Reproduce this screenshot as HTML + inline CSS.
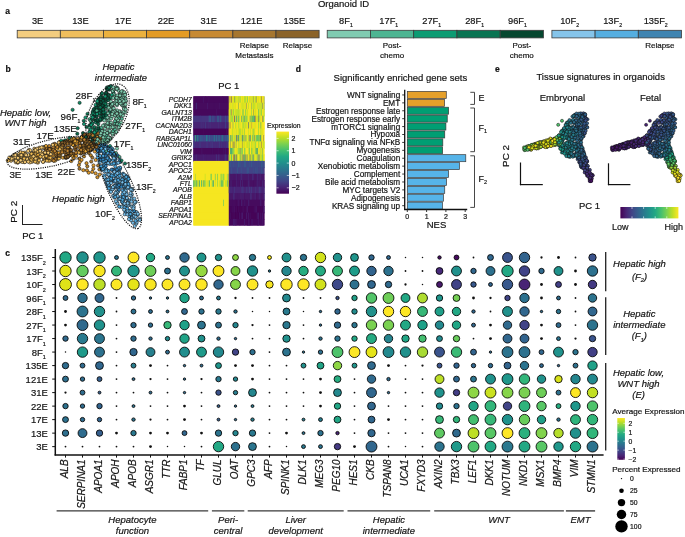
<!DOCTYPE html>
<html><head><meta charset="utf-8"><style>
html,body{margin:0;padding:0;background:#fff;}
svg{display:block;font-family:"Liberation Sans",sans-serif;will-change:transform;}
svg text{stroke:#151515;stroke-width:0.2px;}
</style></head><body>
<svg width="685" height="537" viewBox="0 0 685 537">
<rect width="685" height="537" fill="#fff"/>
<text x="5.2" y="14.0" font-size="8.50" text-anchor="start" fill="#111" style="font-weight:bold">a</text>
<text x="343.6" y="6.7" font-size="9.50" text-anchor="middle" fill="#151515">Organoid ID</text>
<rect x="17.20" y="30.3" width="43.13" height="7.6" fill="#f3cd7f" stroke="#3b3b3b" stroke-width="0.8"/>
<rect x="60.33" y="30.3" width="43.13" height="7.6" fill="#efbe5d" stroke="#3b3b3b" stroke-width="0.8"/>
<rect x="103.46" y="30.3" width="43.13" height="7.6" fill="#ebb13e" stroke="#3b3b3b" stroke-width="0.8"/>
<rect x="146.59" y="30.3" width="43.13" height="7.6" fill="#e39b25" stroke="#3b3b3b" stroke-width="0.8"/>
<rect x="189.72" y="30.3" width="43.13" height="7.6" fill="#c78a33" stroke="#3b3b3b" stroke-width="0.8"/>
<rect x="232.85" y="30.3" width="43.13" height="7.6" fill="#a6762f" stroke="#3b3b3b" stroke-width="0.8"/>
<rect x="275.98" y="30.3" width="43.13" height="7.6" fill="#8b6329" stroke="#3b3b3b" stroke-width="0.8"/>
<text x="37.6" y="24.2" font-size="9.30" text-anchor="middle" fill="#151515">3E</text>
<text x="80.4" y="24.2" font-size="9.30" text-anchor="middle" fill="#151515">13E</text>
<text x="123.2" y="24.2" font-size="9.30" text-anchor="middle" fill="#151515">17E</text>
<text x="166.0" y="24.2" font-size="9.30" text-anchor="middle" fill="#151515">22E</text>
<text x="208.8" y="24.2" font-size="9.30" text-anchor="middle" fill="#151515">31E</text>
<text x="251.6" y="24.2" font-size="9.30" text-anchor="middle" fill="#151515">121E</text>
<text x="294.4" y="24.2" font-size="9.30" text-anchor="middle" fill="#151515">135E</text>
<rect x="327.20" y="30.3" width="43.24" height="7.6" fill="#80cbb1" stroke="#3b3b3b" stroke-width="0.8"/>
<rect x="370.44" y="30.3" width="43.24" height="7.6" fill="#4db592" stroke="#3b3b3b" stroke-width="0.8"/>
<rect x="413.68" y="30.3" width="43.24" height="7.6" fill="#0c9c73" stroke="#3b3b3b" stroke-width="0.8"/>
<rect x="456.92" y="30.3" width="43.24" height="7.6" fill="#097452" stroke="#3b3b3b" stroke-width="0.8"/>
<rect x="500.16" y="30.3" width="43.24" height="7.6" fill="#06472f" stroke="#3b3b3b" stroke-width="0.8"/>
<text x="345.9" y="24.2" font-size="9.30" text-anchor="middle" fill="#151515">8F<tspan font-size="5.20" dy="3.1">1</tspan></text>
<text x="388.8" y="24.2" font-size="9.30" text-anchor="middle" fill="#151515">17F<tspan font-size="5.20" dy="3.1">1</tspan></text>
<text x="431.7" y="24.2" font-size="9.30" text-anchor="middle" fill="#151515">27F<tspan font-size="5.20" dy="3.1">1</tspan></text>
<text x="474.6" y="24.2" font-size="9.30" text-anchor="middle" fill="#151515">28F<tspan font-size="5.20" dy="3.1">1</tspan></text>
<text x="517.5" y="24.2" font-size="9.30" text-anchor="middle" fill="#151515">96F<tspan font-size="5.20" dy="3.1">1</tspan></text>
<rect x="551.90" y="30.3" width="43.20" height="7.6" fill="#85c4ea" stroke="#3b3b3b" stroke-width="0.8"/>
<rect x="595.10" y="30.3" width="43.20" height="7.6" fill="#55aee0" stroke="#3b3b3b" stroke-width="0.8"/>
<rect x="638.30" y="30.3" width="43.20" height="7.6" fill="#3f84b1" stroke="#3b3b3b" stroke-width="0.8"/>
<text x="569.6" y="24.2" font-size="9.30" text-anchor="middle" fill="#151515">10F<tspan font-size="5.20" dy="3.1">2</tspan></text>
<text x="612.6" y="24.2" font-size="9.30" text-anchor="middle" fill="#151515">13F<tspan font-size="5.20" dy="3.1">2</tspan></text>
<text x="655.7" y="24.2" font-size="9.30" text-anchor="middle" fill="#151515">135F<tspan font-size="5.20" dy="3.1">2</tspan></text>
<text x="254.4" y="47.5" font-size="8.00" text-anchor="middle" fill="#151515">Relapse</text>
<text x="254.4" y="57.7" font-size="8.00" text-anchor="middle" fill="#151515">Metastasis</text>
<text x="297.5" y="47.5" font-size="8.00" text-anchor="middle" fill="#151515">Relapse</text>
<text x="392.1" y="47.5" font-size="8.00" text-anchor="middle" fill="#151515">Post-</text>
<text x="392.1" y="57.7" font-size="8.00" text-anchor="middle" fill="#151515">chemo</text>
<text x="521.8" y="47.5" font-size="8.00" text-anchor="middle" fill="#151515">Post-</text>
<text x="521.8" y="57.7" font-size="8.00" text-anchor="middle" fill="#151515">chemo</text>
<text x="659.9" y="47.5" font-size="8.00" text-anchor="middle" fill="#151515">Relapse</text>
<text x="5.5" y="72.0" font-size="8.50" text-anchor="start" fill="#111" style="font-weight:bold">b</text>
<g stroke="#111" stroke-width="0.55">
<circle cx="70.9" cy="152.1" r="1.6" fill="#9c6e2b"/>
<circle cx="116.1" cy="96.0" r="1.6" fill="#80cfb1"/>
<circle cx="103.8" cy="138.1" r="1.6" fill="#80cfb1"/>
<circle cx="131.2" cy="218.1" r="1.6" fill="#78bfea"/>
<circle cx="110.2" cy="153.7" r="1.6" fill="#4aa7df"/>
<circle cx="121.3" cy="103.1" r="1.6" fill="#80cfb1"/>
<circle cx="95.8" cy="145.3" r="1.6" fill="#825b25"/>
<circle cx="77.3" cy="151.3" r="1.6" fill="#c08431"/>
<circle cx="114.1" cy="126.8" r="1.6" fill="#80cfb1"/>
<circle cx="82.9" cy="135.8" r="1.6" fill="#9c6e2b"/>
<circle cx="67.4" cy="140.2" r="1.6" fill="#825b25"/>
<circle cx="127.8" cy="212.0" r="1.6" fill="#78bfea"/>
<circle cx="84.5" cy="139.4" r="1.6" fill="#825b25"/>
<circle cx="80.2" cy="140.7" r="1.6" fill="#825b25"/>
<circle cx="93.8" cy="140.2" r="1.6" fill="#139e78"/>
<circle cx="129.4" cy="204.8" r="1.6" fill="#78bfea"/>
<circle cx="48.7" cy="148.8" r="1.6" fill="#9c6e2b"/>
<circle cx="17.8" cy="157.4" r="1.6" fill="#f0bb52"/>
<circle cx="116.8" cy="191.2" r="1.6" fill="#78bfea"/>
<circle cx="95.0" cy="120.3" r="1.6" fill="#07553e"/>
<circle cx="113.3" cy="133.2" r="1.6" fill="#80cfb1"/>
<circle cx="116.8" cy="180.4" r="1.6" fill="#78bfea"/>
<circle cx="79.8" cy="151.1" r="1.6" fill="#825b25"/>
<circle cx="123.1" cy="173.7" r="1.6" fill="#2f7fb8"/>
<circle cx="109.2" cy="175.5" r="1.6" fill="#2f7fb8"/>
<circle cx="75.8" cy="139.4" r="1.6" fill="#e09b2a"/>
<circle cx="115.8" cy="155.1" r="1.6" fill="#2f7fb8"/>
<circle cx="87.3" cy="140.7" r="1.6" fill="#9c6e2b"/>
<circle cx="101.8" cy="134.5" r="1.6" fill="#80cfb1"/>
<circle cx="117.2" cy="202.9" r="1.6" fill="#78bfea"/>
<circle cx="47.4" cy="152.6" r="1.6" fill="#825b25"/>
<circle cx="56.6" cy="156.9" r="1.6" fill="#825b25"/>
<circle cx="65.0" cy="140.3" r="1.6" fill="#0f8a62"/>
<circle cx="113.8" cy="93.1" r="1.6" fill="#139e78"/>
<circle cx="101.0" cy="130.2" r="1.6" fill="#4db592"/>
<circle cx="84.5" cy="152.3" r="1.6" fill="#e09b2a"/>
<circle cx="99.6" cy="129.6" r="1.6" fill="#139e78"/>
<circle cx="122.2" cy="105.4" r="1.6" fill="#80cfb1"/>
<circle cx="106.4" cy="92.3" r="1.6" fill="#07553e"/>
<circle cx="84.2" cy="151.6" r="1.6" fill="#9c6e2b"/>
<circle cx="17.4" cy="156.9" r="1.6" fill="#f7cb72"/>
<circle cx="91.0" cy="149.6" r="1.6" fill="#9c6e2b"/>
<circle cx="113.5" cy="103.7" r="1.6" fill="#80cfb1"/>
<circle cx="127.7" cy="180.1" r="1.6" fill="#4aa7df"/>
<circle cx="45.8" cy="146.8" r="1.6" fill="#e6a838"/>
<circle cx="79.8" cy="144.4" r="1.6" fill="#9c6e2b"/>
<circle cx="102.1" cy="134.2" r="1.6" fill="#80cfb1"/>
<circle cx="58.6" cy="155.0" r="1.6" fill="#e09b2a"/>
<circle cx="109.6" cy="132.3" r="1.6" fill="#4db592"/>
<circle cx="131.1" cy="220.4" r="1.6" fill="#78bfea"/>
<circle cx="118.5" cy="180.8" r="1.6" fill="#78bfea"/>
<circle cx="66.2" cy="154.7" r="1.6" fill="#9c6e2b"/>
<circle cx="123.2" cy="195.8" r="1.6" fill="#78bfea"/>
<circle cx="110.1" cy="104.2" r="1.6" fill="#0b7756"/>
<circle cx="116.1" cy="118.8" r="1.6" fill="#80cfb1"/>
<circle cx="20.4" cy="160.6" r="1.6" fill="#f7cb72"/>
<circle cx="92.4" cy="145.1" r="1.6" fill="#c08431"/>
<circle cx="116.5" cy="172.6" r="1.6" fill="#4aa7df"/>
<circle cx="112.7" cy="107.2" r="1.6" fill="#80cfb1"/>
<circle cx="107.0" cy="99.9" r="1.6" fill="#07553e"/>
<circle cx="29.7" cy="157.6" r="1.6" fill="#f7cb72"/>
<circle cx="105.3" cy="111.9" r="1.6" fill="#139e78"/>
<circle cx="71.6" cy="142.9" r="1.6" fill="#825b25"/>
<circle cx="115.5" cy="112.4" r="1.6" fill="#80cfb1"/>
<circle cx="115.4" cy="123.5" r="1.6" fill="#80cfb1"/>
<circle cx="44.6" cy="147.1" r="1.6" fill="#f7cb72"/>
<circle cx="99.1" cy="143.2" r="1.6" fill="#e6a838"/>
<circle cx="86.9" cy="146.7" r="1.6" fill="#825b25"/>
<circle cx="116.2" cy="98.0" r="1.6" fill="#80cfb1"/>
<circle cx="120.2" cy="96.8" r="1.6" fill="#80cfb1"/>
<circle cx="85.6" cy="140.0" r="1.6" fill="#e6a838"/>
<circle cx="71.3" cy="161.1" r="1.6" fill="#e09b2a"/>
<circle cx="116.1" cy="184.7" r="1.6" fill="#4aa7df"/>
<circle cx="107.2" cy="97.1" r="1.6" fill="#07553e"/>
<circle cx="104.7" cy="115.1" r="1.6" fill="#0b7756"/>
<circle cx="109.7" cy="123.0" r="1.6" fill="#4db592"/>
<circle cx="110.5" cy="138.1" r="1.6" fill="#80cfb1"/>
<circle cx="80.7" cy="153.6" r="1.6" fill="#825b25"/>
<circle cx="85.8" cy="135.4" r="1.6" fill="#825b25"/>
<circle cx="15.3" cy="160.4" r="1.6" fill="#f7cb72"/>
<circle cx="117.7" cy="119.8" r="1.6" fill="#4db592"/>
<circle cx="101.6" cy="169.3" r="1.6" fill="#2f7fb8"/>
<circle cx="114.0" cy="186.0" r="1.6" fill="#4aa7df"/>
<circle cx="99.9" cy="139.4" r="1.6" fill="#825b25"/>
<circle cx="134.7" cy="216.8" r="1.6" fill="#78bfea"/>
<circle cx="107.4" cy="170.3" r="1.6" fill="#4aa7df"/>
<circle cx="72.0" cy="154.5" r="1.6" fill="#825b25"/>
<circle cx="113.1" cy="195.7" r="1.6" fill="#78bfea"/>
<circle cx="39.2" cy="156.8" r="1.6" fill="#f0bb52"/>
<circle cx="111.8" cy="115.8" r="1.6" fill="#80cfb1"/>
<circle cx="70.1" cy="155.0" r="1.6" fill="#825b25"/>
<circle cx="112.0" cy="150.0" r="1.6" fill="#4db592"/>
<circle cx="118.4" cy="90.7" r="1.6" fill="#80cfb1"/>
<circle cx="122.3" cy="196.4" r="1.6" fill="#78bfea"/>
<circle cx="53.7" cy="160.4" r="1.6" fill="#825b25"/>
<circle cx="118.1" cy="182.4" r="1.6" fill="#4aa7df"/>
<circle cx="91.2" cy="136.5" r="1.6" fill="#0b7756"/>
<circle cx="19.0" cy="155.3" r="1.6" fill="#f0bb52"/>
<circle cx="107.8" cy="88.4" r="1.6" fill="#0b7756"/>
<circle cx="127.5" cy="177.1" r="1.6" fill="#2f7fb8"/>
<circle cx="113.6" cy="89.9" r="1.6" fill="#0b7756"/>
<circle cx="36.2" cy="151.2" r="1.6" fill="#f7cb72"/>
<circle cx="44.9" cy="160.0" r="1.6" fill="#f7cb72"/>
<circle cx="124.9" cy="94.0" r="1.6" fill="#80cfb1"/>
<circle cx="124.5" cy="94.4" r="1.6" fill="#80cfb1"/>
<circle cx="112.5" cy="187.9" r="1.6" fill="#2f7fb8"/>
<circle cx="97.6" cy="157.7" r="1.6" fill="#4aa7df"/>
<circle cx="39.2" cy="157.5" r="1.6" fill="#f7cb72"/>
<circle cx="90.3" cy="132.0" r="1.6" fill="#07553e"/>
<circle cx="100.6" cy="143.8" r="1.6" fill="#80cfb1"/>
<circle cx="119.8" cy="116.0" r="1.6" fill="#80cfb1"/>
<circle cx="108.3" cy="120.4" r="1.6" fill="#80cfb1"/>
<circle cx="42.6" cy="153.6" r="1.6" fill="#f7cb72"/>
<circle cx="71.0" cy="140.4" r="1.6" fill="#c08431"/>
<circle cx="119.6" cy="94.5" r="1.6" fill="#80cfb1"/>
<circle cx="103.8" cy="158.8" r="1.6" fill="#4aa7df"/>
<circle cx="84.2" cy="146.8" r="1.6" fill="#c08431"/>
<circle cx="119.9" cy="111.5" r="1.6" fill="#80cfb1"/>
<circle cx="69.1" cy="151.0" r="1.6" fill="#9c6e2b"/>
<circle cx="112.6" cy="134.7" r="1.6" fill="#80cfb1"/>
<circle cx="129.7" cy="211.1" r="1.6" fill="#78bfea"/>
<circle cx="98.1" cy="131.9" r="1.6" fill="#80cfb1"/>
<circle cx="57.0" cy="145.9" r="1.6" fill="#0f8a62"/>
<circle cx="51.2" cy="148.7" r="1.6" fill="#825b25"/>
<circle cx="94.1" cy="136.0" r="1.6" fill="#e6a838"/>
<circle cx="79.5" cy="168.7" r="1.6" fill="#a6762f"/>
<circle cx="28.4" cy="155.1" r="1.6" fill="#f7cb72"/>
<circle cx="115.3" cy="176.1" r="1.6" fill="#2f7fb8"/>
<circle cx="107.5" cy="117.4" r="1.6" fill="#80cfb1"/>
<circle cx="113.5" cy="156.3" r="1.6" fill="#2f7fb8"/>
<circle cx="120.6" cy="93.1" r="1.6" fill="#80cfb1"/>
<circle cx="123.3" cy="199.4" r="1.6" fill="#78bfea"/>
<circle cx="117.5" cy="103.1" r="1.6" fill="#80cfb1"/>
<circle cx="10.9" cy="157.4" r="1.6" fill="#f7cb72"/>
<circle cx="101.6" cy="118.4" r="1.6" fill="#0b7756"/>
<circle cx="134.8" cy="226.0" r="1.6" fill="#78bfea"/>
<circle cx="45.4" cy="148.9" r="1.6" fill="#9c6e2b"/>
<circle cx="126.1" cy="181.1" r="1.6" fill="#78bfea"/>
<circle cx="65.1" cy="142.6" r="1.6" fill="#e6a838"/>
<circle cx="76.2" cy="147.3" r="1.6" fill="#c08431"/>
<circle cx="36.0" cy="154.1" r="1.6" fill="#f7cb72"/>
<circle cx="11.0" cy="158.3" r="1.6" fill="#f0bb52"/>
<circle cx="109.6" cy="109.3" r="1.6" fill="#07553e"/>
<circle cx="107.7" cy="99.7" r="1.6" fill="#80cfb1"/>
<circle cx="14.5" cy="156.8" r="1.6" fill="#f7cb72"/>
<circle cx="120.2" cy="167.9" r="1.6" fill="#4aa7df"/>
<circle cx="125.0" cy="93.8" r="1.6" fill="#80cfb1"/>
<circle cx="119.5" cy="206.5" r="1.6" fill="#78bfea"/>
<circle cx="125.4" cy="212.1" r="1.6" fill="#2f7fb8"/>
<circle cx="110.0" cy="146.0" r="1.6" fill="#139e78"/>
<circle cx="81.0" cy="138.7" r="1.6" fill="#825b25"/>
<circle cx="122.3" cy="183.2" r="1.6" fill="#4aa7df"/>
<circle cx="100.1" cy="140.8" r="1.6" fill="#e09b2a"/>
<circle cx="93.9" cy="114.8" r="1.6" fill="#139e78"/>
<circle cx="108.6" cy="171.1" r="1.6" fill="#4aa7df"/>
<circle cx="62.9" cy="157.7" r="1.6" fill="#e6a838"/>
<circle cx="99.0" cy="128.2" r="1.6" fill="#0b7756"/>
<circle cx="118.6" cy="116.9" r="1.6" fill="#80cfb1"/>
<circle cx="100.0" cy="136.2" r="1.6" fill="#825b25"/>
<circle cx="92.2" cy="114.9" r="1.6" fill="#0b7756"/>
<circle cx="117.6" cy="155.4" r="1.6" fill="#2f7fb8"/>
<circle cx="129.0" cy="212.6" r="1.6" fill="#4aa7df"/>
<circle cx="110.0" cy="86.7" r="1.6" fill="#0b7756"/>
<circle cx="85.2" cy="138.3" r="1.6" fill="#9c6e2b"/>
<circle cx="102.7" cy="138.2" r="1.6" fill="#80cfb1"/>
<circle cx="68.8" cy="148.9" r="1.6" fill="#c08431"/>
<circle cx="57.5" cy="159.0" r="1.6" fill="#825b25"/>
<circle cx="77.8" cy="138.6" r="1.6" fill="#c08431"/>
<circle cx="130.8" cy="188.8" r="1.6" fill="#78bfea"/>
<circle cx="118.6" cy="185.6" r="1.6" fill="#4aa7df"/>
<circle cx="100.6" cy="151.3" r="1.6" fill="#4aa7df"/>
<circle cx="119.7" cy="169.4" r="1.6" fill="#2f7fb8"/>
<circle cx="107.3" cy="99.0" r="1.6" fill="#139e78"/>
<circle cx="41.5" cy="153.7" r="1.6" fill="#f7cb72"/>
<circle cx="104.1" cy="116.9" r="1.6" fill="#0b7756"/>
<circle cx="101.7" cy="113.0" r="1.6" fill="#0b7756"/>
<circle cx="28.7" cy="159.3" r="1.6" fill="#f7cb72"/>
<circle cx="114.5" cy="97.7" r="1.6" fill="#80cfb1"/>
<circle cx="128.0" cy="210.1" r="1.6" fill="#78bfea"/>
<circle cx="104.0" cy="153.7" r="1.6" fill="#2f7fb8"/>
<circle cx="112.8" cy="91.4" r="1.6" fill="#139e78"/>
<circle cx="125.9" cy="206.2" r="1.6" fill="#78bfea"/>
<circle cx="60.6" cy="153.8" r="1.6" fill="#c08431"/>
<circle cx="114.8" cy="171.3" r="1.6" fill="#4aa7df"/>
<circle cx="117.0" cy="148.5" r="1.6" fill="#80cfb1"/>
<circle cx="85.8" cy="138.0" r="1.6" fill="#9c6e2b"/>
<circle cx="59.2" cy="143.0" r="1.6" fill="#c08431"/>
<circle cx="116.0" cy="87.1" r="1.6" fill="#80cfb1"/>
<circle cx="52.2" cy="151.5" r="1.6" fill="#e09b2a"/>
<circle cx="103.7" cy="164.6" r="1.6" fill="#78bfea"/>
<circle cx="109.6" cy="148.0" r="1.6" fill="#2f7fb8"/>
<circle cx="91.5" cy="122.7" r="1.6" fill="#07553e"/>
<circle cx="90.1" cy="142.2" r="1.6" fill="#825b25"/>
<circle cx="114.5" cy="170.2" r="1.6" fill="#4aa7df"/>
<circle cx="29.0" cy="149.8" r="1.6" fill="#f7cb72"/>
<circle cx="69.6" cy="141.2" r="1.6" fill="#825b25"/>
<circle cx="46.4" cy="150.2" r="1.6" fill="#c08431"/>
<circle cx="96.1" cy="139.5" r="1.6" fill="#4db592"/>
<circle cx="44.0" cy="158.9" r="1.6" fill="#e6a838"/>
<circle cx="100.1" cy="98.0" r="1.6" fill="#07553e"/>
<circle cx="112.5" cy="126.9" r="1.6" fill="#80cfb1"/>
<circle cx="72.0" cy="144.1" r="1.6" fill="#9c6e2b"/>
<circle cx="93.2" cy="141.3" r="1.6" fill="#0b7756"/>
<circle cx="23.8" cy="153.8" r="1.6" fill="#f7cb72"/>
<circle cx="79.7" cy="148.0" r="1.6" fill="#e09b2a"/>
<circle cx="123.5" cy="203.9" r="1.6" fill="#4aa7df"/>
<circle cx="133.3" cy="216.3" r="1.6" fill="#78bfea"/>
<circle cx="119.8" cy="111.5" r="1.6" fill="#80cfb1"/>
<circle cx="132.3" cy="190.0" r="1.6" fill="#78bfea"/>
<circle cx="65.7" cy="144.9" r="1.6" fill="#9c6e2b"/>
<circle cx="78.9" cy="165.1" r="1.6" fill="#d39028"/>
<circle cx="112.1" cy="155.0" r="1.6" fill="#2f7fb8"/>
<circle cx="54.4" cy="144.3" r="1.6" fill="#825b25"/>
<circle cx="59.3" cy="142.3" r="1.6" fill="#c08431"/>
<circle cx="124.6" cy="187.9" r="1.6" fill="#4aa7df"/>
<circle cx="99.8" cy="142.1" r="1.6" fill="#9c6e2b"/>
<circle cx="46.8" cy="148.0" r="1.6" fill="#c08431"/>
<circle cx="107.2" cy="135.2" r="1.6" fill="#80cfb1"/>
<circle cx="59.7" cy="156.5" r="1.6" fill="#c08431"/>
<circle cx="113.6" cy="94.4" r="1.6" fill="#80cfb1"/>
<circle cx="112.5" cy="103.0" r="1.6" fill="#80cfb1"/>
<circle cx="55.2" cy="149.6" r="1.6" fill="#825b25"/>
<circle cx="69.1" cy="142.6" r="1.6" fill="#e09b2a"/>
<circle cx="97.9" cy="141.7" r="1.6" fill="#9c6e2b"/>
<circle cx="107.9" cy="138.8" r="1.6" fill="#80cfb1"/>
<circle cx="43.2" cy="161.8" r="1.6" fill="#f0bb52"/>
<circle cx="110.0" cy="108.0" r="1.6" fill="#80cfb1"/>
<circle cx="122.5" cy="91.1" r="1.6" fill="#80cfb1"/>
<circle cx="124.7" cy="214.3" r="1.6" fill="#78bfea"/>
<circle cx="111.9" cy="180.1" r="1.6" fill="#2f7fb8"/>
<circle cx="88.7" cy="172.7" r="1.6" fill="#e09b2a"/>
<circle cx="115.5" cy="158.3" r="1.6" fill="#4aa7df"/>
<circle cx="24.8" cy="152.6" r="1.6" fill="#f0bb52"/>
<circle cx="104.5" cy="143.5" r="1.6" fill="#2f7fb8"/>
<circle cx="113.5" cy="155.3" r="1.6" fill="#2f7fb8"/>
<circle cx="121.9" cy="118.8" r="1.6" fill="#4db592"/>
<circle cx="100.0" cy="134.2" r="1.6" fill="#80cfb1"/>
<circle cx="17.4" cy="159.6" r="1.6" fill="#f7cb72"/>
<circle cx="119.8" cy="101.3" r="1.6" fill="#80cfb1"/>
<circle cx="53.8" cy="152.4" r="1.6" fill="#e09b2a"/>
<circle cx="48.1" cy="154.3" r="1.6" fill="#e6a838"/>
<circle cx="37.3" cy="153.8" r="1.6" fill="#f7cb72"/>
<circle cx="115.1" cy="115.4" r="1.6" fill="#80cfb1"/>
<circle cx="115.0" cy="132.4" r="1.6" fill="#80cfb1"/>
<circle cx="117.2" cy="186.3" r="1.6" fill="#2f7fb8"/>
<circle cx="110.5" cy="112.9" r="1.6" fill="#80cfb1"/>
<circle cx="129.6" cy="216.4" r="1.6" fill="#4aa7df"/>
<circle cx="101.4" cy="94.4" r="1.6" fill="#0b7756"/>
<circle cx="98.9" cy="100.3" r="1.6" fill="#139e78"/>
<circle cx="122.1" cy="178.7" r="1.6" fill="#4aa7df"/>
<circle cx="109.7" cy="164.0" r="1.6" fill="#4aa7df"/>
<circle cx="98.5" cy="100.7" r="1.6" fill="#07553e"/>
<circle cx="114.2" cy="180.9" r="1.6" fill="#2f7fb8"/>
<circle cx="47.0" cy="159.4" r="1.6" fill="#825b25"/>
<circle cx="84.3" cy="134.7" r="1.6" fill="#825b25"/>
<circle cx="97.1" cy="114.6" r="1.6" fill="#0b7756"/>
<circle cx="117.8" cy="184.9" r="1.6" fill="#4aa7df"/>
<circle cx="120.2" cy="177.7" r="1.6" fill="#78bfea"/>
<circle cx="127.2" cy="199.3" r="1.6" fill="#4aa7df"/>
<circle cx="7.8" cy="160.4" r="1.6" fill="#f7cb72"/>
<circle cx="116.3" cy="103.0" r="1.6" fill="#80cfb1"/>
<circle cx="124.0" cy="203.3" r="1.6" fill="#78bfea"/>
<circle cx="135.8" cy="201.9" r="1.6" fill="#4aa7df"/>
<circle cx="126.5" cy="196.3" r="1.6" fill="#78bfea"/>
<circle cx="88.9" cy="145.2" r="1.6" fill="#e09b2a"/>
<circle cx="13.3" cy="158.8" r="1.6" fill="#f7cb72"/>
<circle cx="32.5" cy="161.6" r="1.6" fill="#f7cb72"/>
<circle cx="118.0" cy="116.0" r="1.6" fill="#80cfb1"/>
<circle cx="44.0" cy="147.3" r="1.6" fill="#f7cb72"/>
<circle cx="107.9" cy="157.5" r="1.6" fill="#4aa7df"/>
<circle cx="94.3" cy="111.5" r="1.6" fill="#07553e"/>
<circle cx="82.3" cy="136.5" r="1.6" fill="#825b25"/>
<circle cx="92.0" cy="123.4" r="1.6" fill="#139e78"/>
<circle cx="84.4" cy="151.1" r="1.6" fill="#825b25"/>
<circle cx="107.6" cy="135.3" r="1.6" fill="#80cfb1"/>
<circle cx="111.1" cy="122.6" r="1.6" fill="#80cfb1"/>
<circle cx="111.9" cy="111.5" r="1.6" fill="#80cfb1"/>
<circle cx="59.8" cy="142.2" r="1.6" fill="#e6a838"/>
<circle cx="105.8" cy="96.6" r="1.6" fill="#139e78"/>
<circle cx="114.5" cy="126.9" r="1.6" fill="#80cfb1"/>
<circle cx="105.4" cy="178.4" r="1.6" fill="#4aa7df"/>
<circle cx="72.3" cy="140.4" r="1.6" fill="#c08431"/>
<circle cx="41.4" cy="156.5" r="1.6" fill="#f7cb72"/>
<circle cx="121.6" cy="112.5" r="1.6" fill="#80cfb1"/>
<circle cx="35.5" cy="155.3" r="1.6" fill="#c08431"/>
<circle cx="107.5" cy="181.6" r="1.6" fill="#78bfea"/>
<circle cx="116.1" cy="123.9" r="1.6" fill="#80cfb1"/>
<circle cx="90.2" cy="146.2" r="1.6" fill="#825b25"/>
<circle cx="86.1" cy="134.8" r="1.6" fill="#9c6e2b"/>
<circle cx="110.4" cy="105.3" r="1.6" fill="#07553e"/>
<circle cx="130.1" cy="210.7" r="1.6" fill="#78bfea"/>
<circle cx="100.3" cy="102.3" r="1.6" fill="#139e78"/>
<circle cx="95.6" cy="173.3" r="1.6" fill="#e09b2a"/>
<circle cx="124.7" cy="182.5" r="1.6" fill="#78bfea"/>
<circle cx="119.5" cy="157.0" r="1.6" fill="#4db592"/>
<circle cx="101.1" cy="167.7" r="1.6" fill="#2f7fb8"/>
<circle cx="106.6" cy="158.5" r="1.6" fill="#2f7fb8"/>
<circle cx="96.4" cy="144.0" r="1.6" fill="#825b25"/>
<circle cx="116.2" cy="173.8" r="1.6" fill="#4aa7df"/>
<circle cx="92.1" cy="140.8" r="1.6" fill="#0b7756"/>
<circle cx="83.7" cy="136.0" r="1.6" fill="#825b25"/>
<circle cx="102.4" cy="115.8" r="1.6" fill="#139e78"/>
<circle cx="113.3" cy="90.3" r="1.6" fill="#139e78"/>
<circle cx="110.7" cy="125.2" r="1.6" fill="#80cfb1"/>
<circle cx="124.6" cy="101.3" r="1.6" fill="#80cfb1"/>
<circle cx="106.7" cy="182.7" r="1.6" fill="#2f7fb8"/>
<circle cx="37.3" cy="150.9" r="1.6" fill="#f7cb72"/>
<circle cx="86.9" cy="170.3" r="1.6" fill="#d39028"/>
<circle cx="125.9" cy="101.3" r="1.6" fill="#80cfb1"/>
<circle cx="114.3" cy="181.7" r="1.6" fill="#2f7fb8"/>
<circle cx="100.5" cy="159.4" r="1.6" fill="#2f7fb8"/>
<circle cx="90.4" cy="127.4" r="1.6" fill="#139e78"/>
<circle cx="43.6" cy="153.9" r="1.6" fill="#f7cb72"/>
<circle cx="126.7" cy="179.6" r="1.6" fill="#78bfea"/>
<circle cx="93.6" cy="135.8" r="1.6" fill="#e6a838"/>
<circle cx="102.3" cy="169.4" r="1.6" fill="#4aa7df"/>
<circle cx="107.4" cy="96.5" r="1.6" fill="#139e78"/>
<circle cx="84.6" cy="143.7" r="1.6" fill="#825b25"/>
<circle cx="62.0" cy="142.8" r="1.6" fill="#e6a838"/>
<circle cx="119.7" cy="162.0" r="1.6" fill="#4aa7df"/>
<circle cx="131.6" cy="199.1" r="1.6" fill="#78bfea"/>
<circle cx="71.3" cy="141.8" r="1.6" fill="#825b25"/>
<circle cx="117.1" cy="124.8" r="1.6" fill="#80cfb1"/>
<circle cx="48.9" cy="148.5" r="1.6" fill="#c08431"/>
<circle cx="118.4" cy="197.3" r="1.6" fill="#78bfea"/>
<circle cx="81.5" cy="138.4" r="1.6" fill="#9c6e2b"/>
<circle cx="86.9" cy="144.5" r="1.6" fill="#9c6e2b"/>
<circle cx="120.5" cy="92.9" r="1.6" fill="#80cfb1"/>
<circle cx="93.5" cy="165.4" r="1.6" fill="#e6a232"/>
<circle cx="17.8" cy="162.7" r="1.6" fill="#f7cb72"/>
<circle cx="49.2" cy="146.0" r="1.6" fill="#c08431"/>
<circle cx="109.5" cy="173.8" r="1.6" fill="#4aa7df"/>
<circle cx="128.5" cy="178.9" r="1.6" fill="#4aa7df"/>
<circle cx="74.2" cy="155.1" r="1.6" fill="#c08431"/>
<circle cx="125.1" cy="107.5" r="1.6" fill="#80cfb1"/>
<circle cx="124.0" cy="175.5" r="1.6" fill="#4aa7df"/>
<circle cx="97.3" cy="139.5" r="1.6" fill="#80cfb1"/>
<circle cx="109.1" cy="186.1" r="1.6" fill="#2f7fb8"/>
<circle cx="120.6" cy="94.1" r="1.6" fill="#80cfb1"/>
<circle cx="105.6" cy="103.7" r="1.6" fill="#139e78"/>
<circle cx="118.2" cy="191.7" r="1.6" fill="#78bfea"/>
<circle cx="95.8" cy="115.8" r="1.6" fill="#0b7756"/>
<circle cx="104.5" cy="134.8" r="1.6" fill="#80cfb1"/>
<circle cx="103.7" cy="160.6" r="1.6" fill="#2f7fb8"/>
<circle cx="98.2" cy="142.7" r="1.6" fill="#80cfb1"/>
<circle cx="68.4" cy="148.2" r="1.6" fill="#e6a838"/>
<circle cx="99.8" cy="147.8" r="1.6" fill="#78bfea"/>
<circle cx="73.5" cy="158.3" r="1.6" fill="#b98226"/>
<circle cx="89.6" cy="134.8" r="1.6" fill="#825b25"/>
<circle cx="34.4" cy="159.4" r="1.6" fill="#f0bb52"/>
<circle cx="114.9" cy="123.4" r="1.6" fill="#4db592"/>
<circle cx="74.1" cy="138.3" r="1.6" fill="#9c6e2b"/>
<circle cx="116.6" cy="172.4" r="1.6" fill="#4aa7df"/>
<circle cx="112.4" cy="107.0" r="1.6" fill="#80cfb1"/>
<circle cx="117.0" cy="87.9" r="1.6" fill="#80cfb1"/>
<circle cx="101.9" cy="110.6" r="1.6" fill="#0b7756"/>
<circle cx="61.2" cy="143.1" r="1.6" fill="#825b25"/>
<circle cx="101.5" cy="135.1" r="1.6" fill="#80cfb1"/>
<circle cx="127.6" cy="210.8" r="1.6" fill="#78bfea"/>
<circle cx="130.4" cy="211.2" r="1.6" fill="#4aa7df"/>
<circle cx="106.7" cy="89.1" r="1.6" fill="#07553e"/>
<circle cx="56.0" cy="152.3" r="1.6" fill="#c08431"/>
<circle cx="124.9" cy="193.8" r="1.6" fill="#78bfea"/>
<circle cx="113.7" cy="129.8" r="1.6" fill="#80cfb1"/>
<circle cx="105.8" cy="180.1" r="1.6" fill="#4aa7df"/>
<circle cx="98.8" cy="110.5" r="1.6" fill="#139e78"/>
<circle cx="84.6" cy="141.9" r="1.6" fill="#825b25"/>
<circle cx="98.2" cy="149.7" r="1.6" fill="#4aa7df"/>
<circle cx="124.1" cy="105.4" r="1.6" fill="#80cfb1"/>
<circle cx="117.2" cy="124.1" r="1.6" fill="#80cfb1"/>
<circle cx="132.4" cy="211.9" r="1.6" fill="#78bfea"/>
<circle cx="114.4" cy="197.6" r="1.6" fill="#4aa7df"/>
<circle cx="71.0" cy="153.6" r="1.6" fill="#825b25"/>
<circle cx="101.9" cy="138.2" r="1.6" fill="#80cfb1"/>
<circle cx="83.8" cy="120.8" r="1.6" fill="#0b7756"/>
<circle cx="107.4" cy="174.1" r="1.6" fill="#78bfea"/>
<circle cx="112.6" cy="133.3" r="1.6" fill="#80cfb1"/>
<circle cx="111.3" cy="86.6" r="1.6" fill="#139e78"/>
<circle cx="109.5" cy="111.7" r="1.6" fill="#80cfb1"/>
<circle cx="125.0" cy="183.9" r="1.6" fill="#4aa7df"/>
<circle cx="65.9" cy="141.4" r="1.6" fill="#9c6e2b"/>
<circle cx="119.6" cy="96.3" r="1.6" fill="#80cfb1"/>
<circle cx="126.5" cy="181.6" r="1.6" fill="#78bfea"/>
<circle cx="90.7" cy="144.8" r="1.6" fill="#e6a838"/>
<circle cx="102.9" cy="161.1" r="1.6" fill="#4aa7df"/>
<circle cx="69.2" cy="147.2" r="1.6" fill="#825b25"/>
<circle cx="59.0" cy="158.5" r="1.6" fill="#f0bb52"/>
<circle cx="111.8" cy="94.8" r="1.6" fill="#139e78"/>
<circle cx="119.8" cy="99.6" r="1.6" fill="#80cfb1"/>
<circle cx="57.6" cy="152.9" r="1.6" fill="#825b25"/>
<circle cx="31.0" cy="158.4" r="1.6" fill="#f0bb52"/>
<circle cx="101.5" cy="105.3" r="1.6" fill="#139e78"/>
<circle cx="92.0" cy="149.4" r="1.6" fill="#825b25"/>
<circle cx="104.2" cy="130.7" r="1.6" fill="#80cfb1"/>
<circle cx="113.0" cy="103.9" r="1.6" fill="#80cfb1"/>
<circle cx="74.5" cy="143.5" r="1.6" fill="#9c6e2b"/>
<circle cx="136.1" cy="215.3" r="1.6" fill="#78bfea"/>
<circle cx="117.8" cy="122.4" r="1.6" fill="#4db592"/>
<circle cx="90.3" cy="131.3" r="1.6" fill="#139e78"/>
<circle cx="116.8" cy="112.7" r="1.6" fill="#80cfb1"/>
<circle cx="76.4" cy="146.8" r="1.6" fill="#c08431"/>
<circle cx="97.2" cy="146.6" r="1.6" fill="#9c6e2b"/>
<circle cx="89.5" cy="132.0" r="1.6" fill="#0b7756"/>
<circle cx="84.4" cy="136.5" r="1.6" fill="#9c6e2b"/>
<circle cx="126.0" cy="175.7" r="1.6" fill="#2f7fb8"/>
<circle cx="23.7" cy="154.5" r="1.6" fill="#f7cb72"/>
<circle cx="121.5" cy="91.4" r="1.6" fill="#80cfb1"/>
<circle cx="122.1" cy="185.3" r="1.6" fill="#4aa7df"/>
<circle cx="63.3" cy="147.4" r="1.6" fill="#9c6e2b"/>
<circle cx="37.3" cy="156.1" r="1.6" fill="#f0bb52"/>
<circle cx="71.9" cy="154.7" r="1.6" fill="#825b25"/>
<circle cx="24.9" cy="154.0" r="1.6" fill="#f7cb72"/>
<circle cx="90.8" cy="135.2" r="1.6" fill="#9c6e2b"/>
<circle cx="124.0" cy="96.8" r="1.6" fill="#80cfb1"/>
<circle cx="37.4" cy="157.9" r="1.6" fill="#f7cb72"/>
<circle cx="131.9" cy="217.1" r="1.6" fill="#2f7fb8"/>
<circle cx="108.4" cy="141.1" r="1.6" fill="#80cfb1"/>
<circle cx="68.8" cy="150.1" r="1.6" fill="#9c6e2b"/>
<circle cx="107.3" cy="125.8" r="1.6" fill="#80cfb1"/>
<circle cx="139.8" cy="218.7" r="1.6" fill="#78bfea"/>
<circle cx="90.8" cy="125.5" r="1.6" fill="#0b7756"/>
<circle cx="103.0" cy="169.1" r="1.6" fill="#2f7fb8"/>
<circle cx="109.5" cy="182.9" r="1.6" fill="#78bfea"/>
<circle cx="31.4" cy="161.8" r="1.6" fill="#f7cb72"/>
<circle cx="19.0" cy="158.8" r="1.6" fill="#f7cb72"/>
<circle cx="104.2" cy="143.4" r="1.6" fill="#2f7fb8"/>
<circle cx="80.9" cy="145.6" r="1.6" fill="#825b25"/>
<circle cx="121.6" cy="206.9" r="1.6" fill="#78bfea"/>
<circle cx="89.3" cy="146.2" r="1.6" fill="#825b25"/>
<circle cx="103.7" cy="135.9" r="1.6" fill="#80cfb1"/>
<circle cx="124.0" cy="93.5" r="1.6" fill="#80cfb1"/>
<circle cx="105.4" cy="101.9" r="1.6" fill="#139e78"/>
<circle cx="34.3" cy="148.7" r="1.6" fill="#f7cb72"/>
<circle cx="29.9" cy="159.9" r="1.6" fill="#f7cb72"/>
<circle cx="100.2" cy="120.5" r="1.6" fill="#0b7756"/>
<circle cx="112.1" cy="125.8" r="1.6" fill="#80cfb1"/>
<circle cx="106.4" cy="134.3" r="1.6" fill="#80cfb1"/>
<circle cx="70.2" cy="154.7" r="1.6" fill="#825b25"/>
<circle cx="30.4" cy="158.0" r="1.6" fill="#f0bb52"/>
<circle cx="64.4" cy="151.6" r="1.6" fill="#c08431"/>
<circle cx="69.7" cy="150.0" r="1.6" fill="#825b25"/>
<circle cx="133.3" cy="206.4" r="1.6" fill="#4aa7df"/>
<circle cx="110.7" cy="138.7" r="1.6" fill="#80cfb1"/>
<circle cx="99.1" cy="151.5" r="1.6" fill="#2f7fb8"/>
<circle cx="62.3" cy="148.5" r="1.6" fill="#9c6e2b"/>
<circle cx="95.2" cy="115.2" r="1.6" fill="#139e78"/>
<circle cx="90.0" cy="137.3" r="1.6" fill="#825b25"/>
<circle cx="107.5" cy="184.5" r="1.6" fill="#2f7fb8"/>
<circle cx="33.4" cy="155.3" r="1.6" fill="#e6a838"/>
<circle cx="28.4" cy="160.5" r="1.6" fill="#f7cb72"/>
<circle cx="24.1" cy="161.0" r="1.6" fill="#f0bb52"/>
<circle cx="53.7" cy="155.8" r="1.6" fill="#e6a838"/>
<circle cx="124.1" cy="108.0" r="1.6" fill="#80cfb1"/>
<circle cx="136.3" cy="223.7" r="1.6" fill="#78bfea"/>
<circle cx="97.1" cy="110.6" r="1.6" fill="#07553e"/>
<circle cx="127.6" cy="188.3" r="1.6" fill="#78bfea"/>
<circle cx="97.4" cy="136.6" r="1.6" fill="#825b25"/>
<circle cx="112.5" cy="174.1" r="1.6" fill="#78bfea"/>
<circle cx="102.0" cy="111.3" r="1.6" fill="#139e78"/>
<circle cx="87.3" cy="166.3" r="1.6" fill="#b98226"/>
<circle cx="104.8" cy="153.3" r="1.6" fill="#4aa7df"/>
<circle cx="128.9" cy="219.1" r="1.6" fill="#78bfea"/>
<circle cx="106.1" cy="114.5" r="1.6" fill="#139e78"/>
<circle cx="47.9" cy="157.3" r="1.6" fill="#f0bb52"/>
<circle cx="89.3" cy="141.6" r="1.6" fill="#c08431"/>
<circle cx="116.6" cy="193.5" r="1.6" fill="#78bfea"/>
<circle cx="86.4" cy="150.6" r="1.6" fill="#c08431"/>
<circle cx="115.5" cy="187.3" r="1.6" fill="#4aa7df"/>
<circle cx="132.9" cy="222.8" r="1.6" fill="#78bfea"/>
<circle cx="35.2" cy="149.4" r="1.6" fill="#f7cb72"/>
<circle cx="109.8" cy="106.7" r="1.6" fill="#80cfb1"/>
<circle cx="29.8" cy="162.4" r="1.6" fill="#f7cb72"/>
<circle cx="73.5" cy="144.8" r="1.6" fill="#e6a838"/>
<circle cx="126.3" cy="206.5" r="1.6" fill="#78bfea"/>
<circle cx="107.6" cy="157.0" r="1.6" fill="#2f7fb8"/>
<circle cx="99.4" cy="169.5" r="1.6" fill="#b98226"/>
<circle cx="131.9" cy="194.4" r="1.6" fill="#78bfea"/>
<circle cx="114.2" cy="103.2" r="1.6" fill="#80cfb1"/>
<circle cx="77.4" cy="151.6" r="1.6" fill="#e6a838"/>
<circle cx="91.7" cy="115.4" r="1.6" fill="#4db592"/>
<circle cx="82.4" cy="149.7" r="1.6" fill="#825b25"/>
<circle cx="136.3" cy="212.8" r="1.6" fill="#78bfea"/>
<circle cx="103.2" cy="140.7" r="1.6" fill="#80cfb1"/>
<circle cx="101.3" cy="101.6" r="1.6" fill="#139e78"/>
<circle cx="112.6" cy="155.9" r="1.6" fill="#2f7fb8"/>
<circle cx="106.9" cy="87.5" r="1.6" fill="#0b7756"/>
<circle cx="108.1" cy="186.4" r="1.6" fill="#78bfea"/>
<circle cx="103.9" cy="133.9" r="1.6" fill="#4db592"/>
<circle cx="100.1" cy="104.0" r="1.6" fill="#0b7756"/>
<circle cx="30.1" cy="150.3" r="1.6" fill="#f7cb72"/>
<circle cx="55.0" cy="149.7" r="1.6" fill="#c08431"/>
<circle cx="125.3" cy="177.0" r="1.6" fill="#78bfea"/>
<circle cx="60.0" cy="143.8" r="1.6" fill="#c08431"/>
<circle cx="109.4" cy="150.1" r="1.6" fill="#2f7fb8"/>
<circle cx="103.6" cy="141.9" r="1.6" fill="#80cfb1"/>
<circle cx="97.6" cy="105.3" r="1.6" fill="#139e78"/>
<circle cx="73.8" cy="143.2" r="1.6" fill="#e6a838"/>
<circle cx="124.1" cy="178.3" r="1.6" fill="#78bfea"/>
<circle cx="95.8" cy="146.6" r="1.6" fill="#825b25"/>
<circle cx="101.1" cy="110.8" r="1.6" fill="#0b7756"/>
<circle cx="109.3" cy="138.1" r="1.6" fill="#80cfb1"/>
<circle cx="112.2" cy="164.1" r="1.6" fill="#4aa7df"/>
<circle cx="94.1" cy="112.3" r="1.6" fill="#0b7756"/>
<circle cx="81.4" cy="149.0" r="1.6" fill="#825b25"/>
<circle cx="117.7" cy="88.4" r="1.6" fill="#80cfb1"/>
<circle cx="117.1" cy="114.2" r="1.6" fill="#80cfb1"/>
<circle cx="100.9" cy="167.4" r="1.6" fill="#4aa7df"/>
<circle cx="119.9" cy="167.5" r="1.6" fill="#4aa7df"/>
<circle cx="61.3" cy="142.0" r="1.6" fill="#f7cb72"/>
<circle cx="104.4" cy="175.3" r="1.6" fill="#4aa7df"/>
<circle cx="112.9" cy="90.6" r="1.6" fill="#80cfb1"/>
<circle cx="31.5" cy="159.7" r="1.6" fill="#f0bb52"/>
<circle cx="70.5" cy="150.5" r="1.6" fill="#825b25"/>
<circle cx="122.0" cy="104.5" r="1.6" fill="#80cfb1"/>
<circle cx="122.2" cy="201.9" r="1.6" fill="#78bfea"/>
<circle cx="75.1" cy="149.5" r="1.6" fill="#825b25"/>
<circle cx="38.0" cy="162.6" r="1.6" fill="#f0bb52"/>
<circle cx="100.5" cy="140.2" r="1.6" fill="#e09b2a"/>
<circle cx="109.0" cy="153.0" r="1.6" fill="#4aa7df"/>
<circle cx="15.8" cy="154.2" r="1.6" fill="#f7cb72"/>
<circle cx="103.6" cy="109.3" r="1.6" fill="#07553e"/>
<circle cx="24.5" cy="162.1" r="1.6" fill="#f0bb52"/>
<circle cx="135.3" cy="211.8" r="1.6" fill="#78bfea"/>
<circle cx="18.5" cy="160.5" r="1.6" fill="#f7cb72"/>
<circle cx="81.5" cy="152.9" r="1.6" fill="#825b25"/>
<circle cx="111.2" cy="177.8" r="1.6" fill="#4aa7df"/>
<circle cx="108.3" cy="126.2" r="1.6" fill="#80cfb1"/>
<circle cx="97.8" cy="147.1" r="1.6" fill="#4aa7df"/>
<circle cx="96.2" cy="122.7" r="1.6" fill="#4db592"/>
<circle cx="89.7" cy="135.3" r="1.6" fill="#4db592"/>
<circle cx="105.5" cy="94.2" r="1.6" fill="#0b7756"/>
<circle cx="102.5" cy="142.4" r="1.6" fill="#80cfb1"/>
<circle cx="59.4" cy="145.1" r="1.6" fill="#f0bb52"/>
<circle cx="115.0" cy="121.1" r="1.6" fill="#4db592"/>
<circle cx="123.0" cy="178.8" r="1.6" fill="#78bfea"/>
<circle cx="16.8" cy="162.1" r="1.6" fill="#f7cb72"/>
<circle cx="39.7" cy="154.9" r="1.6" fill="#f7cb72"/>
<circle cx="103.8" cy="100.0" r="1.6" fill="#4db592"/>
<circle cx="124.7" cy="207.4" r="1.6" fill="#4aa7df"/>
<circle cx="71.9" cy="139.5" r="1.6" fill="#825b25"/>
<circle cx="117.4" cy="203.5" r="1.6" fill="#78bfea"/>
<circle cx="91.7" cy="123.7" r="1.6" fill="#07553e"/>
<circle cx="95.2" cy="143.7" r="1.6" fill="#9c6e2b"/>
<circle cx="97.9" cy="154.1" r="1.6" fill="#4aa7df"/>
<circle cx="98.1" cy="110.7" r="1.6" fill="#139e78"/>
<circle cx="60.2" cy="142.0" r="1.6" fill="#c08431"/>
<circle cx="50.4" cy="160.4" r="1.6" fill="#f7cb72"/>
<circle cx="24.0" cy="159.4" r="1.6" fill="#f7cb72"/>
<circle cx="97.8" cy="106.5" r="1.6" fill="#0b7756"/>
<circle cx="117.1" cy="110.4" r="1.6" fill="#80cfb1"/>
<circle cx="67.2" cy="157.4" r="1.6" fill="#c08431"/>
<circle cx="123.9" cy="108.9" r="1.6" fill="#80cfb1"/>
<circle cx="94.3" cy="141.2" r="1.6" fill="#80cfb1"/>
<circle cx="84.6" cy="147.2" r="1.6" fill="#825b25"/>
<circle cx="46.8" cy="156.3" r="1.6" fill="#f7cb72"/>
<circle cx="25.8" cy="160.4" r="1.6" fill="#f7cb72"/>
<circle cx="124.2" cy="190.7" r="1.6" fill="#78bfea"/>
<circle cx="127.7" cy="200.7" r="1.6" fill="#78bfea"/>
<circle cx="84.0" cy="156.4" r="1.6" fill="#b98226"/>
<circle cx="116.4" cy="112.6" r="1.6" fill="#80cfb1"/>
<circle cx="120.5" cy="197.3" r="1.6" fill="#78bfea"/>
<circle cx="50.4" cy="155.4" r="1.6" fill="#e6a838"/>
<circle cx="97.9" cy="133.4" r="1.6" fill="#9c6e2b"/>
<circle cx="113.9" cy="153.7" r="1.6" fill="#4aa7df"/>
<circle cx="72.6" cy="144.4" r="1.6" fill="#e6a838"/>
<circle cx="95.4" cy="114.0" r="1.6" fill="#0b7756"/>
<circle cx="110.4" cy="179.4" r="1.6" fill="#4aa7df"/>
<circle cx="88.9" cy="136.0" r="1.6" fill="#9c6e2b"/>
<circle cx="37.4" cy="150.8" r="1.6" fill="#f7cb72"/>
<circle cx="79.8" cy="162.1" r="1.6" fill="#e6a232"/>
<circle cx="88.8" cy="153.1" r="1.6" fill="#a6762f"/>
<circle cx="26.8" cy="157.7" r="1.6" fill="#f7cb72"/>
<circle cx="91.1" cy="132.5" r="1.6" fill="#0b7756"/>
<circle cx="105.1" cy="96.8" r="1.6" fill="#139e78"/>
<circle cx="102.3" cy="104.9" r="1.6" fill="#07553e"/>
<circle cx="19.7" cy="157.4" r="1.6" fill="#f7cb72"/>
<circle cx="131.9" cy="188.9" r="1.6" fill="#78bfea"/>
<circle cx="89.5" cy="132.2" r="1.6" fill="#139e78"/>
<circle cx="119.8" cy="96.1" r="1.6" fill="#80cfb1"/>
<circle cx="16.0" cy="156.0" r="1.6" fill="#f7cb72"/>
<circle cx="90.6" cy="137.2" r="1.6" fill="#4db592"/>
<circle cx="36.1" cy="155.6" r="1.6" fill="#e6a838"/>
<circle cx="123.0" cy="103.1" r="1.6" fill="#80cfb1"/>
<circle cx="118.2" cy="168.4" r="1.6" fill="#4aa7df"/>
<circle cx="118.4" cy="128.2" r="1.6" fill="#80cfb1"/>
<circle cx="85.0" cy="143.2" r="1.6" fill="#9c6e2b"/>
<circle cx="91.9" cy="135.2" r="1.6" fill="#0b7756"/>
<circle cx="115.2" cy="163.0" r="1.6" fill="#2f7fb8"/>
<circle cx="97.0" cy="142.3" r="1.6" fill="#825b25"/>
<circle cx="118.0" cy="176.6" r="1.6" fill="#78bfea"/>
<circle cx="112.3" cy="126.2" r="1.6" fill="#80cfb1"/>
<circle cx="92.7" cy="112.1" r="1.6" fill="#0b7756"/>
<circle cx="98.1" cy="126.9" r="1.6" fill="#4db592"/>
<circle cx="111.4" cy="151.9" r="1.6" fill="#4aa7df"/>
<circle cx="37.5" cy="157.8" r="1.6" fill="#f0bb52"/>
<circle cx="112.9" cy="152.5" r="1.6" fill="#2f7fb8"/>
<circle cx="48.6" cy="152.0" r="1.6" fill="#f0bb52"/>
<circle cx="108.5" cy="94.6" r="1.6" fill="#07553e"/>
<circle cx="48.8" cy="160.9" r="1.6" fill="#e6a838"/>
<circle cx="107.7" cy="123.9" r="1.6" fill="#80cfb1"/>
<circle cx="104.5" cy="167.9" r="1.6" fill="#78bfea"/>
<circle cx="21.1" cy="152.6" r="1.6" fill="#f7cb72"/>
<circle cx="68.7" cy="149.9" r="1.6" fill="#c08431"/>
<circle cx="121.3" cy="182.2" r="1.6" fill="#78bfea"/>
<circle cx="99.5" cy="161.3" r="1.6" fill="#4aa7df"/>
<circle cx="54.1" cy="159.7" r="1.6" fill="#e6a838"/>
<circle cx="127.9" cy="205.3" r="1.6" fill="#78bfea"/>
<circle cx="50.0" cy="154.0" r="1.6" fill="#f0bb52"/>
<circle cx="79.5" cy="143.0" r="1.6" fill="#9c6e2b"/>
<circle cx="108.0" cy="106.0" r="1.6" fill="#0b7756"/>
<circle cx="105.6" cy="106.0" r="1.6" fill="#139e78"/>
<circle cx="92.4" cy="145.9" r="1.6" fill="#9c6e2b"/>
<circle cx="59.2" cy="147.1" r="1.6" fill="#825b25"/>
<circle cx="58.6" cy="152.9" r="1.6" fill="#e09b2a"/>
<circle cx="105.9" cy="163.6" r="1.6" fill="#4aa7df"/>
<circle cx="126.3" cy="205.0" r="1.6" fill="#78bfea"/>
<circle cx="122.5" cy="202.3" r="1.6" fill="#78bfea"/>
<circle cx="98.9" cy="145.2" r="1.6" fill="#825b25"/>
<circle cx="32.3" cy="157.6" r="1.6" fill="#e6a838"/>
<circle cx="48.9" cy="149.0" r="1.6" fill="#9c6e2b"/>
<circle cx="53.7" cy="159.8" r="1.6" fill="#e09b2a"/>
<circle cx="74.4" cy="139.7" r="1.6" fill="#e6a838"/>
<circle cx="125.0" cy="163.5" r="1.6" fill="#0b7756"/>
<circle cx="101.3" cy="135.1" r="1.6" fill="#4db592"/>
<circle cx="48.8" cy="154.2" r="1.6" fill="#9c6e2b"/>
<circle cx="117.4" cy="88.2" r="1.6" fill="#80cfb1"/>
<circle cx="129.1" cy="185.9" r="1.6" fill="#2f7fb8"/>
<circle cx="22.2" cy="154.5" r="1.6" fill="#f7cb72"/>
<circle cx="134.1" cy="211.1" r="1.6" fill="#2f7fb8"/>
<circle cx="90.6" cy="136.9" r="1.6" fill="#4db592"/>
<circle cx="81.8" cy="140.0" r="1.6" fill="#825b25"/>
<circle cx="104.3" cy="101.2" r="1.6" fill="#139e78"/>
<circle cx="125.4" cy="98.2" r="1.6" fill="#80cfb1"/>
<circle cx="108.3" cy="187.1" r="1.6" fill="#4aa7df"/>
<circle cx="138.1" cy="219.6" r="1.6" fill="#78bfea"/>
<circle cx="56.7" cy="147.5" r="1.6" fill="#e6a838"/>
<circle cx="116.9" cy="113.5" r="1.6" fill="#80cfb1"/>
<circle cx="96.7" cy="120.4" r="1.6" fill="#139e78"/>
<circle cx="98.9" cy="106.7" r="1.6" fill="#4db592"/>
<circle cx="121.0" cy="181.1" r="1.6" fill="#78bfea"/>
<circle cx="86.5" cy="127.0" r="1.6" fill="#0b7756"/>
<circle cx="39.4" cy="156.5" r="1.6" fill="#c08431"/>
<circle cx="117.3" cy="192.3" r="1.6" fill="#78bfea"/>
<circle cx="110.7" cy="117.2" r="1.6" fill="#80cfb1"/>
<circle cx="65.8" cy="158.0" r="1.6" fill="#825b25"/>
<circle cx="110.1" cy="127.3" r="1.6" fill="#80cfb1"/>
<circle cx="132.4" cy="217.4" r="1.6" fill="#78bfea"/>
<circle cx="83.1" cy="138.7" r="1.6" fill="#9c6e2b"/>
<circle cx="68.1" cy="148.0" r="1.6" fill="#c08431"/>
<circle cx="34.1" cy="151.0" r="1.6" fill="#f7cb72"/>
<circle cx="111.5" cy="153.3" r="1.6" fill="#2f7fb8"/>
<circle cx="79.6" cy="102.8" r="1.6" fill="#0f8a62"/>
<circle cx="110.9" cy="98.0" r="1.6" fill="#139e78"/>
<circle cx="65.3" cy="156.9" r="1.6" fill="#825b25"/>
<circle cx="60.5" cy="147.7" r="1.6" fill="#f0bb52"/>
<circle cx="125.2" cy="180.9" r="1.6" fill="#4aa7df"/>
<circle cx="90.8" cy="135.8" r="1.6" fill="#9c6e2b"/>
<circle cx="20.6" cy="159.0" r="1.6" fill="#f7cb72"/>
<circle cx="118.9" cy="118.3" r="1.6" fill="#4db592"/>
<circle cx="11.1" cy="160.8" r="1.6" fill="#f7cb72"/>
<circle cx="75.5" cy="154.9" r="1.6" fill="#c08431"/>
<circle cx="76.8" cy="141.1" r="1.6" fill="#825b25"/>
<circle cx="110.1" cy="138.3" r="1.6" fill="#80cfb1"/>
<circle cx="103.3" cy="118.5" r="1.6" fill="#139e78"/>
<circle cx="108.0" cy="122.4" r="1.6" fill="#80cfb1"/>
<circle cx="39.3" cy="147.7" r="1.6" fill="#f7cb72"/>
<circle cx="116.3" cy="174.4" r="1.6" fill="#4aa7df"/>
<circle cx="95.5" cy="107.5" r="1.6" fill="#139e78"/>
<circle cx="51.7" cy="156.0" r="1.6" fill="#c08431"/>
<circle cx="125.4" cy="191.5" r="1.6" fill="#78bfea"/>
<circle cx="61.1" cy="149.4" r="1.6" fill="#f0bb52"/>
<circle cx="31.4" cy="155.6" r="1.6" fill="#f7cb72"/>
<circle cx="111.1" cy="183.1" r="1.6" fill="#78bfea"/>
<circle cx="124.1" cy="209.8" r="1.6" fill="#78bfea"/>
<circle cx="103.7" cy="106.5" r="1.6" fill="#0b7756"/>
<circle cx="13.8" cy="157.8" r="1.6" fill="#f7cb72"/>
<circle cx="42.2" cy="152.1" r="1.6" fill="#f7cb72"/>
<circle cx="103.1" cy="99.2" r="1.6" fill="#07553e"/>
<circle cx="106.2" cy="135.5" r="1.6" fill="#4db592"/>
<circle cx="98.1" cy="141.7" r="1.6" fill="#80cfb1"/>
<circle cx="23.1" cy="161.7" r="1.6" fill="#f7cb72"/>
<circle cx="68.6" cy="155.7" r="1.6" fill="#825b25"/>
<circle cx="122.8" cy="113.9" r="1.6" fill="#80cfb1"/>
<circle cx="66.9" cy="148.2" r="1.6" fill="#825b25"/>
<circle cx="134.4" cy="203.3" r="1.6" fill="#78bfea"/>
<circle cx="109.5" cy="112.0" r="1.6" fill="#0b7756"/>
<circle cx="19.9" cy="161.5" r="1.6" fill="#f7cb72"/>
<circle cx="92.2" cy="171.9" r="1.6" fill="#e09b2a"/>
<circle cx="109.3" cy="89.7" r="1.6" fill="#07553e"/>
<circle cx="38.1" cy="154.6" r="1.6" fill="#e6a838"/>
<circle cx="105.5" cy="148.0" r="1.6" fill="#4aa7df"/>
<circle cx="119.9" cy="102.8" r="1.6" fill="#80cfb1"/>
<circle cx="96.3" cy="138.4" r="1.6" fill="#9c6e2b"/>
<circle cx="95.6" cy="104.8" r="1.6" fill="#139e78"/>
<circle cx="106.2" cy="150.4" r="1.6" fill="#2f7fb8"/>
<circle cx="124.5" cy="186.4" r="1.6" fill="#78bfea"/>
<circle cx="104.5" cy="177.4" r="1.6" fill="#78bfea"/>
<circle cx="115.4" cy="172.5" r="1.6" fill="#4aa7df"/>
<circle cx="15.8" cy="159.1" r="1.6" fill="#f7cb72"/>
<circle cx="125.1" cy="112.4" r="1.6" fill="#80cfb1"/>
<circle cx="115.6" cy="101.7" r="1.6" fill="#80cfb1"/>
<circle cx="19.9" cy="155.7" r="1.6" fill="#f7cb72"/>
<circle cx="117.4" cy="98.1" r="1.6" fill="#80cfb1"/>
<circle cx="91.2" cy="161.5" r="1.6" fill="#a6762f"/>
<circle cx="124.2" cy="199.1" r="1.6" fill="#78bfea"/>
<circle cx="98.3" cy="123.9" r="1.6" fill="#0b7756"/>
<circle cx="112.7" cy="90.9" r="1.6" fill="#80cfb1"/>
<circle cx="89.5" cy="125.4" r="1.6" fill="#07553e"/>
<circle cx="102.1" cy="97.6" r="1.6" fill="#07553e"/>
<circle cx="113.1" cy="131.1" r="1.6" fill="#4db592"/>
<circle cx="112.8" cy="149.4" r="1.6" fill="#4aa7df"/>
<circle cx="122.1" cy="198.4" r="1.6" fill="#78bfea"/>
<circle cx="114.9" cy="186.4" r="1.6" fill="#78bfea"/>
<circle cx="93.0" cy="111.4" r="1.6" fill="#139e78"/>
<circle cx="93.2" cy="147.7" r="1.6" fill="#9c6e2b"/>
<circle cx="77.7" cy="128.2" r="1.6" fill="#0b7756"/>
<circle cx="104.4" cy="171.3" r="1.6" fill="#78bfea"/>
<circle cx="118.2" cy="187.8" r="1.6" fill="#78bfea"/>
<circle cx="123.6" cy="199.1" r="1.6" fill="#78bfea"/>
<circle cx="94.5" cy="137.6" r="1.6" fill="#9c6e2b"/>
<circle cx="62.2" cy="149.2" r="1.6" fill="#c08431"/>
<circle cx="89.5" cy="136.3" r="1.6" fill="#825b25"/>
<circle cx="44.0" cy="147.6" r="1.6" fill="#c08431"/>
<circle cx="115.5" cy="194.7" r="1.6" fill="#78bfea"/>
<circle cx="122.8" cy="102.2" r="1.6" fill="#80cfb1"/>
<circle cx="97.4" cy="177.2" r="1.6" fill="#d39028"/>
<circle cx="116.6" cy="193.9" r="1.6" fill="#4aa7df"/>
<circle cx="107.6" cy="108.3" r="1.6" fill="#80cfb1"/>
<circle cx="123.0" cy="180.0" r="1.6" fill="#4aa7df"/>
<circle cx="106.4" cy="161.4" r="1.6" fill="#2f7fb8"/>
<circle cx="89.3" cy="127.9" r="1.6" fill="#4db592"/>
<circle cx="105.7" cy="118.5" r="1.6" fill="#80cfb1"/>
<circle cx="107.2" cy="108.6" r="1.6" fill="#80cfb1"/>
<circle cx="94.9" cy="132.6" r="1.6" fill="#0b7756"/>
<circle cx="77.3" cy="133.7" r="1.6" fill="#0a6a4c"/>
<circle cx="70.4" cy="140.1" r="1.6" fill="#c08431"/>
<circle cx="129.1" cy="200.6" r="1.6" fill="#4aa7df"/>
<circle cx="19.8" cy="153.5" r="1.6" fill="#f7cb72"/>
<circle cx="93.4" cy="116.9" r="1.6" fill="#0b7756"/>
<circle cx="21.9" cy="158.0" r="1.6" fill="#f7cb72"/>
<circle cx="35.2" cy="153.5" r="1.6" fill="#f0bb52"/>
<circle cx="136.8" cy="212.3" r="1.6" fill="#78bfea"/>
<circle cx="108.9" cy="98.8" r="1.6" fill="#07553e"/>
<circle cx="44.0" cy="154.8" r="1.6" fill="#c08431"/>
<circle cx="73.9" cy="142.6" r="1.6" fill="#9c6e2b"/>
<circle cx="43.9" cy="156.7" r="1.6" fill="#f0bb52"/>
<circle cx="114.6" cy="195.6" r="1.6" fill="#78bfea"/>
<circle cx="86.5" cy="163.2" r="1.6" fill="#d39028"/>
<circle cx="65.3" cy="149.8" r="1.6" fill="#c08431"/>
<circle cx="115.3" cy="159.5" r="1.6" fill="#2f7fb8"/>
<circle cx="102.6" cy="106.0" r="1.6" fill="#0b7756"/>
<circle cx="105.0" cy="128.8" r="1.6" fill="#80cfb1"/>
<circle cx="115.2" cy="185.9" r="1.6" fill="#78bfea"/>
<circle cx="106.5" cy="154.9" r="1.6" fill="#4aa7df"/>
<circle cx="103.9" cy="150.5" r="1.6" fill="#2f7fb8"/>
<circle cx="22.2" cy="161.9" r="1.6" fill="#f7cb72"/>
<circle cx="97.3" cy="120.6" r="1.6" fill="#07553e"/>
<circle cx="125.4" cy="98.8" r="1.6" fill="#80cfb1"/>
<circle cx="83.0" cy="133.0" r="1.6" fill="#07553e"/>
<circle cx="98.2" cy="128.3" r="1.6" fill="#07553e"/>
<circle cx="103.5" cy="114.7" r="1.6" fill="#07553e"/>
<circle cx="120.1" cy="98.5" r="1.6" fill="#80cfb1"/>
<circle cx="135.1" cy="215.5" r="1.6" fill="#4aa7df"/>
<circle cx="21.5" cy="160.1" r="1.6" fill="#f7cb72"/>
<circle cx="105.6" cy="117.5" r="1.6" fill="#139e78"/>
<circle cx="127.8" cy="182.8" r="1.6" fill="#4aa7df"/>
<circle cx="125.6" cy="195.2" r="1.6" fill="#4aa7df"/>
<circle cx="133.9" cy="217.5" r="1.6" fill="#4aa7df"/>
<circle cx="108.3" cy="95.5" r="1.6" fill="#0b7756"/>
<circle cx="108.7" cy="132.0" r="1.6" fill="#80cfb1"/>
<circle cx="120.2" cy="95.5" r="1.6" fill="#80cfb1"/>
<circle cx="134.4" cy="198.7" r="1.6" fill="#78bfea"/>
<circle cx="107.6" cy="104.8" r="1.6" fill="#80cfb1"/>
<circle cx="126.8" cy="198.0" r="1.6" fill="#78bfea"/>
<circle cx="43.9" cy="156.1" r="1.6" fill="#f7cb72"/>
<circle cx="114.0" cy="156.5" r="1.6" fill="#80cfb1"/>
<circle cx="88.9" cy="147.8" r="1.6" fill="#9c6e2b"/>
<circle cx="90.2" cy="135.1" r="1.6" fill="#9c6e2b"/>
<circle cx="102.6" cy="166.2" r="1.6" fill="#2f7fb8"/>
<circle cx="77.1" cy="141.6" r="1.6" fill="#825b25"/>
<circle cx="108.7" cy="184.8" r="1.6" fill="#4aa7df"/>
<circle cx="126.1" cy="192.7" r="1.6" fill="#4aa7df"/>
<circle cx="109.2" cy="178.5" r="1.6" fill="#78bfea"/>
<circle cx="113.0" cy="189.1" r="1.6" fill="#78bfea"/>
<circle cx="84.3" cy="145.5" r="1.6" fill="#825b25"/>
<circle cx="104.8" cy="160.5" r="1.6" fill="#2f7fb8"/>
<circle cx="118.8" cy="127.2" r="1.6" fill="#80cfb1"/>
<circle cx="66.7" cy="142.3" r="1.6" fill="#c08431"/>
<circle cx="112.4" cy="169.9" r="1.6" fill="#78bfea"/>
<circle cx="46.3" cy="156.0" r="1.6" fill="#f0bb52"/>
<circle cx="108.7" cy="174.7" r="1.6" fill="#78bfea"/>
<circle cx="54.2" cy="148.5" r="1.6" fill="#f7cb72"/>
<circle cx="107.9" cy="182.8" r="1.6" fill="#78bfea"/>
<circle cx="32.1" cy="154.9" r="1.6" fill="#f0bb52"/>
<circle cx="116.0" cy="153.0" r="1.6" fill="#4db592"/>
<circle cx="112.4" cy="109.3" r="1.6" fill="#80cfb1"/>
<circle cx="118.0" cy="120.2" r="1.6" fill="#80cfb1"/>
<circle cx="65.9" cy="142.4" r="1.6" fill="#825b25"/>
<circle cx="99.0" cy="98.7" r="1.6" fill="#07553e"/>
<circle cx="85.0" cy="150.9" r="1.6" fill="#9c6e2b"/>
<circle cx="116.3" cy="170.7" r="1.6" fill="#4aa7df"/>
<circle cx="104.3" cy="151.7" r="1.6" fill="#2f7fb8"/>
<circle cx="100.8" cy="159.8" r="1.6" fill="#2f7fb8"/>
<circle cx="123.4" cy="112.2" r="1.6" fill="#80cfb1"/>
<circle cx="53.0" cy="149.5" r="1.6" fill="#9c6e2b"/>
<circle cx="87.0" cy="148.6" r="1.6" fill="#825b25"/>
<circle cx="115.3" cy="166.6" r="1.6" fill="#4aa7df"/>
<circle cx="114.3" cy="96.9" r="1.6" fill="#80cfb1"/>
<circle cx="64.6" cy="152.5" r="1.6" fill="#825b25"/>
<circle cx="114.5" cy="170.8" r="1.6" fill="#78bfea"/>
<circle cx="102.3" cy="119.4" r="1.6" fill="#07553e"/>
<circle cx="27.0" cy="158.9" r="1.6" fill="#f7cb72"/>
<circle cx="110.5" cy="191.6" r="1.6" fill="#4aa7df"/>
<circle cx="118.5" cy="99.1" r="1.6" fill="#80cfb1"/>
<circle cx="128.4" cy="202.3" r="1.6" fill="#78bfea"/>
<circle cx="115.9" cy="201.3" r="1.6" fill="#78bfea"/>
<circle cx="91.0" cy="143.3" r="1.6" fill="#825b25"/>
<circle cx="127.6" cy="202.6" r="1.6" fill="#78bfea"/>
<circle cx="98.1" cy="165.5" r="1.6" fill="#a6762f"/>
<circle cx="24.3" cy="157.3" r="1.6" fill="#f7cb72"/>
<circle cx="117.0" cy="186.3" r="1.6" fill="#2f7fb8"/>
<circle cx="124.8" cy="185.5" r="1.6" fill="#78bfea"/>
<circle cx="53.6" cy="160.4" r="1.6" fill="#f0bb52"/>
<circle cx="102.0" cy="131.1" r="1.6" fill="#80cfb1"/>
<circle cx="133.5" cy="208.0" r="1.6" fill="#4aa7df"/>
<circle cx="89.6" cy="119.2" r="1.6" fill="#4db592"/>
<circle cx="101.5" cy="127.6" r="1.6" fill="#4db592"/>
<circle cx="123.5" cy="95.7" r="1.6" fill="#80cfb1"/>
<circle cx="81.4" cy="146.1" r="1.6" fill="#825b25"/>
<circle cx="108.8" cy="150.0" r="1.6" fill="#4aa7df"/>
<circle cx="106.2" cy="160.8" r="1.6" fill="#4aa7df"/>
<circle cx="132.0" cy="206.6" r="1.6" fill="#78bfea"/>
<circle cx="55.1" cy="160.7" r="1.6" fill="#f0bb52"/>
<circle cx="97.1" cy="150.0" r="1.6" fill="#4aa7df"/>
<circle cx="96.1" cy="141.8" r="1.6" fill="#80cfb1"/>
<circle cx="108.6" cy="130.5" r="1.6" fill="#80cfb1"/>
<circle cx="15.5" cy="161.3" r="1.6" fill="#f7cb72"/>
<circle cx="106.0" cy="160.9" r="1.6" fill="#2f7fb8"/>
<circle cx="83.9" cy="152.6" r="1.6" fill="#825b25"/>
<circle cx="94.5" cy="131.5" r="1.6" fill="#07553e"/>
<circle cx="90.6" cy="120.8" r="1.6" fill="#4db592"/>
<circle cx="72.6" cy="109.8" r="1.6" fill="#0f8a62"/>
<circle cx="36.9" cy="162.3" r="1.6" fill="#f7cb72"/>
<circle cx="93.6" cy="141.2" r="1.6" fill="#825b25"/>
<circle cx="95.6" cy="144.9" r="1.6" fill="#825b25"/>
<circle cx="124.1" cy="193.5" r="1.6" fill="#78bfea"/>
<circle cx="123.9" cy="186.1" r="1.6" fill="#78bfea"/>
<circle cx="96.7" cy="149.9" r="1.6" fill="#4aa7df"/>
<circle cx="117.7" cy="180.7" r="1.6" fill="#4aa7df"/>
<circle cx="124.5" cy="190.4" r="1.6" fill="#4aa7df"/>
<circle cx="99.9" cy="142.2" r="1.6" fill="#80cfb1"/>
<circle cx="98.1" cy="107.6" r="1.6" fill="#07553e"/>
<circle cx="102.1" cy="93.2" r="1.6" fill="#0b7756"/>
<circle cx="104.5" cy="124.9" r="1.6" fill="#4db592"/>
<circle cx="40.8" cy="153.2" r="1.6" fill="#f7cb72"/>
<circle cx="117.3" cy="95.4" r="1.6" fill="#80cfb1"/>
<circle cx="110.8" cy="86.0" r="1.6" fill="#139e78"/>
<circle cx="107.8" cy="97.2" r="1.6" fill="#0b7756"/>
<circle cx="127.0" cy="183.9" r="1.6" fill="#4aa7df"/>
<circle cx="42.3" cy="147.5" r="1.6" fill="#c08431"/>
<circle cx="54.8" cy="143.8" r="1.6" fill="#c08431"/>
<circle cx="124.1" cy="198.0" r="1.6" fill="#78bfea"/>
<circle cx="94.6" cy="111.9" r="1.6" fill="#07553e"/>
<circle cx="97.1" cy="137.3" r="1.6" fill="#e6a838"/>
<circle cx="87.0" cy="140.9" r="1.6" fill="#9c6e2b"/>
<circle cx="117.0" cy="105.3" r="1.6" fill="#80cfb1"/>
<circle cx="105.8" cy="160.7" r="1.6" fill="#4aa7df"/>
<circle cx="13.7" cy="155.1" r="1.6" fill="#f7cb72"/>
<circle cx="28.2" cy="161.7" r="1.6" fill="#f7cb72"/>
<circle cx="120.1" cy="161.7" r="1.6" fill="#2f7fb8"/>
<circle cx="107.6" cy="148.2" r="1.6" fill="#4aa7df"/>
<circle cx="108.2" cy="163.1" r="1.6" fill="#78bfea"/>
<circle cx="96.4" cy="146.2" r="1.6" fill="#4aa7df"/>
<circle cx="67.7" cy="143.6" r="1.6" fill="#9c6e2b"/>
<circle cx="39.0" cy="160.4" r="1.6" fill="#f0bb52"/>
<circle cx="92.4" cy="157.6" r="1.6" fill="#a6762f"/>
<circle cx="128.0" cy="187.2" r="1.6" fill="#78bfea"/>
<circle cx="111.3" cy="118.5" r="1.6" fill="#80cfb1"/>
<circle cx="99.8" cy="99.7" r="1.6" fill="#0b7756"/>
<circle cx="56.8" cy="148.9" r="1.6" fill="#f0bb52"/>
<circle cx="128.0" cy="205.6" r="1.6" fill="#78bfea"/>
<circle cx="93.1" cy="139.7" r="1.6" fill="#07553e"/>
<circle cx="48.2" cy="152.1" r="1.6" fill="#f7cb72"/>
<circle cx="111.3" cy="151.1" r="1.6" fill="#4aa7df"/>
<circle cx="62.9" cy="141.9" r="1.6" fill="#9c6e2b"/>
<circle cx="122.7" cy="97.8" r="1.6" fill="#80cfb1"/>
<circle cx="19.3" cy="153.5" r="1.6" fill="#f7cb72"/>
<circle cx="92.3" cy="123.6" r="1.6" fill="#139e78"/>
<circle cx="15.8" cy="162.2" r="1.6" fill="#f7cb72"/>
<circle cx="119.0" cy="171.9" r="1.6" fill="#78bfea"/>
<circle cx="108.4" cy="100.1" r="1.6" fill="#0b7756"/>
<circle cx="67.9" cy="156.9" r="1.6" fill="#9c6e2b"/>
<circle cx="95.7" cy="121.9" r="1.6" fill="#139e78"/>
<circle cx="17.4" cy="162.2" r="1.6" fill="#f0bb52"/>
<circle cx="116.9" cy="169.6" r="1.6" fill="#2f7fb8"/>
<circle cx="104.9" cy="131.6" r="1.6" fill="#80cfb1"/>
<circle cx="74.4" cy="141.8" r="1.6" fill="#c08431"/>
<circle cx="103.8" cy="159.0" r="1.6" fill="#4aa7df"/>
<circle cx="15.4" cy="157.0" r="1.6" fill="#f7cb72"/>
<circle cx="118.2" cy="186.4" r="1.6" fill="#4aa7df"/>
<circle cx="103.6" cy="161.4" r="1.6" fill="#4aa7df"/>
<circle cx="11.1" cy="159.4" r="1.6" fill="#f7cb72"/>
<circle cx="103.6" cy="101.6" r="1.6" fill="#4db592"/>
<circle cx="79.3" cy="158.8" r="1.6" fill="#b98226"/>
<circle cx="101.9" cy="169.0" r="1.6" fill="#4aa7df"/>
<circle cx="99.7" cy="113.2" r="1.6" fill="#07553e"/>
<circle cx="106.6" cy="146.2" r="1.6" fill="#2f7fb8"/>
<circle cx="100.8" cy="99.2" r="1.6" fill="#0b7756"/>
<circle cx="92.1" cy="119.1" r="1.6" fill="#07553e"/>
<circle cx="74.9" cy="142.7" r="1.6" fill="#c08431"/>
<circle cx="88.2" cy="148.4" r="1.6" fill="#c08431"/>
<circle cx="89.0" cy="150.2" r="1.6" fill="#825b25"/>
<circle cx="104.3" cy="140.1" r="1.6" fill="#80cfb1"/>
<circle cx="119.2" cy="206.6" r="1.6" fill="#4aa7df"/>
<circle cx="124.0" cy="194.3" r="1.6" fill="#78bfea"/>
<circle cx="94.7" cy="113.9" r="1.6" fill="#139e78"/>
<circle cx="73.0" cy="145.1" r="1.6" fill="#e6a838"/>
<circle cx="108.0" cy="113.4" r="1.6" fill="#80cfb1"/>
<circle cx="55.7" cy="154.5" r="1.6" fill="#9c6e2b"/>
<circle cx="103.0" cy="159.4" r="1.6" fill="#2f7fb8"/>
<circle cx="100.0" cy="103.7" r="1.6" fill="#07553e"/>
<circle cx="96.5" cy="109.6" r="1.6" fill="#07553e"/>
<circle cx="106.4" cy="115.7" r="1.6" fill="#0b7756"/>
<circle cx="15.3" cy="155.0" r="1.6" fill="#f7cb72"/>
<circle cx="63.7" cy="142.0" r="1.6" fill="#825b25"/>
<circle cx="115.0" cy="129.5" r="1.6" fill="#4db592"/>
<circle cx="117.6" cy="196.1" r="1.6" fill="#78bfea"/>
<circle cx="103.1" cy="105.2" r="1.6" fill="#07553e"/>
<circle cx="67.8" cy="147.8" r="1.6" fill="#e09b2a"/>
<circle cx="135.2" cy="214.0" r="1.6" fill="#78bfea"/>
<circle cx="119.7" cy="173.7" r="1.6" fill="#4aa7df"/>
<circle cx="108.1" cy="108.6" r="1.6" fill="#80cfb1"/>
<circle cx="111.7" cy="148.2" r="1.6" fill="#4aa7df"/>
<circle cx="20.7" cy="152.3" r="1.6" fill="#f7cb72"/>
<circle cx="126.2" cy="176.9" r="1.6" fill="#4aa7df"/>
<circle cx="115.1" cy="193.8" r="1.6" fill="#78bfea"/>
<circle cx="121.5" cy="98.7" r="1.6" fill="#80cfb1"/>
<circle cx="119.6" cy="159.7" r="1.6" fill="#4aa7df"/>
<circle cx="109.8" cy="130.8" r="1.6" fill="#80cfb1"/>
<circle cx="125.7" cy="100.7" r="1.6" fill="#80cfb1"/>
<circle cx="103.2" cy="150.6" r="1.6" fill="#78bfea"/>
<circle cx="49.6" cy="149.3" r="1.6" fill="#c08431"/>
<circle cx="96.8" cy="116.5" r="1.6" fill="#07553e"/>
<circle cx="106.3" cy="106.3" r="1.6" fill="#0b7756"/>
<circle cx="123.4" cy="197.1" r="1.6" fill="#4aa7df"/>
<circle cx="97.6" cy="102.3" r="1.6" fill="#07553e"/>
<circle cx="114.3" cy="153.9" r="1.6" fill="#2f7fb8"/>
<circle cx="122.3" cy="114.0" r="1.6" fill="#80cfb1"/>
<circle cx="112.7" cy="127.2" r="1.6" fill="#80cfb1"/>
<circle cx="102.5" cy="140.3" r="1.6" fill="#80cfb1"/>
<circle cx="122.2" cy="179.5" r="1.6" fill="#4aa7df"/>
<circle cx="114.2" cy="89.2" r="1.6" fill="#80cfb1"/>
<circle cx="136.6" cy="222.3" r="1.6" fill="#78bfea"/>
<circle cx="120.0" cy="95.5" r="1.6" fill="#80cfb1"/>
<circle cx="113.3" cy="87.3" r="1.6" fill="#80cfb1"/>
<circle cx="127.4" cy="214.4" r="1.6" fill="#78bfea"/>
<circle cx="52.5" cy="159.7" r="1.6" fill="#c08431"/>
<circle cx="110.4" cy="109.4" r="1.6" fill="#80cfb1"/>
<circle cx="106.3" cy="148.8" r="1.6" fill="#4aa7df"/>
<circle cx="84.0" cy="124.0" r="1.6" fill="#139e78"/>
<circle cx="47.8" cy="151.3" r="1.6" fill="#c08431"/>
<circle cx="116.6" cy="100.9" r="1.6" fill="#80cfb1"/>
<circle cx="23.9" cy="160.5" r="1.6" fill="#f7cb72"/>
<circle cx="73.4" cy="138.7" r="1.6" fill="#e6a838"/>
<circle cx="122.4" cy="182.3" r="1.6" fill="#78bfea"/>
<circle cx="101.1" cy="156.7" r="1.6" fill="#2f7fb8"/>
<circle cx="99.9" cy="146.1" r="1.6" fill="#9c6e2b"/>
<circle cx="113.6" cy="176.2" r="1.6" fill="#4aa7df"/>
<circle cx="119.1" cy="189.8" r="1.6" fill="#2f7fb8"/>
<circle cx="95.2" cy="141.2" r="1.6" fill="#07553e"/>
<circle cx="104.4" cy="139.8" r="1.6" fill="#4db592"/>
<circle cx="114.7" cy="111.1" r="1.6" fill="#80cfb1"/>
<circle cx="66.1" cy="157.1" r="1.6" fill="#825b25"/>
<circle cx="94.9" cy="145.0" r="1.6" fill="#825b25"/>
<circle cx="91.7" cy="134.8" r="1.6" fill="#9c6e2b"/>
<circle cx="97.8" cy="103.3" r="1.6" fill="#07553e"/>
<circle cx="134.8" cy="201.9" r="1.6" fill="#78bfea"/>
<circle cx="112.9" cy="160.0" r="1.6" fill="#4aa7df"/>
<circle cx="97.0" cy="139.0" r="1.6" fill="#139e78"/>
<circle cx="123.0" cy="115.6" r="1.6" fill="#80cfb1"/>
<circle cx="96.4" cy="107.8" r="1.6" fill="#07553e"/>
<circle cx="39.9" cy="148.4" r="1.6" fill="#f7cb72"/>
<circle cx="81.7" cy="146.0" r="1.6" fill="#825b25"/>
<circle cx="121.0" cy="122.5" r="1.6" fill="#80cfb1"/>
<circle cx="137.8" cy="214.8" r="1.6" fill="#4aa7df"/>
<circle cx="106.1" cy="93.0" r="1.6" fill="#07553e"/>
<circle cx="107.1" cy="142.4" r="1.6" fill="#80cfb1"/>
<circle cx="92.9" cy="113.3" r="1.6" fill="#0b7756"/>
<circle cx="122.8" cy="190.5" r="1.6" fill="#4aa7df"/>
<circle cx="95.7" cy="160.0" r="1.6" fill="#e6a232"/>
<circle cx="55.5" cy="159.0" r="1.6" fill="#9c6e2b"/>
<circle cx="119.6" cy="175.7" r="1.6" fill="#4aa7df"/>
<circle cx="110.9" cy="101.5" r="1.6" fill="#80cfb1"/>
<circle cx="49.0" cy="157.7" r="1.6" fill="#e6a838"/>
<circle cx="62.0" cy="151.2" r="1.6" fill="#e6a838"/>
<circle cx="53.0" cy="144.6" r="1.6" fill="#825b25"/>
<circle cx="133.7" cy="206.7" r="1.6" fill="#78bfea"/>
<circle cx="108.8" cy="107.6" r="1.6" fill="#80cfb1"/>
<circle cx="44.6" cy="152.4" r="1.6" fill="#f7cb72"/>
<circle cx="125.7" cy="109.4" r="1.6" fill="#80cfb1"/>
<circle cx="102.4" cy="109.2" r="1.6" fill="#07553e"/>
<circle cx="72.0" cy="155.7" r="1.6" fill="#e6a838"/>
<circle cx="43.1" cy="156.9" r="1.6" fill="#f7cb72"/>
<circle cx="42.1" cy="154.5" r="1.6" fill="#f7cb72"/>
<circle cx="88.0" cy="138.7" r="1.6" fill="#825b25"/>
<circle cx="95.4" cy="134.8" r="1.6" fill="#9c6e2b"/>
<circle cx="100.4" cy="111.0" r="1.6" fill="#07553e"/>
<circle cx="99.4" cy="142.2" r="1.6" fill="#80cfb1"/>
<circle cx="128.4" cy="184.0" r="1.6" fill="#4aa7df"/>
<circle cx="24.8" cy="157.5" r="1.6" fill="#f7cb72"/>
<circle cx="74.8" cy="147.5" r="1.6" fill="#825b25"/>
<circle cx="131.4" cy="201.5" r="1.6" fill="#78bfea"/>
<circle cx="50.7" cy="154.2" r="1.6" fill="#f7cb72"/>
<circle cx="44.1" cy="161.1" r="1.6" fill="#f7cb72"/>
<circle cx="119.0" cy="185.2" r="1.6" fill="#2f7fb8"/>
<circle cx="107.8" cy="89.2" r="1.6" fill="#07553e"/>
<circle cx="81.4" cy="137.3" r="1.6" fill="#c08431"/>
<circle cx="127.8" cy="203.6" r="1.6" fill="#78bfea"/>
<circle cx="111.6" cy="105.3" r="1.6" fill="#80cfb1"/>
<circle cx="70.0" cy="155.0" r="1.6" fill="#825b25"/>
<circle cx="83.6" cy="148.3" r="1.6" fill="#9c6e2b"/>
<circle cx="11.6" cy="158.5" r="1.6" fill="#f7cb72"/>
<circle cx="76.2" cy="155.9" r="1.6" fill="#e09b2a"/>
<circle cx="118.9" cy="101.6" r="1.6" fill="#80cfb1"/>
<circle cx="81.0" cy="140.5" r="1.6" fill="#c08431"/>
<circle cx="106.7" cy="179.9" r="1.6" fill="#78bfea"/>
<circle cx="127.6" cy="203.3" r="1.6" fill="#78bfea"/>
<circle cx="97.5" cy="143.0" r="1.6" fill="#139e78"/>
<circle cx="93.9" cy="138.2" r="1.6" fill="#139e78"/>
<circle cx="102.2" cy="147.3" r="1.6" fill="#2f7fb8"/>
<circle cx="53.2" cy="147.1" r="1.6" fill="#c08431"/>
<circle cx="121.8" cy="199.7" r="1.6" fill="#4aa7df"/>
<circle cx="124.3" cy="92.3" r="1.6" fill="#80cfb1"/>
<circle cx="104.5" cy="165.4" r="1.6" fill="#4aa7df"/>
<circle cx="93.5" cy="116.9" r="1.6" fill="#07553e"/>
<circle cx="93.3" cy="168.8" r="1.6" fill="#d39028"/>
<circle cx="35.6" cy="157.9" r="1.6" fill="#e6a838"/>
<circle cx="94.0" cy="128.3" r="1.6" fill="#0b7756"/>
<circle cx="108.3" cy="87.1" r="1.6" fill="#139e78"/>
<circle cx="53.7" cy="160.7" r="1.6" fill="#c08431"/>
<circle cx="114.4" cy="111.2" r="1.6" fill="#80cfb1"/>
<circle cx="69.0" cy="153.2" r="1.6" fill="#825b25"/>
<circle cx="115.8" cy="179.3" r="1.6" fill="#4aa7df"/>
<circle cx="103.0" cy="125.5" r="1.6" fill="#80cfb1"/>
<circle cx="73.2" cy="153.4" r="1.6" fill="#825b25"/>
<circle cx="62.7" cy="145.5" r="1.6" fill="#9c6e2b"/>
<circle cx="106.0" cy="169.2" r="1.6" fill="#4aa7df"/>
<circle cx="23.9" cy="157.8" r="1.6" fill="#f7cb72"/>
<circle cx="17.9" cy="162.0" r="1.6" fill="#f7cb72"/>
<circle cx="103.3" cy="115.9" r="1.6" fill="#07553e"/>
<circle cx="20.7" cy="160.3" r="1.6" fill="#f7cb72"/>
<circle cx="82.7" cy="139.0" r="1.6" fill="#9c6e2b"/>
<circle cx="90.7" cy="129.7" r="1.6" fill="#139e78"/>
<circle cx="109.8" cy="160.2" r="1.6" fill="#4aa7df"/>
<circle cx="88.0" cy="134.8" r="1.6" fill="#9c6e2b"/>
<circle cx="124.7" cy="184.3" r="1.6" fill="#2f7fb8"/>
<circle cx="80.0" cy="139.8" r="1.6" fill="#825b25"/>
<circle cx="35.9" cy="151.5" r="1.6" fill="#e6a838"/>
<circle cx="97.1" cy="113.2" r="1.6" fill="#0b7756"/>
<circle cx="95.7" cy="146.4" r="1.6" fill="#825b25"/>
<circle cx="85.5" cy="117.5" r="1.6" fill="#139e78"/>
<circle cx="117.2" cy="124.0" r="1.6" fill="#80cfb1"/>
<circle cx="135.6" cy="220.8" r="1.6" fill="#4aa7df"/>
<circle cx="122.3" cy="100.0" r="1.6" fill="#80cfb1"/>
<circle cx="53.9" cy="151.2" r="1.6" fill="#f0bb52"/>
<circle cx="94.8" cy="151.5" r="1.6" fill="#e6a232"/>
<circle cx="112.2" cy="116.2" r="1.6" fill="#80cfb1"/>
<circle cx="121.4" cy="186.9" r="1.6" fill="#2f7fb8"/>
<circle cx="92.5" cy="117.3" r="1.6" fill="#139e78"/>
<circle cx="120.6" cy="103.3" r="1.6" fill="#80cfb1"/>
<circle cx="20.4" cy="155.4" r="1.6" fill="#f7cb72"/>
<circle cx="64.4" cy="142.8" r="1.6" fill="#825b25"/>
<circle cx="37.5" cy="151.5" r="1.6" fill="#f0bb52"/>
<circle cx="56.0" cy="145.2" r="1.6" fill="#e6a838"/>
<circle cx="103.5" cy="112.3" r="1.6" fill="#0b7756"/>
<circle cx="32.5" cy="153.3" r="1.6" fill="#f0bb52"/>
<circle cx="76.6" cy="143.6" r="1.6" fill="#e09b2a"/>
<circle cx="97.6" cy="149.9" r="1.6" fill="#2f7fb8"/>
<circle cx="61.3" cy="140.8" r="1.6" fill="#139e78"/>
<circle cx="94.1" cy="138.8" r="1.6" fill="#825b25"/>
<circle cx="132.0" cy="190.2" r="1.6" fill="#78bfea"/>
<circle cx="81.0" cy="140.2" r="1.6" fill="#9c6e2b"/>
<circle cx="58.8" cy="142.5" r="1.6" fill="#f7cb72"/>
<circle cx="55.6" cy="152.8" r="1.6" fill="#c08431"/>
<circle cx="115.4" cy="180.8" r="1.6" fill="#78bfea"/>
<circle cx="131.3" cy="196.2" r="1.6" fill="#78bfea"/>
<circle cx="98.0" cy="151.1" r="1.6" fill="#2f7fb8"/>
<circle cx="118.9" cy="199.3" r="1.6" fill="#4aa7df"/>
<circle cx="113.0" cy="112.2" r="1.6" fill="#80cfb1"/>
<circle cx="22.9" cy="152.7" r="1.6" fill="#f0bb52"/>
<circle cx="104.2" cy="167.7" r="1.6" fill="#4aa7df"/>
<circle cx="112.8" cy="169.8" r="1.6" fill="#2f7fb8"/>
<circle cx="120.2" cy="198.8" r="1.6" fill="#78bfea"/>
<circle cx="110.3" cy="153.8" r="1.6" fill="#2f7fb8"/>
<circle cx="78.8" cy="152.6" r="1.6" fill="#f0bb52"/>
<circle cx="81.6" cy="159.9" r="1.6" fill="#e09b2a"/>
<circle cx="83.3" cy="170.2" r="1.6" fill="#e09b2a"/>
<circle cx="106.3" cy="157.9" r="1.6" fill="#4aa7df"/>
<circle cx="116.5" cy="131.9" r="1.6" fill="#80cfb1"/>
<circle cx="32.2" cy="153.4" r="1.6" fill="#f0bb52"/>
<circle cx="90.6" cy="150.3" r="1.6" fill="#825b25"/>
<circle cx="25.5" cy="154.4" r="1.6" fill="#f7cb72"/>
<circle cx="28.1" cy="151.0" r="1.6" fill="#f7cb72"/>
<circle cx="105.8" cy="156.0" r="1.6" fill="#2f7fb8"/>
<circle cx="112.8" cy="108.0" r="1.6" fill="#80cfb1"/>
<circle cx="106.5" cy="141.5" r="1.6" fill="#80cfb1"/>
<circle cx="84.6" cy="134.5" r="1.6" fill="#825b25"/>
<circle cx="113.8" cy="157.8" r="1.6" fill="#4aa7df"/>
<circle cx="36.1" cy="161.2" r="1.6" fill="#f7cb72"/>
<circle cx="106.4" cy="125.2" r="1.6" fill="#80cfb1"/>
<circle cx="87.7" cy="137.1" r="1.6" fill="#9c6e2b"/>
<circle cx="99.8" cy="140.1" r="1.6" fill="#e6a838"/>
<circle cx="97.2" cy="144.8" r="1.6" fill="#9c6e2b"/>
<circle cx="100.7" cy="97.2" r="1.6" fill="#07553e"/>
<circle cx="84.4" cy="150.4" r="1.6" fill="#c08431"/>
<circle cx="107.1" cy="133.0" r="1.6" fill="#80cfb1"/>
<circle cx="80.1" cy="145.8" r="1.6" fill="#c08431"/>
<circle cx="116.5" cy="163.2" r="1.6" fill="#2f7fb8"/>
<circle cx="125.3" cy="185.3" r="1.6" fill="#4aa7df"/>
<circle cx="42.7" cy="147.6" r="1.6" fill="#f7cb72"/>
<circle cx="118.9" cy="172.8" r="1.6" fill="#4aa7df"/>
<circle cx="125.6" cy="104.4" r="1.6" fill="#80cfb1"/>
<circle cx="61.3" cy="143.6" r="1.6" fill="#e6a838"/>
<circle cx="91.3" cy="135.6" r="1.6" fill="#139e78"/>
<circle cx="99.8" cy="137.9" r="1.6" fill="#e09b2a"/>
<circle cx="94.0" cy="135.7" r="1.6" fill="#0b7756"/>
<circle cx="111.6" cy="169.6" r="1.6" fill="#2f7fb8"/>
<circle cx="50.4" cy="157.8" r="1.6" fill="#f0bb52"/>
<circle cx="99.9" cy="145.3" r="1.6" fill="#4aa7df"/>
<circle cx="111.0" cy="190.3" r="1.6" fill="#78bfea"/>
<circle cx="31.2" cy="153.6" r="1.6" fill="#f0bb52"/>
<circle cx="100.1" cy="156.0" r="1.6" fill="#4aa7df"/>
<circle cx="102.9" cy="156.1" r="1.6" fill="#4aa7df"/>
<circle cx="31.5" cy="153.8" r="1.6" fill="#f0bb52"/>
<circle cx="100.0" cy="107.0" r="1.6" fill="#139e78"/>
<circle cx="67.5" cy="149.7" r="1.6" fill="#825b25"/>
<circle cx="46.9" cy="160.7" r="1.6" fill="#f0bb52"/>
<circle cx="52.8" cy="144.8" r="1.6" fill="#f7cb72"/>
<circle cx="134.0" cy="216.0" r="1.6" fill="#78bfea"/>
<circle cx="43.0" cy="161.9" r="1.6" fill="#f7cb72"/>
<circle cx="106.6" cy="126.3" r="1.6" fill="#80cfb1"/>
<circle cx="99.4" cy="113.1" r="1.6" fill="#0b7756"/>
<circle cx="126.6" cy="194.4" r="1.6" fill="#78bfea"/>
<circle cx="107.6" cy="98.1" r="1.6" fill="#07553e"/>
<circle cx="104.8" cy="137.4" r="1.6" fill="#4db592"/>
<circle cx="111.0" cy="191.8" r="1.6" fill="#78bfea"/>
<circle cx="125.2" cy="94.9" r="1.6" fill="#80cfb1"/>
<circle cx="88.9" cy="146.8" r="1.6" fill="#9c6e2b"/>
<circle cx="68.0" cy="156.7" r="1.6" fill="#825b25"/>
<circle cx="118.3" cy="162.8" r="1.6" fill="#78bfea"/>
<circle cx="40.5" cy="156.6" r="1.6" fill="#f0bb52"/>
<circle cx="121.5" cy="160.5" r="1.6" fill="#0f8a62"/>
<circle cx="97.9" cy="121.4" r="1.6" fill="#07553e"/>
<circle cx="107.5" cy="157.6" r="1.6" fill="#4aa7df"/>
<circle cx="102.8" cy="169.1" r="1.6" fill="#4aa7df"/>
<circle cx="130.9" cy="189.5" r="1.6" fill="#78bfea"/>
<circle cx="86.0" cy="137.0" r="1.6" fill="#0b7756"/>
<circle cx="100.5" cy="138.1" r="1.6" fill="#825b25"/>
<circle cx="115.6" cy="192.8" r="1.6" fill="#78bfea"/>
<circle cx="114.9" cy="158.7" r="1.6" fill="#2f7fb8"/>
<circle cx="102.5" cy="105.6" r="1.6" fill="#07553e"/>
<circle cx="15.9" cy="160.8" r="1.6" fill="#f7cb72"/>
<circle cx="96.7" cy="110.6" r="1.6" fill="#4db592"/>
<circle cx="83.3" cy="145.4" r="1.6" fill="#825b25"/>
<circle cx="21.3" cy="156.5" r="1.6" fill="#f0bb52"/>
<circle cx="109.1" cy="87.6" r="1.6" fill="#0b7756"/>
<circle cx="103.1" cy="146.3" r="1.6" fill="#2f7fb8"/>
<circle cx="105.8" cy="166.0" r="1.6" fill="#2f7fb8"/>
<circle cx="113.9" cy="163.4" r="1.6" fill="#4aa7df"/>
<circle cx="26.1" cy="155.2" r="1.6" fill="#f7cb72"/>
<circle cx="59.8" cy="149.2" r="1.6" fill="#f0bb52"/>
<circle cx="69.5" cy="137.8" r="1.6" fill="#0f8a62"/>
<circle cx="61.6" cy="144.0" r="1.6" fill="#825b25"/>
<circle cx="111.7" cy="175.6" r="1.6" fill="#4aa7df"/>
<circle cx="70.6" cy="142.9" r="1.6" fill="#825b25"/>
<circle cx="107.6" cy="152.9" r="1.6" fill="#4aa7df"/>
<circle cx="105.9" cy="95.6" r="1.6" fill="#07553e"/>
<circle cx="113.3" cy="98.0" r="1.6" fill="#80cfb1"/>
<circle cx="115.8" cy="174.9" r="1.6" fill="#4aa7df"/>
<circle cx="76.0" cy="152.6" r="1.6" fill="#c08431"/>
<circle cx="103.9" cy="102.7" r="1.6" fill="#139e78"/>
<circle cx="62.1" cy="152.2" r="1.6" fill="#c08431"/>
<circle cx="106.0" cy="151.0" r="1.6" fill="#4db592"/>
<circle cx="62.1" cy="146.7" r="1.6" fill="#f0bb52"/>
<circle cx="100.6" cy="116.6" r="1.6" fill="#07553e"/>
<circle cx="21.7" cy="155.2" r="1.6" fill="#f7cb72"/>
<circle cx="87.5" cy="113.9" r="1.6" fill="#0f8a62"/>
<circle cx="84.6" cy="140.7" r="1.6" fill="#c08431"/>
<circle cx="95.7" cy="130.4" r="1.6" fill="#139e78"/>
<circle cx="115.9" cy="88.9" r="1.6" fill="#80cfb1"/>
<circle cx="62.2" cy="142.5" r="1.6" fill="#825b25"/>
<circle cx="123.7" cy="101.2" r="1.6" fill="#80cfb1"/>
<circle cx="116.8" cy="104.0" r="1.6" fill="#80cfb1"/>
<circle cx="114.3" cy="171.8" r="1.6" fill="#78bfea"/>
<circle cx="125.4" cy="184.1" r="1.6" fill="#78bfea"/>
<circle cx="76.8" cy="141.6" r="1.6" fill="#e09b2a"/>
<circle cx="113.9" cy="158.3" r="1.6" fill="#78bfea"/>
<circle cx="124.5" cy="203.6" r="1.6" fill="#78bfea"/>
<circle cx="125.7" cy="190.7" r="1.6" fill="#78bfea"/>
<circle cx="59.9" cy="155.7" r="1.6" fill="#f0bb52"/>
<circle cx="130.3" cy="195.2" r="1.6" fill="#78bfea"/>
<circle cx="91.3" cy="125.0" r="1.6" fill="#139e78"/>
<circle cx="120.6" cy="114.3" r="1.6" fill="#80cfb1"/>
<circle cx="68.1" cy="153.0" r="1.6" fill="#825b25"/>
<circle cx="98.1" cy="99.9" r="1.6" fill="#07553e"/>
<circle cx="92.1" cy="135.3" r="1.6" fill="#0b7756"/>
<circle cx="75.1" cy="141.2" r="1.6" fill="#e6a838"/>
<circle cx="116.4" cy="118.5" r="1.6" fill="#80cfb1"/>
<circle cx="100.4" cy="107.3" r="1.6" fill="#0b7756"/>
<circle cx="119.3" cy="181.2" r="1.6" fill="#78bfea"/>
<circle cx="45.4" cy="152.9" r="1.6" fill="#9c6e2b"/>
<circle cx="37.0" cy="148.7" r="1.6" fill="#f7cb72"/>
<circle cx="122.5" cy="193.9" r="1.6" fill="#4aa7df"/>
<circle cx="122.3" cy="201.6" r="1.6" fill="#4aa7df"/>
<circle cx="122.5" cy="199.8" r="1.6" fill="#4aa7df"/>
<circle cx="62.7" cy="145.3" r="1.6" fill="#825b25"/>
<circle cx="110.5" cy="149.0" r="1.6" fill="#4aa7df"/>
<circle cx="101.7" cy="144.9" r="1.6" fill="#4aa7df"/>
<circle cx="35.6" cy="158.7" r="1.6" fill="#f7cb72"/>
<circle cx="103.8" cy="152.6" r="1.6" fill="#2f7fb8"/>
<circle cx="91.9" cy="134.0" r="1.6" fill="#825b25"/>
<circle cx="97.7" cy="101.7" r="1.6" fill="#0b7756"/>
<circle cx="112.5" cy="189.2" r="1.6" fill="#78bfea"/>
<circle cx="24.1" cy="158.6" r="1.6" fill="#f0bb52"/>
<circle cx="53.5" cy="149.9" r="1.6" fill="#c08431"/>
<circle cx="118.2" cy="180.0" r="1.6" fill="#4aa7df"/>
<circle cx="93.7" cy="134.8" r="1.6" fill="#0b7756"/>
<circle cx="99.6" cy="174.6" r="1.6" fill="#e09b2a"/>
<circle cx="124.2" cy="192.3" r="1.6" fill="#78bfea"/>
<circle cx="100.1" cy="119.4" r="1.6" fill="#0b7756"/>
<circle cx="25.0" cy="162.1" r="1.6" fill="#f7cb72"/>
<circle cx="46.0" cy="145.9" r="1.6" fill="#e6a838"/>
<circle cx="95.5" cy="141.3" r="1.6" fill="#c08431"/>
<circle cx="96.6" cy="130.9" r="1.6" fill="#0b7756"/>
<circle cx="98.2" cy="133.4" r="1.6" fill="#9c6e2b"/>
<circle cx="119.4" cy="124.5" r="1.6" fill="#4db592"/>
<circle cx="107.9" cy="126.9" r="1.6" fill="#80cfb1"/>
<circle cx="100.5" cy="137.5" r="1.6" fill="#825b25"/>
<circle cx="84.9" cy="139.6" r="1.6" fill="#825b25"/>
<circle cx="71.2" cy="153.5" r="1.6" fill="#9c6e2b"/>
<circle cx="116.9" cy="88.8" r="1.6" fill="#80cfb1"/>
<circle cx="99.1" cy="141.2" r="1.6" fill="#80cfb1"/>
<circle cx="100.3" cy="135.6" r="1.6" fill="#80cfb1"/>
<circle cx="111.1" cy="178.7" r="1.6" fill="#4aa7df"/>
<circle cx="108.4" cy="137.6" r="1.6" fill="#80cfb1"/>
<circle cx="95.4" cy="139.1" r="1.6" fill="#9c6e2b"/>
<circle cx="92.7" cy="135.4" r="1.6" fill="#c08431"/>
<circle cx="98.5" cy="143.1" r="1.6" fill="#9c6e2b"/>
<circle cx="94.4" cy="127.0" r="1.6" fill="#0b7756"/>
<circle cx="105.5" cy="103.8" r="1.6" fill="#0b7756"/>
<circle cx="112.6" cy="151.4" r="1.6" fill="#4aa7df"/>
<circle cx="40.1" cy="150.9" r="1.6" fill="#f7cb72"/>
<circle cx="107.7" cy="158.5" r="1.6" fill="#4aa7df"/>
<circle cx="97.0" cy="140.3" r="1.6" fill="#80cfb1"/>
<circle cx="105.4" cy="147.2" r="1.6" fill="#2f7fb8"/>
<circle cx="137.8" cy="213.8" r="1.6" fill="#78bfea"/>
<circle cx="135.6" cy="216.8" r="1.6" fill="#78bfea"/>
<circle cx="96.2" cy="120.3" r="1.6" fill="#07553e"/>
<circle cx="90.8" cy="155.3" r="1.6" fill="#b98226"/>
<circle cx="99.8" cy="162.7" r="1.6" fill="#78bfea"/>
<circle cx="17.9" cy="157.9" r="1.6" fill="#f7cb72"/>
<circle cx="130.9" cy="214.3" r="1.6" fill="#4aa7df"/>
<circle cx="116.3" cy="98.1" r="1.6" fill="#80cfb1"/>
<circle cx="81.1" cy="149.9" r="1.6" fill="#c08431"/>
<circle cx="21.3" cy="155.1" r="1.6" fill="#f7cb72"/>
<circle cx="90.7" cy="149.4" r="1.6" fill="#9c6e2b"/>
<circle cx="108.9" cy="188.4" r="1.6" fill="#4aa7df"/>
<circle cx="89.6" cy="134.4" r="1.6" fill="#825b25"/>
<circle cx="127.2" cy="208.5" r="1.6" fill="#4aa7df"/>
<circle cx="97.1" cy="114.0" r="1.6" fill="#139e78"/>
<circle cx="85.6" cy="141.5" r="1.6" fill="#825b25"/>
<circle cx="45.1" cy="152.6" r="1.6" fill="#f7cb72"/>
<circle cx="93.7" cy="109.2" r="1.6" fill="#07553e"/>
<circle cx="119.8" cy="101.0" r="1.6" fill="#80cfb1"/>
<circle cx="85.7" cy="151.2" r="1.6" fill="#e6a838"/>
<circle cx="48.2" cy="152.8" r="1.6" fill="#f7cb72"/>
<circle cx="117.3" cy="173.3" r="1.6" fill="#78bfea"/>
<circle cx="71.6" cy="139.4" r="1.6" fill="#9c6e2b"/>
<circle cx="101.2" cy="102.1" r="1.6" fill="#07553e"/>
<circle cx="94.5" cy="132.3" r="1.6" fill="#139e78"/>
<circle cx="71.2" cy="149.9" r="1.6" fill="#825b25"/>
<circle cx="124.1" cy="174.6" r="1.6" fill="#78bfea"/>
<circle cx="106.2" cy="171.2" r="1.6" fill="#78bfea"/>
<circle cx="104.4" cy="134.4" r="1.6" fill="#80cfb1"/>
<circle cx="70.7" cy="143.9" r="1.6" fill="#9c6e2b"/>
<circle cx="108.2" cy="140.6" r="1.6" fill="#80cfb1"/>
<circle cx="105.3" cy="149.0" r="1.6" fill="#78bfea"/>
<circle cx="97.3" cy="101.2" r="1.6" fill="#139e78"/>
<circle cx="33.5" cy="156.3" r="1.6" fill="#f7cb72"/>
<circle cx="8.3" cy="160.6" r="1.6" fill="#f0bb52"/>
<circle cx="113.8" cy="108.3" r="1.6" fill="#80cfb1"/>
<circle cx="112.2" cy="114.0" r="1.6" fill="#80cfb1"/>
<circle cx="96.5" cy="142.2" r="1.6" fill="#80cfb1"/>
<circle cx="108.2" cy="179.6" r="1.6" fill="#4aa7df"/>
<circle cx="103.2" cy="137.4" r="1.6" fill="#80cfb1"/>
<circle cx="116.6" cy="97.8" r="1.6" fill="#80cfb1"/>
<circle cx="84.3" cy="139.7" r="1.6" fill="#c08431"/>
<circle cx="97.5" cy="119.9" r="1.6" fill="#07553e"/>
<circle cx="107.5" cy="117.6" r="1.6" fill="#80cfb1"/>
<circle cx="57.3" cy="147.0" r="1.6" fill="#c08431"/>
<circle cx="100.9" cy="133.2" r="1.6" fill="#80cfb1"/>
<circle cx="104.3" cy="120.4" r="1.6" fill="#80cfb1"/>
<circle cx="97.4" cy="154.6" r="1.6" fill="#78bfea"/>
<circle cx="112.9" cy="187.1" r="1.6" fill="#78bfea"/>
<circle cx="81.6" cy="137.3" r="1.6" fill="#e6a838"/>
<circle cx="109.4" cy="160.1" r="1.6" fill="#2f7fb8"/>
<circle cx="103.0" cy="100.8" r="1.6" fill="#07553e"/>
<circle cx="133.4" cy="208.3" r="1.6" fill="#78bfea"/>
<circle cx="101.5" cy="149.7" r="1.6" fill="#4aa7df"/>
<circle cx="103.2" cy="155.9" r="1.6" fill="#4aa7df"/>
<circle cx="88.2" cy="149.9" r="1.6" fill="#9c6e2b"/>
<circle cx="35.5" cy="150.1" r="1.6" fill="#f7cb72"/>
<circle cx="103.2" cy="109.5" r="1.6" fill="#0b7756"/>
<circle cx="107.5" cy="140.3" r="1.6" fill="#80cfb1"/>
<circle cx="101.0" cy="166.3" r="1.6" fill="#4aa7df"/>
<circle cx="107.5" cy="123.1" r="1.6" fill="#80cfb1"/>
<circle cx="103.2" cy="150.8" r="1.6" fill="#4aa7df"/>
<circle cx="105.2" cy="96.4" r="1.6" fill="#139e78"/>
<circle cx="54.8" cy="151.1" r="1.6" fill="#c08431"/>
<circle cx="140.0" cy="220.0" r="1.6" fill="#78bfea"/>
<circle cx="130.4" cy="214.0" r="1.6" fill="#4aa7df"/>
<circle cx="130.5" cy="193.1" r="1.6" fill="#78bfea"/>
<circle cx="112.3" cy="104.1" r="1.6" fill="#80cfb1"/>
<circle cx="101.3" cy="148.3" r="1.6" fill="#4aa7df"/>
<circle cx="96.4" cy="146.9" r="1.6" fill="#9c6e2b"/>
<circle cx="67.6" cy="150.9" r="1.6" fill="#c08431"/>
<circle cx="41.5" cy="147.4" r="1.6" fill="#f7cb72"/>
<circle cx="9.3" cy="157.5" r="1.6" fill="#f7cb72"/>
<circle cx="97.6" cy="139.3" r="1.6" fill="#80cfb1"/>
<circle cx="115.3" cy="197.0" r="1.6" fill="#4aa7df"/>
<circle cx="59.1" cy="155.5" r="1.6" fill="#825b25"/>
<circle cx="35.1" cy="161.7" r="1.6" fill="#f0bb52"/>
</g>
<ellipse cx="51.7" cy="152.8" rx="45.6" ry="13.1" transform="rotate(-12.9 51.7 152.8)" fill="none" stroke="#111" stroke-width="1.25" stroke-dasharray="1.1 1.15"/>
<ellipse cx="107.5" cy="114.3" rx="32.6" ry="18.2" transform="rotate(-64.0 107.5 114.3)" fill="none" stroke="#111" stroke-width="1.25" stroke-dasharray="1.1 1.15"/>
<ellipse cx="120.0" cy="186.9" rx="45.3" ry="12.8" transform="rotate(66.6 120.0 186.9)" fill="none" stroke="#111" stroke-width="1.25" stroke-dasharray="1.1 1.15"/>
<text x="118.5" y="70.2" font-size="9.50" text-anchor="middle" fill="#151515" style="font-style:italic">Hepatic</text>
<text x="121.0" y="80.8" font-size="9.50" text-anchor="middle" fill="#151515" style="font-style:italic">intermediate</text>
<text x="25.5" y="116.3" font-size="9.50" text-anchor="middle" fill="#151515" style="font-style:italic">Hepatic low,</text>
<text x="25.5" y="125.8" font-size="9.50" text-anchor="middle" fill="#151515" style="font-style:italic">WNT high</text>
<text x="78.5" y="202.0" font-size="9.50" text-anchor="middle" fill="#151515" style="font-style:italic">Hepatic high</text>
<text x="75.6" y="98.9" font-size="9.80" text-anchor="start" fill="#151515">28F<tspan font-size="5.20" dy="3.2">1</tspan></text>
<text x="132.4" y="104.9" font-size="9.80" text-anchor="start" fill="#151515">8F<tspan font-size="5.20" dy="3.2">1</tspan></text>
<text x="60.6" y="119.9" font-size="9.80" text-anchor="start" fill="#151515">96F<tspan font-size="5.20" dy="3.2">1</tspan></text>
<text x="125.3" y="128.9" font-size="9.80" text-anchor="start" fill="#151515">27F<tspan font-size="5.20" dy="3.2">1</tspan></text>
<text x="113.7" y="146.8" font-size="9.80" text-anchor="start" fill="#151515">17F<tspan font-size="5.20" dy="3.2">1</tspan></text>
<text x="125.9" y="168.2" font-size="9.80" text-anchor="start" fill="#151515">135F<tspan font-size="5.20" dy="3.2">2</tspan></text>
<text x="135.9" y="190.2" font-size="9.80" text-anchor="start" fill="#151515">13F<tspan font-size="5.20" dy="3.2">2</tspan></text>
<text x="95.0" y="216.7" font-size="9.80" text-anchor="start" fill="#151515">10F<tspan font-size="5.20" dy="3.2">2</tspan></text>
<text x="53.8" y="132.3" font-size="9.80" text-anchor="start" fill="#151515">135E</text>
<text x="36.4" y="138.8" font-size="9.80" text-anchor="start" fill="#151515">17E</text>
<text x="12.9" y="144.9" font-size="9.80" text-anchor="start" fill="#151515">31E</text>
<text x="9.4" y="177.6" font-size="9.80" text-anchor="start" fill="#151515">3E</text>
<text x="35.2" y="177.6" font-size="9.80" text-anchor="start" fill="#151515">13E</text>
<text x="57.6" y="175.2" font-size="9.80" text-anchor="start" fill="#151515">22E</text>
<line x1="22.50" y1="205.00" x2="22.50" y2="225.00" stroke="#222" stroke-width="1.00"/>
<line x1="22.00" y1="224.50" x2="42.50" y2="224.50" stroke="#222" stroke-width="1.00"/>
<text transform="translate(16.9,211.8) rotate(-90)" font-size="9.8" text-anchor="middle" fill="#151515">PC 2</text>
<text x="32.8" y="238.7" font-size="9.60" text-anchor="middle" fill="#151515">PC 1</text>
<style>.hm rect{height:7.16px}.hm .l rect{height:6.46px}</style>
<rect x="193.40" y="96.30" width="35.40" height="64.60" fill="#460b5e"/>
<rect x="228.80" y="96.30" width="35.60" height="64.60" fill="#f6e620"/>
<rect x="193.40" y="160.90" width="35.40" height="64.60" fill="#f6e620"/>
<rect x="228.80" y="160.90" width="35.60" height="64.60" fill="#460b5e"/>
<g class="hm">
<g transform="translate(0,96.30)">
<rect x="193.40" width="35.40" fill="#46085c"/>
<rect x="202.9" width="0.63" fill="#481b6d"/>
<rect x="205.4" width="0.63" fill="#460a5d"/>
<rect x="208.6" width="0.63" fill="#471063"/>
<rect x="222.5" width="0.63" fill="#460a5d"/>
<rect x="228.80" width="35.60" fill="#f6e620"/>
<rect x="228.9" width="0.35" fill="#414487"/>
<rect x="230.8" width="0.35" fill="#453882"/>
<rect x="231.4" width="0.35" fill="#481c6e"/>
<rect x="232.6" width="0.64" fill="#bddf26"/>
<rect x="233.2" width="0.64" fill="#e5e419"/>
<rect x="233.9" width="0.64" fill="#bddf26"/>
<rect x="234.6" width="0.35" fill="#3c4f8a"/>
<rect x="235.2" width="0.64" fill="#bade28"/>
<rect x="235.8" width="0.64" fill="#89d548"/>
<rect x="236.4" width="0.64" fill="#eae51a"/>
<rect x="237.7" width="0.64" fill="#98d83e"/>
<rect x="238.3" width="0.64" fill="#b0dd2f"/>
<rect x="239.1" width="0.35" fill="#218f8d"/>
<rect x="239.6" width="0.64" fill="#f8e621"/>
<rect x="240.2" width="0.64" fill="#8bd646"/>
<rect x="240.9" width="0.64" fill="#e7e419"/>
<rect x="241.5" width="0.64" fill="#f4e61e"/>
<rect x="242.2" width="0.64" fill="#cde11d"/>
<rect x="242.8" width="0.64" fill="#dae319"/>
<rect x="244.1" width="0.64" fill="#89d548"/>
<rect x="244.7" width="0.64" fill="#c2df23"/>
<rect x="245.3" width="0.64" fill="#98d83e"/>
<rect x="246.0" width="0.64" fill="#bddf26"/>
<rect x="246.6" width="0.64" fill="#f4e61e"/>
<rect x="247.2" width="0.64" fill="#65cb5e"/>
<rect x="249.1" width="0.64" fill="#e5e419"/>
<rect x="249.9" width="0.35" fill="#228c8d"/>
<rect x="250.4" width="0.64" fill="#f1e51d"/>
<rect x="251.0" width="0.64" fill="#f8e621"/>
<rect x="251.7" width="0.64" fill="#84d44b"/>
<rect x="252.3" width="0.64" fill="#d0e11c"/>
<rect x="253.1" width="0.35" fill="#453581"/>
<rect x="253.6" width="0.64" fill="#a0da39"/>
<rect x="254.9" width="0.64" fill="#e5e419"/>
<rect x="255.5" width="0.64" fill="#6ece58"/>
<rect x="256.2" width="0.35" fill="#443a83"/>
<rect x="256.8" width="0.64" fill="#dae319"/>
<rect x="257.4" width="0.64" fill="#f1e51d"/>
<rect x="258.0" width="0.64" fill="#d5e21a"/>
<rect x="259.9" width="0.64" fill="#d2e21b"/>
<rect x="260.6" width="0.64" fill="#dfe318"/>
<rect x="261.3" width="0.35" fill="#481668"/>
<rect x="262.5" width="0.64" fill="#ece51b"/>
<rect x="263.9" width="0.35" fill="#30698e"/>
</g>
<g transform="translate(0,102.76)">
<rect x="193.40" width="35.40" fill="#460b5e"/>
<rect x="195.9" width="0.63" fill="#423f85"/>
<rect x="207.3" width="0.63" fill="#481c6e"/>
<rect x="213.6" width="0.63" fill="#460b5e"/>
<rect x="219.3" width="0.63" fill="#481467"/>
<rect x="228.80" width="35.60" fill="#f6e620"/>
<rect x="229.4" width="0.64" fill="#d8e219"/>
<rect x="230.1" width="0.64" fill="#eae51a"/>
<rect x="230.7" width="0.64" fill="#cae11f"/>
<rect x="232.6" width="0.64" fill="#a8db34"/>
<rect x="233.2" width="0.64" fill="#d8e219"/>
<rect x="233.9" width="0.64" fill="#f1e51d"/>
<rect x="234.5" width="0.64" fill="#d5e21a"/>
<rect x="235.2" width="0.64" fill="#d5e21a"/>
<rect x="237.1" width="0.64" fill="#f4e61e"/>
<rect x="238.4" width="0.35" fill="#2d718e"/>
<rect x="239.0" width="0.64" fill="#f8e621"/>
<rect x="239.6" width="0.64" fill="#fbe723"/>
<rect x="240.2" width="0.64" fill="#f6e620"/>
<rect x="240.9" width="0.64" fill="#9bd93c"/>
<rect x="241.5" width="0.64" fill="#f1e51d"/>
<rect x="242.2" width="0.64" fill="#b8de29"/>
<rect x="242.8" width="0.64" fill="#eae51a"/>
<rect x="243.4" width="0.64" fill="#cae11f"/>
<rect x="244.7" width="0.64" fill="#b0dd2f"/>
<rect x="245.3" width="0.64" fill="#dfe318"/>
<rect x="246.1" width="0.35" fill="#39558c"/>
<rect x="247.2" width="0.64" fill="#fbe723"/>
<rect x="247.9" width="0.64" fill="#d2e21b"/>
<rect x="248.5" width="0.64" fill="#bade28"/>
<rect x="249.1" width="0.64" fill="#fde725"/>
<rect x="251.1" width="0.35" fill="#23898e"/>
<rect x="252.3" width="0.64" fill="#cae11f"/>
<rect x="253.0" width="0.64" fill="#addc30"/>
<rect x="253.6" width="0.64" fill="#addc30"/>
<rect x="254.2" width="0.64" fill="#bade28"/>
<rect x="255.5" width="0.64" fill="#bddf26"/>
<rect x="256.1" width="0.64" fill="#e7e419"/>
<rect x="257.4" width="0.64" fill="#addc30"/>
<rect x="258.7" width="0.64" fill="#86d549"/>
<rect x="259.9" width="0.64" fill="#a8db34"/>
<rect x="261.2" width="0.64" fill="#a5db36"/>
<rect x="261.9" width="0.64" fill="#c8e020"/>
<rect x="262.6" width="0.35" fill="#3b518b"/>
<rect x="263.1" width="0.64" fill="#f8e621"/>
<rect x="263.9" width="0.35" fill="#287c8e"/>
</g>
<g transform="translate(0,109.22)">
<rect x="193.40" width="35.40" fill="#46085c"/>
<rect x="216.2" width="0.63" fill="#481467"/>
<rect x="228.80" width="35.60" fill="#f6e620"/>
<rect x="228.8" width="0.64" fill="#cde11d"/>
<rect x="230.1" width="0.64" fill="#7fd34e"/>
<rect x="231.4" width="0.35" fill="#46307e"/>
<rect x="232.0" width="0.64" fill="#dde318"/>
<rect x="232.6" width="0.64" fill="#addc30"/>
<rect x="233.2" width="0.64" fill="#7fd34e"/>
<rect x="233.9" width="0.64" fill="#9bd93c"/>
<rect x="234.5" width="0.64" fill="#fde725"/>
<rect x="235.2" width="0.64" fill="#bddf26"/>
<rect x="235.8" width="0.64" fill="#b5de2b"/>
<rect x="236.4" width="0.64" fill="#b8de29"/>
<rect x="237.1" width="0.64" fill="#d8e219"/>
<rect x="237.7" width="0.64" fill="#77d153"/>
<rect x="238.3" width="0.64" fill="#addc30"/>
<rect x="239.6" width="0.64" fill="#90d743"/>
<rect x="242.2" width="0.64" fill="#a5db36"/>
<rect x="242.8" width="0.64" fill="#3fbc73"/>
<rect x="244.7" width="0.64" fill="#f4e61e"/>
<rect x="245.3" width="0.64" fill="#63cb5f"/>
<rect x="246.0" width="0.64" fill="#cde11d"/>
<rect x="247.2" width="0.64" fill="#a5db36"/>
<rect x="247.9" width="0.64" fill="#f8e621"/>
<rect x="248.5" width="0.64" fill="#efe51c"/>
<rect x="251.0" width="0.64" fill="#5cc863"/>
<rect x="251.7" width="0.64" fill="#f8e621"/>
<rect x="253.0" width="0.64" fill="#d5e21a"/>
<rect x="253.7" width="0.35" fill="#355f8d"/>
<rect x="254.2" width="0.64" fill="#ece51b"/>
<rect x="254.9" width="0.64" fill="#dae319"/>
<rect x="255.5" width="0.64" fill="#cde11d"/>
<rect x="258.0" width="0.64" fill="#32b67a"/>
<rect x="258.7" width="0.64" fill="#a2da37"/>
<rect x="259.9" width="0.64" fill="#89d548"/>
<rect x="260.6" width="0.64" fill="#e7e419"/>
<rect x="261.2" width="0.64" fill="#67cc5c"/>
<rect x="262.5" width="0.64" fill="#f4e61e"/>
<rect x="263.1" width="0.64" fill="#f8e621"/>
<rect x="263.8" width="0.64" fill="#98d83e"/>
</g>
<g transform="translate(0,115.68)">
<rect x="193.40" width="35.40" fill="#463480"/>
<rect x="193.4" width="0.63" fill="#433d84"/>
<rect x="200.4" width="0.63" fill="#463480"/>
<rect x="208.6" width="0.63" fill="#3c4f8a"/>
<rect x="209.2" width="0.63" fill="#365d8d"/>
<rect x="209.8" width="0.63" fill="#375b8d"/>
<rect x="210.5" width="0.63" fill="#33628d"/>
<rect x="212.4" width="0.63" fill="#3a538b"/>
<rect x="213.6" width="0.63" fill="#33638d"/>
<rect x="217.4" width="0.63" fill="#31688e"/>
<rect x="218.1" width="0.63" fill="#33638d"/>
<rect x="219.3" width="0.63" fill="#414287"/>
<rect x="220.0" width="0.63" fill="#365c8d"/>
<rect x="220.6" width="0.63" fill="#34618d"/>
<rect x="225.0" width="0.63" fill="#3a538b"/>
<rect x="226.9" width="0.63" fill="#3e4c8a"/>
<rect x="228.2" width="0.63" fill="#424086"/>
<rect x="228.80" width="35.60" fill="#f6e620"/>
<rect x="228.8" width="0.64" fill="#cde11d"/>
<rect x="230.1" width="0.64" fill="#d5e21a"/>
<rect x="230.7" width="0.64" fill="#70cf57"/>
<rect x="231.3" width="0.64" fill="#98d83e"/>
<rect x="232.0" width="0.64" fill="#73d056"/>
<rect x="233.2" width="0.64" fill="#c8e020"/>
<rect x="234.0" width="0.35" fill="#453882"/>
<rect x="234.6" width="0.35" fill="#472a7a"/>
<rect x="235.8" width="0.64" fill="#28ae80"/>
<rect x="236.5" width="0.35" fill="#218f8d"/>
<rect x="237.8" width="0.35" fill="#24868e"/>
<rect x="238.3" width="0.64" fill="#4ec36b"/>
<rect x="239.0" width="0.64" fill="#77d153"/>
<rect x="239.6" width="0.64" fill="#eae51a"/>
<rect x="241.5" width="0.64" fill="#218e8d"/>
<rect x="242.2" width="0.64" fill="#d2e21b"/>
<rect x="242.8" width="0.64" fill="#6ece58"/>
<rect x="243.4" width="0.64" fill="#70cf57"/>
<rect x="244.2" width="0.35" fill="#365c8d"/>
<rect x="244.7" width="0.64" fill="#25ab82"/>
<rect x="245.3" width="0.64" fill="#9dd93b"/>
<rect x="246.0" width="0.64" fill="#5ac864"/>
<rect x="247.2" width="0.64" fill="#a0da39"/>
<rect x="249.8" width="0.64" fill="#1e9d89"/>
<rect x="251.0" width="0.64" fill="#25ab82"/>
<rect x="251.7" width="0.64" fill="#dae319"/>
<rect x="252.3" width="0.64" fill="#20a386"/>
<rect x="253.0" width="0.64" fill="#3dbc74"/>
<rect x="253.6" width="0.64" fill="#2fb47c"/>
<rect x="254.2" width="0.64" fill="#2c738e"/>
<rect x="255.6" width="0.35" fill="#481c6e"/>
<rect x="256.1" width="0.64" fill="#cae11f"/>
<rect x="256.8" width="0.64" fill="#c2df23"/>
<rect x="257.4" width="0.64" fill="#c2df23"/>
<rect x="258.1" width="0.35" fill="#482071"/>
<rect x="258.7" width="0.64" fill="#27ad81"/>
<rect x="259.3" width="0.64" fill="#addc30"/>
<rect x="259.9" width="0.64" fill="#d5e21a"/>
<rect x="262.0" width="0.35" fill="#482576"/>
<rect x="263.1" width="0.64" fill="#5ec962"/>
</g>
<g transform="translate(0,122.14)">
<rect x="193.40" width="35.40" fill="#482475"/>
<rect x="193.4" width="0.63" fill="#46327e"/>
<rect x="200.4" width="0.63" fill="#472c7a"/>
<rect x="201.6" width="0.63" fill="#443983"/>
<rect x="203.5" width="0.63" fill="#46307e"/>
<rect x="204.8" width="0.63" fill="#472a7a"/>
<rect x="205.4" width="0.63" fill="#423f85"/>
<rect x="207.9" width="0.63" fill="#472f7d"/>
<rect x="209.8" width="0.63" fill="#46327e"/>
<rect x="218.1" width="0.63" fill="#46307e"/>
<rect x="220.6" width="0.63" fill="#46327e"/>
<rect x="224.4" width="0.63" fill="#482677"/>
<rect x="225.0" width="0.63" fill="#3e4a89"/>
<rect x="225.6" width="0.63" fill="#443b84"/>
<rect x="228.80" width="35.60" fill="#f6e620"/>
<rect x="228.9" width="0.35" fill="#355e8d"/>
<rect x="230.2" width="0.35" fill="#482071"/>
<rect x="230.7" width="0.64" fill="#f6e620"/>
<rect x="232.1" width="0.35" fill="#31688e"/>
<rect x="232.6" width="0.64" fill="#fde725"/>
<rect x="233.2" width="0.64" fill="#9dd93b"/>
<rect x="233.9" width="0.64" fill="#f8e621"/>
<rect x="235.2" width="0.64" fill="#b0dd2f"/>
<rect x="235.8" width="0.64" fill="#9dd93b"/>
<rect x="236.4" width="0.64" fill="#ece51b"/>
<rect x="237.1" width="0.64" fill="#ece51b"/>
<rect x="238.3" width="0.64" fill="#98d83e"/>
<rect x="239.6" width="0.64" fill="#b5de2b"/>
<rect x="242.2" width="0.64" fill="#a0da39"/>
<rect x="242.8" width="0.64" fill="#e2e418"/>
<rect x="243.4" width="0.64" fill="#8bd646"/>
<rect x="244.1" width="0.64" fill="#bddf26"/>
<rect x="245.3" width="0.64" fill="#a8db34"/>
<rect x="246.0" width="0.64" fill="#ece51b"/>
<rect x="246.6" width="0.64" fill="#bddf26"/>
<rect x="248.0" width="0.35" fill="#424086"/>
<rect x="248.6" width="0.35" fill="#306a8e"/>
<rect x="249.8" width="0.64" fill="#bade28"/>
<rect x="250.4" width="0.64" fill="#e5e419"/>
<rect x="251.8" width="0.35" fill="#482475"/>
<rect x="252.3" width="0.64" fill="#f6e620"/>
<rect x="253.0" width="0.64" fill="#d0e11c"/>
<rect x="253.6" width="0.64" fill="#f8e621"/>
<rect x="254.2" width="0.64" fill="#d5e21a"/>
<rect x="254.9" width="0.64" fill="#fbe723"/>
<rect x="255.5" width="0.64" fill="#c5e021"/>
<rect x="256.8" width="0.64" fill="#f6e620"/>
<rect x="258.0" width="0.64" fill="#75d054"/>
<rect x="258.7" width="0.64" fill="#b5de2b"/>
<rect x="259.3" width="0.64" fill="#ece51b"/>
<rect x="260.1" width="0.35" fill="#238a8d"/>
<rect x="261.2" width="0.64" fill="#b0dd2f"/>
<rect x="261.9" width="0.64" fill="#f1e51d"/>
<rect x="263.1" width="0.64" fill="#fde725"/>
<rect x="263.8" width="0.64" fill="#f6e620"/>
</g>
<g transform="translate(0,128.60)">
<rect x="193.40" width="35.40" fill="#450457"/>
<rect x="203.5" width="0.63" fill="#460a5d"/>
<rect x="226.3" width="0.63" fill="#471164"/>
<rect x="228.80" width="35.60" fill="#f6e620"/>
<rect x="228.8" width="0.64" fill="#f1e51d"/>
<rect x="230.7" width="0.64" fill="#fbe723"/>
<rect x="231.3" width="0.64" fill="#eae51a"/>
<rect x="232.0" width="0.64" fill="#a8db34"/>
<rect x="232.6" width="0.64" fill="#d0e11c"/>
<rect x="233.9" width="0.64" fill="#b0dd2f"/>
<rect x="234.5" width="0.64" fill="#f6e620"/>
<rect x="235.8" width="0.64" fill="#addc30"/>
<rect x="237.1" width="0.64" fill="#ece51b"/>
<rect x="237.7" width="0.64" fill="#dde318"/>
<rect x="238.3" width="0.64" fill="#c0df25"/>
<rect x="239.0" width="0.64" fill="#7cd250"/>
<rect x="239.6" width="0.64" fill="#c0df25"/>
<rect x="240.2" width="0.64" fill="#93d741"/>
<rect x="240.9" width="0.64" fill="#e5e419"/>
<rect x="241.5" width="0.64" fill="#d8e219"/>
<rect x="242.2" width="0.64" fill="#a8db34"/>
<rect x="242.8" width="0.64" fill="#d0e11c"/>
<rect x="243.4" width="0.64" fill="#ece51b"/>
<rect x="244.1" width="0.64" fill="#58c765"/>
<rect x="244.7" width="0.64" fill="#f1e51d"/>
<rect x="245.3" width="0.64" fill="#f6e620"/>
<rect x="248.5" width="0.64" fill="#addc30"/>
<rect x="249.1" width="0.64" fill="#f6e620"/>
<rect x="250.4" width="0.64" fill="#b0dd2f"/>
<rect x="252.3" width="0.64" fill="#b2dd2d"/>
<rect x="253.0" width="0.64" fill="#eae51a"/>
<rect x="253.6" width="0.64" fill="#42be71"/>
<rect x="254.2" width="0.64" fill="#cde11d"/>
<rect x="256.1" width="0.64" fill="#fde725"/>
<rect x="258.0" width="0.64" fill="#84d44b"/>
<rect x="258.7" width="0.64" fill="#d2e21b"/>
<rect x="259.3" width="0.64" fill="#fbe723"/>
<rect x="260.6" width="0.64" fill="#86d549"/>
<rect x="261.9" width="0.64" fill="#d2e21b"/>
<rect x="263.1" width="0.64" fill="#f4e61e"/>
</g>
<g transform="translate(0,135.06)">
<rect x="193.40" width="35.40" fill="#3e4989"/>
<rect x="195.3" width="0.63" fill="#40bd72"/>
<rect x="197.2" width="0.63" fill="#1f958b"/>
<rect x="198.5" width="0.63" fill="#31668e"/>
<rect x="200.4" width="0.63" fill="#355f8d"/>
<rect x="201.6" width="0.63" fill="#31678e"/>
<rect x="204.1" width="0.63" fill="#3c508b"/>
<rect x="206.0" width="0.63" fill="#218f8d"/>
<rect x="206.7" width="0.63" fill="#2a778e"/>
<rect x="207.3" width="0.63" fill="#32648e"/>
<rect x="207.9" width="0.63" fill="#3c4f8a"/>
<rect x="209.2" width="0.63" fill="#2e6f8e"/>
<rect x="210.5" width="0.63" fill="#3d4e8a"/>
<rect x="211.7" width="0.63" fill="#39568c"/>
<rect x="213.6" width="0.63" fill="#34618d"/>
<rect x="214.3" width="0.63" fill="#287c8e"/>
<rect x="216.2" width="0.63" fill="#297b8e"/>
<rect x="218.7" width="0.63" fill="#27808e"/>
<rect x="221.2" width="0.63" fill="#33638d"/>
<rect x="222.5" width="0.63" fill="#218f8d"/>
<rect x="225.6" width="0.63" fill="#32648e"/>
<rect x="226.9" width="0.63" fill="#2e6e8e"/>
<rect x="228.2" width="0.63" fill="#2e6e8e"/>
<rect x="228.80" width="35.60" fill="#f6e620"/>
<rect x="228.9" width="0.35" fill="#2e6f8e"/>
<rect x="229.4" width="0.64" fill="#f4e61e"/>
<rect x="230.1" width="0.64" fill="#63cb5f"/>
<rect x="230.7" width="0.64" fill="#26828e"/>
<rect x="232.0" width="0.64" fill="#5ac864"/>
<rect x="233.2" width="0.64" fill="#d2e21b"/>
<rect x="234.5" width="0.64" fill="#84d44b"/>
<rect x="235.9" width="0.35" fill="#297a8e"/>
<rect x="236.4" width="0.64" fill="#31678e"/>
<rect x="237.2" width="0.35" fill="#453781"/>
<rect x="237.7" width="0.64" fill="#93d741"/>
<rect x="238.3" width="0.64" fill="#25848e"/>
<rect x="239.6" width="0.64" fill="#69cd5b"/>
<rect x="240.2" width="0.64" fill="#d0e11c"/>
<rect x="241.0" width="0.35" fill="#25858e"/>
<rect x="241.5" width="0.64" fill="#e2e418"/>
<rect x="242.2" width="0.64" fill="#355e8d"/>
<rect x="242.8" width="0.64" fill="#3fbc73"/>
<rect x="243.4" width="0.64" fill="#89d548"/>
<rect x="244.7" width="0.64" fill="#2a768e"/>
<rect x="246.0" width="0.64" fill="#8ed645"/>
<rect x="247.9" width="0.64" fill="#ece51b"/>
<rect x="248.5" width="0.64" fill="#75d054"/>
<rect x="249.2" width="0.35" fill="#482475"/>
<rect x="250.4" width="0.64" fill="#24878e"/>
<rect x="252.3" width="0.64" fill="#4ac16d"/>
<rect x="253.6" width="0.64" fill="#3aba76"/>
<rect x="254.3" width="0.35" fill="#463480"/>
<rect x="254.9" width="0.64" fill="#e2e418"/>
<rect x="255.5" width="0.64" fill="#89d548"/>
<rect x="256.1" width="0.64" fill="#5cc863"/>
<rect x="256.8" width="0.64" fill="#1fa287"/>
<rect x="257.4" width="0.64" fill="#4ec36b"/>
<rect x="258.0" width="0.64" fill="#5ec962"/>
<rect x="258.7" width="0.64" fill="#28ae80"/>
<rect x="259.3" width="0.64" fill="#84d44b"/>
<rect x="259.9" width="0.64" fill="#31668e"/>
<rect x="260.6" width="0.64" fill="#1fa187"/>
<rect x="261.2" width="0.64" fill="#c8e020"/>
<rect x="261.9" width="0.64" fill="#f4e61e"/>
<rect x="262.5" width="0.64" fill="#fde725"/>
<rect x="263.2" width="0.35" fill="#433d84"/>
</g>
<g transform="translate(0,141.52)">
<rect x="193.40" width="35.40" fill="#472a7a"/>
<rect x="193.4" width="0.63" fill="#3e4c8a"/>
<rect x="194.0" width="0.63" fill="#453781"/>
<rect x="195.9" width="0.63" fill="#472e7c"/>
<rect x="199.7" width="0.63" fill="#414487"/>
<rect x="206.0" width="0.63" fill="#463480"/>
<rect x="207.3" width="0.63" fill="#453581"/>
<rect x="210.5" width="0.63" fill="#46337f"/>
<rect x="211.7" width="0.63" fill="#433e85"/>
<rect x="212.4" width="0.63" fill="#453581"/>
<rect x="215.5" width="0.63" fill="#472d7b"/>
<rect x="218.1" width="0.63" fill="#472e7c"/>
<rect x="219.3" width="0.63" fill="#423f85"/>
<rect x="221.2" width="0.63" fill="#453882"/>
<rect x="221.8" width="0.63" fill="#472d7b"/>
<rect x="224.4" width="0.63" fill="#472f7d"/>
<rect x="225.6" width="0.63" fill="#472f7d"/>
<rect x="226.3" width="0.63" fill="#453581"/>
<rect x="226.9" width="0.63" fill="#453882"/>
<rect x="228.2" width="0.63" fill="#3e4a89"/>
<rect x="228.80" width="35.60" fill="#f6e620"/>
<rect x="228.8" width="0.64" fill="#e2e418"/>
<rect x="230.2" width="0.35" fill="#38588c"/>
<rect x="232.1" width="0.35" fill="#3a538b"/>
<rect x="232.6" width="0.64" fill="#dde318"/>
<rect x="233.3" width="0.35" fill="#453781"/>
<rect x="234.6" width="0.35" fill="#3e4c8a"/>
<rect x="235.2" width="0.64" fill="#e7e419"/>
<rect x="235.9" width="0.35" fill="#21908d"/>
<rect x="237.1" width="0.64" fill="#f4e61e"/>
<rect x="237.7" width="0.64" fill="#fde725"/>
<rect x="238.3" width="0.64" fill="#aadc32"/>
<rect x="239.0" width="0.64" fill="#c5e021"/>
<rect x="239.6" width="0.64" fill="#e5e419"/>
<rect x="240.9" width="0.64" fill="#bddf26"/>
<rect x="241.5" width="0.64" fill="#efe51c"/>
<rect x="242.2" width="0.35" fill="#404588"/>
<rect x="242.8" width="0.64" fill="#c5e021"/>
<rect x="244.1" width="0.64" fill="#bddf26"/>
<rect x="244.7" width="0.64" fill="#dde318"/>
<rect x="246.0" width="0.64" fill="#cae11f"/>
<rect x="246.6" width="0.64" fill="#dde318"/>
<rect x="247.2" width="0.64" fill="#b2dd2d"/>
<rect x="247.9" width="0.64" fill="#efe51c"/>
<rect x="248.5" width="0.64" fill="#b5de2b"/>
<rect x="249.1" width="0.64" fill="#9bd93c"/>
<rect x="250.4" width="0.64" fill="#fbe723"/>
<rect x="251.0" width="0.64" fill="#a2da37"/>
<rect x="251.7" width="0.64" fill="#d2e21b"/>
<rect x="252.3" width="0.64" fill="#d5e21a"/>
<rect x="253.0" width="0.64" fill="#fbe723"/>
<rect x="253.6" width="0.64" fill="#a2da37"/>
<rect x="254.2" width="0.64" fill="#d0e11c"/>
<rect x="254.9" width="0.64" fill="#a5db36"/>
<rect x="255.5" width="0.64" fill="#7fd34e"/>
<rect x="256.8" width="0.64" fill="#f4e61e"/>
<rect x="257.4" width="0.64" fill="#f8e621"/>
<rect x="258.0" width="0.64" fill="#89d548"/>
<rect x="258.7" width="0.64" fill="#bade28"/>
<rect x="259.9" width="0.64" fill="#c0df25"/>
<rect x="260.6" width="0.64" fill="#eae51a"/>
<rect x="261.3" width="0.35" fill="#472a7a"/>
<rect x="261.9" width="0.64" fill="#c8e020"/>
<rect x="262.5" width="0.64" fill="#f4e61e"/>
<rect x="263.1" width="0.64" fill="#bade28"/>
<rect x="263.8" width="0.64" fill="#b0dd2f"/>
</g>
<g transform="translate(0,147.98)">
<rect x="193.40" width="35.40" fill="#46085c"/>
<rect x="201.6" width="0.63" fill="#481769"/>
<rect x="210.5" width="0.63" fill="#460a5d"/>
<rect x="212.4" width="0.63" fill="#471063"/>
<rect x="218.1" width="0.63" fill="#470e61"/>
<rect x="223.1" width="0.63" fill="#471063"/>
<rect x="223.7" width="0.63" fill="#470e61"/>
<rect x="225.0" width="0.63" fill="#481769"/>
<rect x="227.5" width="0.63" fill="#46085c"/>
<rect x="228.80" width="35.60" fill="#f6e620"/>
<rect x="229.4" width="0.64" fill="#ece51b"/>
<rect x="230.1" width="0.64" fill="#25ac82"/>
<rect x="230.7" width="0.64" fill="#20938c"/>
<rect x="231.3" width="0.64" fill="#1fa187"/>
<rect x="232.0" width="0.64" fill="#20a486"/>
<rect x="232.6" width="0.64" fill="#95d840"/>
<rect x="233.2" width="0.64" fill="#69cd5b"/>
<rect x="233.9" width="0.64" fill="#a0da39"/>
<rect x="235.8" width="0.64" fill="#d8e219"/>
<rect x="236.4" width="0.64" fill="#e7e419"/>
<rect x="237.1" width="0.64" fill="#c5e021"/>
<rect x="238.3" width="0.64" fill="#69cd5b"/>
<rect x="239.0" width="0.64" fill="#dde318"/>
<rect x="239.6" width="0.64" fill="#25ab82"/>
<rect x="240.3" width="0.35" fill="#355e8d"/>
<rect x="240.9" width="0.64" fill="#f1e51d"/>
<rect x="241.5" width="0.64" fill="#42be71"/>
<rect x="242.2" width="0.64" fill="#65cb5e"/>
<rect x="244.1" width="0.64" fill="#65cb5e"/>
<rect x="244.7" width="0.64" fill="#8ed645"/>
<rect x="248.5" width="0.64" fill="#9dd93b"/>
<rect x="249.1" width="0.64" fill="#35b779"/>
<rect x="249.8" width="0.64" fill="#f1e51d"/>
<rect x="250.4" width="0.64" fill="#fde725"/>
<rect x="251.0" width="0.64" fill="#3aba76"/>
<rect x="251.7" width="0.64" fill="#d0e11c"/>
<rect x="252.3" width="0.64" fill="#9dd93b"/>
<rect x="253.0" width="0.64" fill="#c2df23"/>
<rect x="253.6" width="0.64" fill="#e7e419"/>
<rect x="254.9" width="0.64" fill="#1fa187"/>
<rect x="255.5" width="0.64" fill="#a5db36"/>
<rect x="256.1" width="0.64" fill="#2fb47c"/>
<rect x="256.9" width="0.35" fill="#443983"/>
<rect x="257.4" width="0.64" fill="#24aa83"/>
<rect x="258.7" width="0.64" fill="#e5e419"/>
<rect x="259.9" width="0.64" fill="#7fd34e"/>
<rect x="260.6" width="0.64" fill="#ece51b"/>
<rect x="261.9" width="0.64" fill="#21918c"/>
<rect x="262.5" width="0.64" fill="#c0df25"/>
</g>
<g transform="translate(0,154.44)">
<rect x="193.40" width="35.40" fill="#481a6c"/>
<rect x="193.4" width="0.63" fill="#46307e"/>
<rect x="195.9" width="0.63" fill="#472f7d"/>
<rect x="197.8" width="0.63" fill="#481c6e"/>
<rect x="202.2" width="0.63" fill="#481c6e"/>
<rect x="202.9" width="0.63" fill="#482374"/>
<rect x="205.4" width="0.63" fill="#481c6e"/>
<rect x="215.5" width="0.63" fill="#481d6f"/>
<rect x="216.2" width="0.63" fill="#453882"/>
<rect x="218.1" width="0.63" fill="#46327e"/>
<rect x="219.3" width="0.63" fill="#482374"/>
<rect x="223.7" width="0.63" fill="#481d6f"/>
<rect x="224.4" width="0.63" fill="#482576"/>
<rect x="225.0" width="0.63" fill="#482374"/>
<rect x="225.6" width="0.63" fill="#3c4f8a"/>
<rect x="228.80" width="35.60" fill="#f6e620"/>
<rect x="228.8" width="0.64" fill="#dde318"/>
<rect x="229.4" width="0.64" fill="#89d548"/>
<rect x="230.1" width="0.64" fill="#d2e21b"/>
<rect x="230.7" width="0.64" fill="#d8e219"/>
<rect x="231.3" width="0.64" fill="#2fb47c"/>
<rect x="232.6" width="0.64" fill="#b0dd2f"/>
<rect x="233.3" width="0.35" fill="#481769"/>
<rect x="234.0" width="0.35" fill="#482576"/>
<rect x="234.6" width="0.35" fill="#3f4788"/>
<rect x="235.2" width="0.64" fill="#75d054"/>
<rect x="235.9" width="0.35" fill="#375b8d"/>
<rect x="236.5" width="0.35" fill="#46337f"/>
<rect x="237.1" width="0.64" fill="#86d549"/>
<rect x="237.7" width="0.64" fill="#f6e620"/>
<rect x="238.3" width="0.64" fill="#f6e620"/>
<rect x="239.0" width="0.64" fill="#9bd93c"/>
<rect x="239.6" width="0.64" fill="#dfe318"/>
<rect x="240.3" width="0.35" fill="#228b8d"/>
<rect x="240.9" width="0.64" fill="#1fa088"/>
<rect x="241.5" width="0.64" fill="#fde725"/>
<rect x="242.2" width="0.35" fill="#33628d"/>
<rect x="242.9" width="0.35" fill="#3e4a89"/>
<rect x="243.5" width="0.35" fill="#2f6b8e"/>
<rect x="244.1" width="0.64" fill="#37b878"/>
<rect x="244.8" width="0.35" fill="#30698e"/>
<rect x="245.4" width="0.35" fill="#443b84"/>
<rect x="246.0" width="0.64" fill="#ece51b"/>
<rect x="246.7" width="0.35" fill="#2b748e"/>
<rect x="247.3" width="0.35" fill="#2b748e"/>
<rect x="247.9" width="0.64" fill="#d8e219"/>
<rect x="248.5" width="0.64" fill="#eae51a"/>
<rect x="249.2" width="0.35" fill="#404688"/>
<rect x="249.8" width="0.64" fill="#d5e21a"/>
<rect x="250.5" width="0.35" fill="#38598c"/>
<rect x="251.0" width="0.64" fill="#cae11f"/>
<rect x="251.7" width="0.64" fill="#90d743"/>
<rect x="252.4" width="0.35" fill="#25838e"/>
<rect x="253.1" width="0.35" fill="#2b758e"/>
<rect x="253.7" width="0.35" fill="#218f8d"/>
<rect x="254.2" width="0.64" fill="#bade28"/>
<rect x="254.9" width="0.64" fill="#efe51c"/>
<rect x="255.5" width="0.64" fill="#dde318"/>
<rect x="256.1" width="0.64" fill="#b8de29"/>
<rect x="256.8" width="0.64" fill="#e5e419"/>
<rect x="257.5" width="0.35" fill="#218f8d"/>
<rect x="258.1" width="0.35" fill="#31688e"/>
<rect x="258.8" width="0.35" fill="#30698e"/>
<rect x="259.4" width="0.35" fill="#31668e"/>
<rect x="259.9" width="0.64" fill="#c8e020"/>
<rect x="260.6" width="0.64" fill="#addc30"/>
<rect x="261.2" width="0.64" fill="#aadc32"/>
<rect x="262.0" width="0.35" fill="#277f8e"/>
<rect x="262.5" width="0.64" fill="#73d056"/>
<rect x="263.1" width="0.64" fill="#d5e21a"/>
<rect x="263.8" width="0.64" fill="#efe51c"/>
</g>
<g transform="translate(0,160.90)">
<rect x="193.40" width="35.40" fill="#f6e620"/>
<rect x="228.80" width="35.60" fill="#3e4989"/>
<rect x="230.1" width="0.64" fill="#38598c"/>
<rect x="233.2" width="0.64" fill="#3a538b"/>
<rect x="238.3" width="0.64" fill="#32648e"/>
<rect x="239.6" width="0.64" fill="#34608d"/>
<rect x="244.1" width="0.64" fill="#34608d"/>
<rect x="245.3" width="0.64" fill="#355e8d"/>
<rect x="247.9" width="0.64" fill="#3d4d8a"/>
<rect x="249.1" width="0.64" fill="#39568c"/>
<rect x="251.0" width="0.64" fill="#355e8d"/>
<rect x="254.9" width="0.64" fill="#3c508b"/>
<rect x="255.5" width="0.64" fill="#404588"/>
<rect x="258.0" width="0.64" fill="#3e4989"/>
<rect x="261.2" width="0.64" fill="#32648e"/>
<rect x="261.9" width="0.64" fill="#38598c"/>
<rect x="263.8" width="0.64" fill="#375a8c"/>
</g>
<g transform="translate(0,167.36)">
<rect x="193.40" width="35.40" fill="#f6e620"/>
<rect x="228.80" width="35.60" fill="#414487"/>
<rect x="229.4" width="0.64" fill="#3e4989"/>
<rect x="231.3" width="0.64" fill="#3b528b"/>
<rect x="232.6" width="0.64" fill="#414287"/>
<rect x="234.5" width="0.64" fill="#424186"/>
<rect x="237.1" width="0.64" fill="#355f8d"/>
<rect x="240.9" width="0.64" fill="#3a538b"/>
<rect x="246.6" width="0.64" fill="#3b518b"/>
<rect x="247.2" width="0.64" fill="#375b8d"/>
<rect x="247.9" width="0.64" fill="#375b8d"/>
<rect x="253.0" width="0.64" fill="#3e4c8a"/>
<rect x="253.6" width="0.64" fill="#3d4d8a"/>
<rect x="254.9" width="0.64" fill="#39558c"/>
<rect x="256.1" width="0.64" fill="#3e4c8a"/>
<rect x="256.8" width="0.64" fill="#365c8d"/>
<rect x="257.4" width="0.64" fill="#3d4d8a"/>
<rect x="261.2" width="0.64" fill="#365c8d"/>
<rect x="261.9" width="0.64" fill="#3e4a89"/>
</g>
<g transform="translate(0,173.82)">
<rect x="193.40" width="35.40" fill="#f6e620"/>
<rect x="195.3" width="0.63" fill="#9bd93c"/>
<rect x="204.8" width="0.63" fill="#bddf26"/>
<rect x="210.5" width="0.63" fill="#7ad151"/>
<rect x="211.1" width="0.63" fill="#5ec962"/>
<rect x="214.9" width="0.63" fill="#5ec962"/>
<rect x="217.4" width="0.63" fill="#5ec962"/>
<rect x="220.6" width="0.63" fill="#7ad151"/>
<rect x="221.2" width="0.63" fill="#9bd93c"/>
<rect x="221.8" width="0.63" fill="#7ad151"/>
<rect x="223.1" width="0.63" fill="#5ec962"/>
<rect x="224.4" width="0.63" fill="#bddf26"/>
<rect x="226.9" width="0.63" fill="#7ad151"/>
<rect x="228.80" width="35.60" fill="#481769"/>
<rect x="228.8" width="0.64" fill="#46327e"/>
<rect x="229.4" width="0.64" fill="#453781"/>
<rect x="233.9" width="0.64" fill="#481668"/>
<rect x="236.4" width="0.64" fill="#482576"/>
<rect x="237.1" width="0.64" fill="#481467"/>
<rect x="240.2" width="0.64" fill="#482173"/>
<rect x="240.9" width="0.64" fill="#481b6d"/>
<rect x="241.5" width="0.64" fill="#463480"/>
<rect x="247.9" width="0.64" fill="#472d7b"/>
<rect x="248.5" width="0.64" fill="#481f70"/>
<rect x="252.3" width="0.64" fill="#46307e"/>
<rect x="253.0" width="0.64" fill="#482576"/>
<rect x="254.9" width="0.64" fill="#481467"/>
<rect x="257.4" width="0.64" fill="#472e7c"/>
<rect x="258.7" width="0.64" fill="#482071"/>
<rect x="259.9" width="0.64" fill="#482878"/>
</g>
<g transform="translate(0,180.28)">
<rect x="193.40" width="35.40" fill="#f6e620"/>
<rect x="193.4" width="0.63" fill="#22a884"/>
<rect x="194.0" width="0.63" fill="#9bd93c"/>
<rect x="194.7" width="0.63" fill="#22a884"/>
<rect x="195.3" width="0.63" fill="#9bd93c"/>
<rect x="195.9" width="0.63" fill="#7ad151"/>
<rect x="196.6" width="0.63" fill="#21918c"/>
<rect x="197.8" width="0.63" fill="#9bd93c"/>
<rect x="198.5" width="0.63" fill="#bddf26"/>
<rect x="199.1" width="0.63" fill="#21918c"/>
<rect x="201.0" width="0.63" fill="#22a884"/>
<rect x="201.6" width="0.63" fill="#5ec962"/>
<rect x="203.5" width="0.63" fill="#21918c"/>
<rect x="204.1" width="0.63" fill="#7ad151"/>
<rect x="204.8" width="0.63" fill="#5ec962"/>
<rect x="206.7" width="0.63" fill="#bddf26"/>
<rect x="207.9" width="0.63" fill="#9bd93c"/>
<rect x="209.2" width="0.63" fill="#22a884"/>
<rect x="211.7" width="0.63" fill="#9bd93c"/>
<rect x="212.4" width="0.63" fill="#5ec962"/>
<rect x="213.0" width="0.63" fill="#21918c"/>
<rect x="214.9" width="0.63" fill="#bddf26"/>
<rect x="217.4" width="0.63" fill="#7ad151"/>
<rect x="219.3" width="0.63" fill="#bddf26"/>
<rect x="220.6" width="0.63" fill="#5ec962"/>
<rect x="221.2" width="0.63" fill="#22a884"/>
<rect x="221.8" width="0.63" fill="#9bd93c"/>
<rect x="222.5" width="0.63" fill="#22a884"/>
<rect x="223.1" width="0.63" fill="#9bd93c"/>
<rect x="225.0" width="0.63" fill="#bddf26"/>
<rect x="226.3" width="0.63" fill="#bddf26"/>
<rect x="227.5" width="0.63" fill="#21918c"/>
<rect x="228.2" width="0.63" fill="#bddf26"/>
<rect x="228.80" width="35.60" fill="#471063"/>
<rect x="230.7" width="0.64" fill="#472a7a"/>
<rect x="236.4" width="0.64" fill="#482576"/>
<rect x="237.7" width="0.64" fill="#481d6f"/>
<rect x="240.2" width="0.64" fill="#472e7c"/>
<rect x="241.5" width="0.64" fill="#471365"/>
<rect x="242.2" width="0.64" fill="#472e7c"/>
<rect x="242.8" width="0.64" fill="#471063"/>
<rect x="245.3" width="0.64" fill="#471063"/>
<rect x="247.9" width="0.64" fill="#46307e"/>
<rect x="249.1" width="0.64" fill="#481d6f"/>
<rect x="253.0" width="0.64" fill="#470e61"/>
<rect x="256.1" width="0.64" fill="#471063"/>
<rect x="256.8" width="0.64" fill="#46307e"/>
<rect x="258.7" width="0.64" fill="#482979"/>
<rect x="261.9" width="0.64" fill="#48186a"/>
<rect x="262.5" width="0.64" fill="#472d7b"/>
<rect x="263.8" width="0.64" fill="#482071"/>
</g>
<g transform="translate(0,186.74)">
<rect x="193.40" width="35.40" fill="#f6e620"/>
<rect x="228.80" width="35.60" fill="#482475"/>
<rect x="228.8" width="0.64" fill="#482071"/>
<rect x="229.4" width="0.64" fill="#443b84"/>
<rect x="230.7" width="0.64" fill="#472d7b"/>
<rect x="232.6" width="0.64" fill="#482173"/>
<rect x="233.9" width="0.64" fill="#443a83"/>
<rect x="241.5" width="0.64" fill="#453781"/>
<rect x="242.2" width="0.64" fill="#443983"/>
<rect x="243.4" width="0.64" fill="#46337f"/>
<rect x="246.6" width="0.64" fill="#424186"/>
<rect x="247.9" width="0.64" fill="#472c7a"/>
<rect x="249.1" width="0.64" fill="#424186"/>
<rect x="250.4" width="0.64" fill="#472e7c"/>
<rect x="251.0" width="0.64" fill="#424086"/>
<rect x="255.5" width="0.64" fill="#453882"/>
<rect x="258.0" width="0.64" fill="#482374"/>
<rect x="258.7" width="0.64" fill="#453882"/>
<rect x="259.3" width="0.64" fill="#424186"/>
<rect x="260.6" width="0.64" fill="#424086"/>
<rect x="261.2" width="0.64" fill="#482677"/>
<rect x="261.9" width="0.64" fill="#482475"/>
<rect x="263.8" width="0.64" fill="#472e7c"/>
</g>
<g transform="translate(0,193.20)">
<rect x="193.40" width="35.40" fill="#f6e620"/>
<rect x="228.80" width="35.60" fill="#481769"/>
<rect x="233.2" width="0.64" fill="#472e7c"/>
<rect x="233.9" width="0.64" fill="#463480"/>
<rect x="234.5" width="0.64" fill="#481c6e"/>
<rect x="237.1" width="0.64" fill="#481769"/>
<rect x="240.2" width="0.64" fill="#481f70"/>
<rect x="241.5" width="0.64" fill="#482071"/>
<rect x="242.2" width="0.64" fill="#481f70"/>
<rect x="242.8" width="0.64" fill="#482071"/>
<rect x="244.1" width="0.64" fill="#471164"/>
<rect x="249.1" width="0.64" fill="#48186a"/>
<rect x="250.4" width="0.64" fill="#463480"/>
<rect x="251.0" width="0.64" fill="#472c7a"/>
<rect x="254.2" width="0.64" fill="#481c6e"/>
<rect x="254.9" width="0.64" fill="#482475"/>
<rect x="256.1" width="0.64" fill="#471164"/>
<rect x="256.8" width="0.64" fill="#481467"/>
<rect x="259.3" width="0.64" fill="#482677"/>
<rect x="259.9" width="0.64" fill="#472a7a"/>
<rect x="260.6" width="0.64" fill="#471365"/>
<rect x="263.8" width="0.64" fill="#453781"/>
</g>
<g transform="translate(0,199.66)">
<rect x="193.40" width="35.40" fill="#f6e620"/>
<rect x="223.1" width="0.63" fill="#5ec962"/>
<rect x="228.80" width="35.60" fill="#460b5e"/>
<rect x="232.0" width="0.64" fill="#460b5e"/>
<rect x="235.8" width="0.64" fill="#450559"/>
<rect x="238.3" width="0.64" fill="#481769"/>
<rect x="240.2" width="0.64" fill="#450559"/>
<rect x="241.5" width="0.64" fill="#472d7b"/>
<rect x="244.7" width="0.64" fill="#482475"/>
<rect x="245.3" width="0.64" fill="#460a5d"/>
<rect x="248.5" width="0.64" fill="#472c7a"/>
<rect x="259.9" width="0.64" fill="#481a6c"/>
<rect x="260.6" width="0.64" fill="#482475"/>
</g>
<g transform="translate(0,206.12)">
<rect x="193.40" width="35.40" fill="#f6e620"/>
<rect x="228.80" width="35.60" fill="#450457"/>
<rect x="230.7" width="0.64" fill="#460b5e"/>
<rect x="232.0" width="0.64" fill="#440256"/>
<rect x="232.6" width="0.64" fill="#481467"/>
<rect x="233.2" width="0.64" fill="#460a5d"/>
<rect x="233.9" width="0.64" fill="#481769"/>
<rect x="235.2" width="0.64" fill="#450559"/>
<rect x="236.4" width="0.64" fill="#470d60"/>
<rect x="237.1" width="0.64" fill="#440154"/>
<rect x="238.3" width="0.64" fill="#460b5e"/>
<rect x="242.8" width="0.64" fill="#481a6c"/>
<rect x="243.4" width="0.64" fill="#46085c"/>
<rect x="244.7" width="0.64" fill="#460a5d"/>
<rect x="246.0" width="0.64" fill="#471365"/>
<rect x="247.2" width="0.64" fill="#482071"/>
<rect x="253.6" width="0.64" fill="#46085c"/>
<rect x="254.2" width="0.64" fill="#470e61"/>
<rect x="254.9" width="0.64" fill="#48186a"/>
<rect x="256.1" width="0.64" fill="#481c6e"/>
<rect x="261.2" width="0.64" fill="#46085c"/>
<rect x="263.1" width="0.64" fill="#481c6e"/>
<rect x="263.8" width="0.64" fill="#482374"/>
</g>
<g transform="translate(0,212.58)">
<rect x="193.40" width="35.40" fill="#f6e620"/>
<rect x="228.80" width="35.60" fill="#450457"/>
<rect x="230.1" width="0.64" fill="#48186a"/>
<rect x="230.7" width="0.64" fill="#450457"/>
<rect x="233.2" width="0.64" fill="#46085c"/>
<rect x="234.5" width="0.64" fill="#460b5e"/>
<rect x="235.2" width="0.64" fill="#440154"/>
<rect x="238.3" width="0.64" fill="#440154"/>
<rect x="239.0" width="0.64" fill="#482677"/>
<rect x="239.6" width="0.64" fill="#440154"/>
<rect x="240.9" width="0.64" fill="#481d6f"/>
<rect x="242.2" width="0.64" fill="#482576"/>
<rect x="246.0" width="0.64" fill="#482173"/>
<rect x="247.9" width="0.64" fill="#482475"/>
<rect x="249.8" width="0.64" fill="#471063"/>
<rect x="256.1" width="0.64" fill="#440154"/>
<rect x="256.8" width="0.64" fill="#482677"/>
<rect x="258.0" width="0.64" fill="#482677"/>
<rect x="260.6" width="0.64" fill="#481f70"/>
<rect x="261.2" width="0.64" fill="#440154"/>
<rect x="261.9" width="0.64" fill="#482677"/>
<rect x="263.1" width="0.64" fill="#46085c"/>
</g>
<g transform="translate(0,219.04)" class="l">
<rect x="193.40" width="35.40" fill="#f6e620"/>
<rect x="228.80" width="35.60" fill="#46085c"/>
<rect x="229.4" width="0.64" fill="#481668"/>
<rect x="233.2" width="0.64" fill="#482475"/>
<rect x="233.9" width="0.64" fill="#482576"/>
<rect x="235.2" width="0.64" fill="#481a6c"/>
<rect x="235.8" width="0.64" fill="#481a6c"/>
<rect x="239.6" width="0.64" fill="#460b5e"/>
<rect x="244.1" width="0.64" fill="#482475"/>
<rect x="247.2" width="0.64" fill="#440256"/>
<rect x="247.9" width="0.64" fill="#470d60"/>
<rect x="248.5" width="0.64" fill="#481d6f"/>
<rect x="249.1" width="0.64" fill="#481467"/>
<rect x="249.8" width="0.64" fill="#440154"/>
<rect x="251.7" width="0.64" fill="#482071"/>
<rect x="257.4" width="0.64" fill="#460a5d"/>
<rect x="258.0" width="0.64" fill="#481b6d"/>
<rect x="260.6" width="0.64" fill="#470e61"/>
<rect x="261.9" width="0.64" fill="#481b6d"/>
</g>
</g>
<text x="191.8" y="101.9" font-size="6.80" text-anchor="end" fill="#151515" style="font-style:italic">PCDH7</text>
<text x="191.8" y="108.4" font-size="6.80" text-anchor="end" fill="#151515" style="font-style:italic">DKK1</text>
<text x="191.8" y="114.8" font-size="6.80" text-anchor="end" fill="#151515" style="font-style:italic">GALNT13</text>
<text x="191.8" y="121.3" font-size="6.80" text-anchor="end" fill="#151515" style="font-style:italic">ITM2B</text>
<text x="191.8" y="127.8" font-size="6.80" text-anchor="end" fill="#151515" style="font-style:italic">CACNA2D3</text>
<text x="191.8" y="134.2" font-size="6.80" text-anchor="end" fill="#151515" style="font-style:italic">DACH1</text>
<text x="191.8" y="140.7" font-size="6.80" text-anchor="end" fill="#151515" style="font-style:italic">RABGAP1L</text>
<text x="191.8" y="147.2" font-size="6.80" text-anchor="end" fill="#151515" style="font-style:italic">LINC01060</text>
<text x="191.8" y="153.6" font-size="6.80" text-anchor="end" fill="#151515" style="font-style:italic">VIM</text>
<text x="191.8" y="160.1" font-size="6.80" text-anchor="end" fill="#151515" style="font-style:italic">GRIK2</text>
<text x="191.8" y="166.5" font-size="6.80" text-anchor="end" fill="#151515" style="font-style:italic">APOC1</text>
<text x="191.8" y="173.0" font-size="6.80" text-anchor="end" fill="#151515" style="font-style:italic">APOC2</text>
<text x="191.8" y="179.5" font-size="6.80" text-anchor="end" fill="#151515" style="font-style:italic">A2M</text>
<text x="191.8" y="185.9" font-size="6.80" text-anchor="end" fill="#151515" style="font-style:italic">FTL</text>
<text x="191.8" y="192.4" font-size="6.80" text-anchor="end" fill="#151515" style="font-style:italic">APOB</text>
<text x="191.8" y="198.8" font-size="6.80" text-anchor="end" fill="#151515" style="font-style:italic">ALB</text>
<text x="191.8" y="205.3" font-size="6.80" text-anchor="end" fill="#151515" style="font-style:italic">FABP1</text>
<text x="191.8" y="211.8" font-size="6.80" text-anchor="end" fill="#151515" style="font-style:italic">APOA1</text>
<text x="191.8" y="218.2" font-size="6.80" text-anchor="end" fill="#151515" style="font-style:italic">SERPINA1</text>
<text x="191.8" y="224.7" font-size="6.80" text-anchor="end" fill="#151515" style="font-style:italic">APOA2</text>
<text x="228.7" y="89.3" font-size="9.50" text-anchor="middle" fill="#151515">PC 1</text>
<defs><linearGradient id="vg" x1="0" y1="1" x2="0" y2="0"><stop offset="0.00" stop-color="#440154"/><stop offset="0.10" stop-color="#482475"/><stop offset="0.20" stop-color="#414487"/><stop offset="0.30" stop-color="#355f8d"/><stop offset="0.40" stop-color="#2a788e"/><stop offset="0.50" stop-color="#21918c"/><stop offset="0.60" stop-color="#22a884"/><stop offset="0.70" stop-color="#44bf70"/><stop offset="0.80" stop-color="#7ad151"/><stop offset="0.90" stop-color="#bddf26"/><stop offset="1.00" stop-color="#fde725"/></linearGradient>
<linearGradient id="vgh" x1="0" y1="0" x2="1" y2="0"><stop offset="0.00" stop-color="#440154"/><stop offset="0.10" stop-color="#482475"/><stop offset="0.20" stop-color="#414487"/><stop offset="0.30" stop-color="#355f8d"/><stop offset="0.40" stop-color="#2a788e"/><stop offset="0.50" stop-color="#21918c"/><stop offset="0.60" stop-color="#22a884"/><stop offset="0.70" stop-color="#44bf70"/><stop offset="0.80" stop-color="#7ad151"/><stop offset="0.90" stop-color="#bddf26"/><stop offset="1.00" stop-color="#fde725"/></linearGradient></defs>
<rect x="276.4" y="131.6" width="12.6" height="62.1" fill="url(#vg)"/>
<text x="266.9" y="128.4" font-size="6.80" text-anchor="start" fill="#151515">Expression</text>
<line x1="276.40" y1="138.40" x2="278.60" y2="138.40" stroke="#fff" stroke-width="0.60"/>
<line x1="286.80" y1="138.40" x2="289.00" y2="138.40" stroke="#fff" stroke-width="0.60"/>
<text x="291.6" y="140.8" font-size="7.00" text-anchor="start" fill="#151515">2</text>
<line x1="276.40" y1="150.75" x2="278.60" y2="150.75" stroke="#fff" stroke-width="0.60"/>
<line x1="286.80" y1="150.75" x2="289.00" y2="150.75" stroke="#fff" stroke-width="0.60"/>
<text x="291.6" y="153.2" font-size="7.00" text-anchor="start" fill="#151515">1</text>
<line x1="276.40" y1="163.10" x2="278.60" y2="163.10" stroke="#fff" stroke-width="0.60"/>
<line x1="286.80" y1="163.10" x2="289.00" y2="163.10" stroke="#fff" stroke-width="0.60"/>
<text x="291.6" y="165.5" font-size="7.00" text-anchor="start" fill="#151515">0</text>
<line x1="276.40" y1="175.45" x2="278.60" y2="175.45" stroke="#fff" stroke-width="0.60"/>
<line x1="286.80" y1="175.45" x2="289.00" y2="175.45" stroke="#fff" stroke-width="0.60"/>
<text x="291.6" y="177.8" font-size="7.00" text-anchor="start" fill="#151515">−1</text>
<line x1="276.40" y1="187.80" x2="278.60" y2="187.80" stroke="#fff" stroke-width="0.60"/>
<line x1="286.80" y1="187.80" x2="289.00" y2="187.80" stroke="#fff" stroke-width="0.60"/>
<text x="291.6" y="190.2" font-size="7.00" text-anchor="start" fill="#151515">−2</text>
<text x="295.8" y="72.2" font-size="8.50" text-anchor="start" fill="#111" style="font-weight:bold">d</text>
<text x="333.6" y="80.9" font-size="9.50" text-anchor="start" fill="#151515">Significantly enriched gene sets</text>
<rect x="407.30" y="91.40" width="38.99" height="7.01" fill="#e6a02a" stroke="#3a3a3a" stroke-width="0.7"/>
<line x1="402.20" y1="94.95" x2="404.70" y2="94.95" stroke="#222" stroke-width="0.90"/>
<text x="400.2" y="97.9" font-size="8.20" text-anchor="end" fill="#151515">WNT signaling</text>
<rect x="407.30" y="99.31" width="37.25" height="7.01" fill="#e6a02a" stroke="#3a3a3a" stroke-width="0.7"/>
<line x1="402.20" y1="102.86" x2="404.70" y2="102.86" stroke="#222" stroke-width="0.90"/>
<text x="400.2" y="105.8" font-size="8.20" text-anchor="end" fill="#151515">EMT</text>
<rect x="407.30" y="107.22" width="41.30" height="7.01" fill="#009e73" stroke="#3a3a3a" stroke-width="0.7"/>
<line x1="402.20" y1="110.77" x2="404.70" y2="110.77" stroke="#222" stroke-width="0.90"/>
<text x="400.2" y="113.7" font-size="8.20" text-anchor="end" fill="#151515">Estrogen response late</text>
<rect x="407.30" y="115.13" width="39.95" height="7.01" fill="#009e73" stroke="#3a3a3a" stroke-width="0.7"/>
<line x1="402.20" y1="118.69" x2="404.70" y2="118.69" stroke="#222" stroke-width="0.90"/>
<text x="400.2" y="121.6" font-size="8.20" text-anchor="end" fill="#151515">Estrogen response early</text>
<rect x="407.30" y="123.04" width="38.60" height="7.01" fill="#009e73" stroke="#3a3a3a" stroke-width="0.7"/>
<line x1="402.20" y1="126.59" x2="404.70" y2="126.59" stroke="#222" stroke-width="0.90"/>
<text x="400.2" y="129.5" font-size="8.20" text-anchor="end" fill="#151515">mTORC1 signaling</text>
<rect x="407.30" y="130.95" width="37.44" height="7.01" fill="#009e73" stroke="#3a3a3a" stroke-width="0.7"/>
<line x1="402.20" y1="134.51" x2="404.70" y2="134.51" stroke="#222" stroke-width="0.90"/>
<text x="400.2" y="137.4" font-size="8.20" text-anchor="end" fill="#151515">Hypoxia</text>
<rect x="407.30" y="138.86" width="35.51" height="7.01" fill="#009e73" stroke="#3a3a3a" stroke-width="0.7"/>
<line x1="402.20" y1="142.42" x2="404.70" y2="142.42" stroke="#222" stroke-width="0.90"/>
<text x="400.2" y="145.3" font-size="8.20" text-anchor="end" fill="#151515">TNFα signaling via NFκB</text>
<rect x="407.30" y="146.77" width="35.32" height="7.01" fill="#009e73" stroke="#3a3a3a" stroke-width="0.7"/>
<line x1="402.20" y1="150.33" x2="404.70" y2="150.33" stroke="#222" stroke-width="0.90"/>
<text x="400.2" y="153.2" font-size="8.20" text-anchor="end" fill="#151515">Myogenesis</text>
<rect x="407.30" y="154.68" width="58.48" height="7.01" fill="#56b4e9" stroke="#3a3a3a" stroke-width="0.7"/>
<line x1="402.20" y1="158.24" x2="404.70" y2="158.24" stroke="#222" stroke-width="0.90"/>
<text x="400.2" y="161.1" font-size="8.20" text-anchor="end" fill="#151515">Coagulation</text>
<rect x="407.30" y="162.59" width="52.11" height="7.01" fill="#56b4e9" stroke="#3a3a3a" stroke-width="0.7"/>
<line x1="402.20" y1="166.15" x2="404.70" y2="166.15" stroke="#222" stroke-width="0.90"/>
<text x="400.2" y="169.0" font-size="8.20" text-anchor="end" fill="#151515">Xenobiotic metabolism</text>
<rect x="407.30" y="170.50" width="41.30" height="7.01" fill="#56b4e9" stroke="#3a3a3a" stroke-width="0.7"/>
<line x1="402.20" y1="174.06" x2="404.70" y2="174.06" stroke="#222" stroke-width="0.90"/>
<text x="400.2" y="177.0" font-size="8.20" text-anchor="end" fill="#151515">Complement</text>
<rect x="407.30" y="178.41" width="39.18" height="7.01" fill="#56b4e9" stroke="#3a3a3a" stroke-width="0.7"/>
<line x1="402.20" y1="181.97" x2="404.70" y2="181.97" stroke="#222" stroke-width="0.90"/>
<text x="400.2" y="184.9" font-size="8.20" text-anchor="end" fill="#151515">Bile acid metabolism</text>
<rect x="407.30" y="186.32" width="37.44" height="7.01" fill="#56b4e9" stroke="#3a3a3a" stroke-width="0.7"/>
<line x1="402.20" y1="189.88" x2="404.70" y2="189.88" stroke="#222" stroke-width="0.90"/>
<text x="400.2" y="192.8" font-size="8.20" text-anchor="end" fill="#151515">MYC targets V2</text>
<rect x="407.30" y="194.23" width="36.09" height="7.01" fill="#56b4e9" stroke="#3a3a3a" stroke-width="0.7"/>
<line x1="402.20" y1="197.78" x2="404.70" y2="197.78" stroke="#222" stroke-width="0.90"/>
<text x="400.2" y="200.7" font-size="8.20" text-anchor="end" fill="#151515">Adipogenesis</text>
<rect x="407.30" y="202.14" width="35.13" height="7.01" fill="#56b4e9" stroke="#3a3a3a" stroke-width="0.7"/>
<line x1="402.20" y1="205.70" x2="404.70" y2="205.70" stroke="#222" stroke-width="0.90"/>
<text x="400.2" y="208.6" font-size="8.20" text-anchor="end" fill="#151515">KRAS signaling up</text>
<line x1="404.70" y1="89.80" x2="404.70" y2="209.90" stroke="#111" stroke-width="1.30"/>
<line x1="404.10" y1="209.50" x2="467.20" y2="209.50" stroke="#111" stroke-width="1.30"/>
<line x1="407.30" y1="209.50" x2="407.30" y2="212.00" stroke="#222" stroke-width="0.90"/>
<text x="407.3" y="219.2" font-size="7.00" text-anchor="middle" fill="#151515">0</text>
<line x1="426.60" y1="209.50" x2="426.60" y2="212.00" stroke="#222" stroke-width="0.90"/>
<text x="426.6" y="219.2" font-size="7.00" text-anchor="middle" fill="#151515">1</text>
<line x1="445.90" y1="209.50" x2="445.90" y2="212.00" stroke="#222" stroke-width="0.90"/>
<text x="445.9" y="219.2" font-size="7.00" text-anchor="middle" fill="#151515">2</text>
<line x1="465.20" y1="209.50" x2="465.20" y2="212.00" stroke="#222" stroke-width="0.90"/>
<text x="465.2" y="219.2" font-size="7.00" text-anchor="middle" fill="#151515">3</text>
<text x="436.5" y="227.9" font-size="9.50" text-anchor="middle" fill="#151515">NES</text>
<path d="M470.3 92.3 H474.5 V104.4 H470.3" fill="none" stroke="#333" stroke-width="0.9"/>
<path d="M470.3 108.0 H474.5 V151.7 H470.3" fill="none" stroke="#333" stroke-width="0.9"/>
<path d="M470.3 155.8 H474.5 V207.4 H470.3" fill="none" stroke="#333" stroke-width="0.9"/>
<text x="478.6" y="100.8" font-size="9.00" text-anchor="start" fill="#151515">E</text>
<text x="478.6" y="130.6" font-size="9.00" text-anchor="start" fill="#151515">F<tspan font-size="5.50" dy="2.6">1</tspan></text>
<text x="478.6" y="181.5" font-size="9.00" text-anchor="start" fill="#151515">F<tspan font-size="5.50" dy="2.6">2</tspan></text>
<text x="495.0" y="72.2" font-size="8.50" text-anchor="start" fill="#111" style="font-weight:bold">e</text>
<text x="536.4" y="80.2" font-size="9.50" text-anchor="start" fill="#151515">Tissue signatures in organoids</text>
<text x="562.5" y="101.0" font-size="9.50" text-anchor="middle" fill="#151515">Embryonal</text>
<text x="650.5" y="100.7" font-size="9.50" text-anchor="middle" fill="#151515">Fetal</text>
<g stroke="#111" stroke-width="0.5">
<circle cx="570.9" cy="136.4" r="1.55" fill="#287d8e"/>
<circle cx="536.4" cy="146.6" r="1.55" fill="#b0dd2f"/>
<circle cx="574.9" cy="115.5" r="1.55" fill="#2b748e"/>
<circle cx="564.6" cy="132.7" r="1.55" fill="#218e8d"/>
<circle cx="574.1" cy="148.5" r="1.55" fill="#2c718e"/>
<circle cx="568.3" cy="154.6" r="1.55" fill="#24868e"/>
<circle cx="546.8" cy="141.8" r="1.55" fill="#f8e621"/>
<circle cx="560.6" cy="142.7" r="1.55" fill="#20928c"/>
<circle cx="579.2" cy="154.7" r="1.55" fill="#365d8d"/>
<circle cx="579.9" cy="147.2" r="1.55" fill="#2c718e"/>
<circle cx="567.0" cy="138.6" r="1.55" fill="#218e8d"/>
<circle cx="555.3" cy="143.1" r="1.55" fill="#f1e51d"/>
<circle cx="571.9" cy="140.8" r="1.55" fill="#29798e"/>
<circle cx="564.0" cy="132.8" r="1.55" fill="#23888e"/>
<circle cx="573.1" cy="154.3" r="1.55" fill="#2b758e"/>
<circle cx="553.4" cy="142.1" r="1.55" fill="#9bd93c"/>
<circle cx="586.9" cy="173.5" r="1.55" fill="#443b84"/>
<circle cx="550.2" cy="142.8" r="1.55" fill="#e7e419"/>
<circle cx="579.5" cy="122.0" r="1.55" fill="#31688e"/>
<circle cx="574.6" cy="115.3" r="1.55" fill="#2a778e"/>
<circle cx="527.0" cy="147.1" r="1.55" fill="#4cc26c"/>
<circle cx="581.5" cy="151.4" r="1.55" fill="#32658e"/>
<circle cx="575.8" cy="130.7" r="1.55" fill="#2f6b8e"/>
<circle cx="567.0" cy="147.9" r="1.55" fill="#20928c"/>
<circle cx="550.9" cy="138.9" r="1.55" fill="#efe51c"/>
<circle cx="582.3" cy="164.5" r="1.55" fill="#3e4989"/>
<circle cx="550.3" cy="138.5" r="1.55" fill="#f4e61e"/>
<circle cx="569.9" cy="156.9" r="1.55" fill="#26828e"/>
<circle cx="559.8" cy="146.1" r="1.55" fill="#1fa187"/>
<circle cx="568.1" cy="153.5" r="1.55" fill="#20928c"/>
<circle cx="587.1" cy="169.9" r="1.55" fill="#414287"/>
<circle cx="564.7" cy="150.8" r="1.55" fill="#228c8d"/>
<circle cx="580.9" cy="117.1" r="1.55" fill="#2f6c8e"/>
<circle cx="567.9" cy="142.0" r="1.55" fill="#218f8d"/>
<circle cx="579.6" cy="150.5" r="1.55" fill="#2e6e8e"/>
<circle cx="578.4" cy="155.2" r="1.55" fill="#33628d"/>
<circle cx="572.3" cy="128.4" r="1.55" fill="#297b8e"/>
<circle cx="546.6" cy="143.5" r="1.55" fill="#d0e11c"/>
<circle cx="570.4" cy="140.8" r="1.55" fill="#287c8e"/>
<circle cx="567.8" cy="146.6" r="1.55" fill="#25848e"/>
<circle cx="566.8" cy="122.7" r="1.55" fill="#25838e"/>
<circle cx="550.9" cy="144.9" r="1.55" fill="#fbe723"/>
<circle cx="584.1" cy="118.7" r="1.55" fill="#355f8d"/>
<circle cx="564.6" cy="146.8" r="1.55" fill="#228d8d"/>
<circle cx="578.9" cy="126.7" r="1.55" fill="#306a8e"/>
<circle cx="582.6" cy="149.1" r="1.55" fill="#2c728e"/>
<circle cx="581.4" cy="129.4" r="1.55" fill="#31688e"/>
<circle cx="541.4" cy="142.2" r="1.55" fill="#dfe318"/>
<circle cx="567.0" cy="130.6" r="1.55" fill="#238a8d"/>
<circle cx="585.6" cy="157.3" r="1.55" fill="#365d8d"/>
<circle cx="568.4" cy="156.5" r="1.55" fill="#25858e"/>
<circle cx="561.4" cy="144.2" r="1.55" fill="#58c765"/>
<circle cx="573.9" cy="148.5" r="1.55" fill="#2c738e"/>
<circle cx="535.9" cy="143.7" r="1.55" fill="#95d840"/>
<circle cx="532.1" cy="145.0" r="1.55" fill="#eae51a"/>
<circle cx="575.1" cy="121.4" r="1.55" fill="#31688e"/>
<circle cx="566.4" cy="132.6" r="1.55" fill="#25848e"/>
<circle cx="584.5" cy="133.8" r="1.55" fill="#375a8c"/>
<circle cx="547.9" cy="141.1" r="1.55" fill="#8bd646"/>
<circle cx="563.8" cy="130.0" r="1.55" fill="#20928c"/>
<circle cx="524.7" cy="148.4" r="1.55" fill="#73d056"/>
<circle cx="589.9" cy="169.9" r="1.55" fill="#424086"/>
<circle cx="559.1" cy="135.2" r="1.55" fill="#20928c"/>
<circle cx="577.4" cy="143.4" r="1.55" fill="#2a768e"/>
<circle cx="536.4" cy="145.1" r="1.55" fill="#73d056"/>
<circle cx="555.5" cy="138.6" r="1.55" fill="#cae11f"/>
<circle cx="585.1" cy="115.1" r="1.55" fill="#365c8d"/>
<circle cx="581.1" cy="159.2" r="1.55" fill="#39558c"/>
<circle cx="571.4" cy="121.6" r="1.55" fill="#29798e"/>
<circle cx="530.9" cy="146.5" r="1.55" fill="#67cc5c"/>
<circle cx="536.9" cy="145.1" r="1.55" fill="#e5e419"/>
<circle cx="544.2" cy="142.0" r="1.55" fill="#8ed645"/>
<circle cx="578.0" cy="149.8" r="1.55" fill="#2b758e"/>
<circle cx="558.4" cy="136.6" r="1.55" fill="#77d153"/>
<circle cx="569.8" cy="142.5" r="1.55" fill="#25838e"/>
<circle cx="538.4" cy="146.4" r="1.55" fill="#f8e621"/>
<circle cx="540.1" cy="142.2" r="1.55" fill="#eae51a"/>
<circle cx="568.3" cy="149.7" r="1.55" fill="#27808e"/>
<circle cx="592.4" cy="174.9" r="1.55" fill="#482173"/>
<circle cx="562.7" cy="146.2" r="1.55" fill="#1e9b8a"/>
<circle cx="560.7" cy="141.4" r="1.55" fill="#60ca60"/>
<circle cx="581.4" cy="139.3" r="1.55" fill="#31688e"/>
<circle cx="539.8" cy="143.5" r="1.55" fill="#60ca60"/>
<circle cx="583.6" cy="158.7" r="1.55" fill="#3a538b"/>
<circle cx="555.0" cy="141.9" r="1.55" fill="#d8e219"/>
<circle cx="535.2" cy="145.2" r="1.55" fill="#dae319"/>
<circle cx="571.4" cy="147.0" r="1.55" fill="#24878e"/>
<circle cx="562.6" cy="138.2" r="1.55" fill="#20938c"/>
<circle cx="535.0" cy="143.9" r="1.55" fill="#e5e419"/>
<circle cx="579.8" cy="146.1" r="1.55" fill="#33638d"/>
<circle cx="578.3" cy="127.4" r="1.55" fill="#32658e"/>
<circle cx="550.0" cy="141.9" r="1.55" fill="#63cb5f"/>
<circle cx="574.0" cy="116.0" r="1.55" fill="#306a8e"/>
<circle cx="586.3" cy="166.4" r="1.55" fill="#423f85"/>
<circle cx="581.0" cy="118.6" r="1.55" fill="#33638d"/>
<circle cx="576.6" cy="124.3" r="1.55" fill="#2c718e"/>
<circle cx="543.2" cy="144.6" r="1.55" fill="#7ad151"/>
<circle cx="591.1" cy="181.0" r="1.55" fill="#482173"/>
<circle cx="573.9" cy="123.1" r="1.55" fill="#2e6d8e"/>
<circle cx="586.1" cy="164.4" r="1.55" fill="#3d4e8a"/>
<circle cx="578.6" cy="124.1" r="1.55" fill="#33628d"/>
<circle cx="536.8" cy="148.1" r="1.55" fill="#9bd93c"/>
<circle cx="551.2" cy="143.6" r="1.55" fill="#eae51a"/>
<circle cx="575.4" cy="122.4" r="1.55" fill="#2e6d8e"/>
<circle cx="566.5" cy="128.8" r="1.55" fill="#277f8e"/>
<circle cx="539.3" cy="142.5" r="1.55" fill="#dae319"/>
<circle cx="525.0" cy="148.4" r="1.55" fill="#7ad151"/>
<circle cx="584.4" cy="165.2" r="1.55" fill="#3c508b"/>
<circle cx="563.1" cy="147.8" r="1.55" fill="#1f998a"/>
<circle cx="543.9" cy="141.8" r="1.55" fill="#75d054"/>
<circle cx="572.4" cy="148.6" r="1.55" fill="#297b8e"/>
<circle cx="536.6" cy="148.5" r="1.55" fill="#7fd34e"/>
<circle cx="559.7" cy="144.2" r="1.55" fill="#81d34d"/>
<circle cx="583.6" cy="151.6" r="1.55" fill="#33638d"/>
<circle cx="576.3" cy="144.8" r="1.55" fill="#2e6e8e"/>
<circle cx="528.8" cy="146.0" r="1.55" fill="#69cd5b"/>
<circle cx="565.7" cy="147.4" r="1.55" fill="#228c8d"/>
<circle cx="561.9" cy="152.5" r="1.55" fill="#1f9f88"/>
<circle cx="585.7" cy="172.1" r="1.55" fill="#433e85"/>
<circle cx="555.3" cy="139.0" r="1.55" fill="#6ccd5a"/>
<circle cx="582.9" cy="161.8" r="1.55" fill="#3e4c8a"/>
<circle cx="580.9" cy="149.3" r="1.55" fill="#2c728e"/>
<circle cx="562.8" cy="152.1" r="1.55" fill="#23898e"/>
<circle cx="562.1" cy="131.5" r="1.55" fill="#1f988b"/>
<circle cx="583.9" cy="128.5" r="1.55" fill="#32658e"/>
<circle cx="585.2" cy="167.9" r="1.55" fill="#433e85"/>
<circle cx="586.0" cy="118.4" r="1.55" fill="#38598c"/>
<circle cx="574.6" cy="115.7" r="1.55" fill="#306a8e"/>
<circle cx="581.2" cy="157.2" r="1.55" fill="#33628d"/>
<circle cx="585.9" cy="158.9" r="1.55" fill="#3d4d8a"/>
<circle cx="581.6" cy="117.8" r="1.55" fill="#2f6b8e"/>
<circle cx="571.7" cy="137.2" r="1.55" fill="#297b8e"/>
<circle cx="564.2" cy="128.7" r="1.55" fill="#218e8d"/>
<circle cx="531.2" cy="149.6" r="1.55" fill="#f8e621"/>
<circle cx="564.3" cy="131.6" r="1.55" fill="#20928c"/>
<circle cx="562.2" cy="137.8" r="1.55" fill="#20938c"/>
<circle cx="584.5" cy="166.1" r="1.55" fill="#404588"/>
<circle cx="555.1" cy="142.0" r="1.55" fill="#f1e51d"/>
<circle cx="551.9" cy="144.1" r="1.55" fill="#fbe723"/>
<circle cx="581.7" cy="150.5" r="1.55" fill="#2f6c8e"/>
<circle cx="533.4" cy="147.0" r="1.55" fill="#d2e21b"/>
<circle cx="572.8" cy="150.1" r="1.55" fill="#287d8e"/>
<circle cx="559.1" cy="135.6" r="1.55" fill="#77d153"/>
<circle cx="562.0" cy="120.8" r="1.55" fill="#4ec36b"/>
<circle cx="567.8" cy="143.8" r="1.55" fill="#26828e"/>
<circle cx="581.3" cy="167.0" r="1.55" fill="#3e4a89"/>
<circle cx="566.1" cy="135.3" r="1.55" fill="#23888e"/>
<circle cx="578.8" cy="147.4" r="1.55" fill="#2e6d8e"/>
<circle cx="531.5" cy="146.9" r="1.55" fill="#81d34d"/>
<circle cx="581.0" cy="114.1" r="1.55" fill="#34608d"/>
<circle cx="545.5" cy="145.9" r="1.55" fill="#5cc863"/>
<circle cx="573.0" cy="137.1" r="1.55" fill="#2a788e"/>
<circle cx="553.8" cy="144.3" r="1.55" fill="#d2e21b"/>
<circle cx="591.3" cy="179.3" r="1.55" fill="#472a7a"/>
<circle cx="577.0" cy="114.6" r="1.55" fill="#32648e"/>
<circle cx="585.6" cy="157.1" r="1.55" fill="#3b528b"/>
<circle cx="555.3" cy="140.3" r="1.55" fill="#9dd93b"/>
<circle cx="578.2" cy="132.3" r="1.55" fill="#31678e"/>
<circle cx="530.0" cy="149.3" r="1.55" fill="#93d741"/>
<circle cx="574.8" cy="133.2" r="1.55" fill="#2d708e"/>
<circle cx="526.3" cy="148.4" r="1.55" fill="#58c765"/>
<circle cx="580.3" cy="133.1" r="1.55" fill="#306a8e"/>
<circle cx="579.3" cy="162.4" r="1.55" fill="#3c508b"/>
<circle cx="581.2" cy="166.9" r="1.55" fill="#3b528b"/>
<circle cx="554.4" cy="143.3" r="1.55" fill="#ece51b"/>
<circle cx="568.8" cy="145.7" r="1.55" fill="#23888e"/>
<circle cx="576.9" cy="146.7" r="1.55" fill="#2b748e"/>
<circle cx="563.6" cy="138.4" r="1.55" fill="#20928c"/>
<circle cx="574.3" cy="138.5" r="1.55" fill="#2c738e"/>
<circle cx="546.9" cy="146.9" r="1.55" fill="#7cd250"/>
<circle cx="544.0" cy="141.9" r="1.55" fill="#e5e419"/>
<circle cx="585.7" cy="119.1" r="1.55" fill="#38588c"/>
<circle cx="553.6" cy="143.1" r="1.55" fill="#f6e620"/>
<circle cx="569.6" cy="131.2" r="1.55" fill="#23888e"/>
<circle cx="582.4" cy="120.5" r="1.55" fill="#32658e"/>
<circle cx="539.8" cy="146.2" r="1.55" fill="#e2e418"/>
<circle cx="548.6" cy="140.1" r="1.55" fill="#a2da37"/>
<circle cx="560.7" cy="141.1" r="1.55" fill="#86d549"/>
<circle cx="574.1" cy="139.0" r="1.55" fill="#26818e"/>
<circle cx="567.1" cy="134.5" r="1.55" fill="#26818e"/>
<circle cx="571.5" cy="141.5" r="1.55" fill="#24868e"/>
<circle cx="540.7" cy="147.1" r="1.55" fill="#98d83e"/>
<circle cx="565.1" cy="136.8" r="1.55" fill="#23898e"/>
<circle cx="584.3" cy="154.4" r="1.55" fill="#31688e"/>
<circle cx="589.4" cy="178.7" r="1.55" fill="#482677"/>
<circle cx="546.6" cy="142.8" r="1.55" fill="#9dd93b"/>
<circle cx="582.0" cy="129.9" r="1.55" fill="#355e8d"/>
<circle cx="579.9" cy="140.4" r="1.55" fill="#2d708e"/>
<circle cx="542.5" cy="145.8" r="1.55" fill="#f1e51d"/>
<circle cx="545.7" cy="146.6" r="1.55" fill="#d2e21b"/>
<circle cx="580.9" cy="138.8" r="1.55" fill="#2d708e"/>
<circle cx="582.2" cy="114.7" r="1.55" fill="#32658e"/>
<circle cx="568.3" cy="125.4" r="1.55" fill="#24878e"/>
<circle cx="545.4" cy="143.9" r="1.55" fill="#eae51a"/>
<circle cx="579.0" cy="120.0" r="1.55" fill="#2e6e8e"/>
<circle cx="561.4" cy="135.4" r="1.55" fill="#20928c"/>
<circle cx="572.7" cy="126.6" r="1.55" fill="#26818e"/>
<circle cx="560.4" cy="148.8" r="1.55" fill="#1f978b"/>
<circle cx="576.4" cy="146.4" r="1.55" fill="#2b758e"/>
<circle cx="591.1" cy="178.7" r="1.55" fill="#481467"/>
<circle cx="549.3" cy="143.7" r="1.55" fill="#d2e21b"/>
<circle cx="553.2" cy="142.2" r="1.55" fill="#84d44b"/>
<circle cx="583.5" cy="136.3" r="1.55" fill="#38598c"/>
<circle cx="568.9" cy="126.7" r="1.55" fill="#2a788e"/>
<circle cx="541.6" cy="142.6" r="1.55" fill="#d5e21a"/>
<circle cx="569.0" cy="145.5" r="1.55" fill="#26818e"/>
<circle cx="546.4" cy="142.2" r="1.55" fill="#cde11d"/>
<circle cx="585.7" cy="160.7" r="1.55" fill="#375b8d"/>
<circle cx="528.6" cy="149.4" r="1.55" fill="#cde11d"/>
<circle cx="585.0" cy="115.8" r="1.55" fill="#3c508b"/>
<circle cx="552.0" cy="140.8" r="1.55" fill="#efe51c"/>
<circle cx="569.3" cy="129.9" r="1.55" fill="#26818e"/>
<circle cx="580.7" cy="127.4" r="1.55" fill="#33628d"/>
<circle cx="556.3" cy="141.0" r="1.55" fill="#95d840"/>
<circle cx="524.6" cy="150.1" r="1.55" fill="#54c568"/>
<circle cx="572.8" cy="143.8" r="1.55" fill="#297b8e"/>
<circle cx="553.9" cy="143.3" r="1.55" fill="#eae51a"/>
<circle cx="566.6" cy="136.4" r="1.55" fill="#21908d"/>
<circle cx="586.4" cy="169.0" r="1.55" fill="#404688"/>
<circle cx="587.1" cy="175.8" r="1.55" fill="#453882"/>
<circle cx="582.1" cy="150.9" r="1.55" fill="#32648e"/>
<circle cx="587.5" cy="119.3" r="1.55" fill="#38588c"/>
<circle cx="564.9" cy="144.5" r="1.55" fill="#21918c"/>
<circle cx="547.5" cy="146.4" r="1.55" fill="#e2e418"/>
<circle cx="577.5" cy="150.3" r="1.55" fill="#297b8e"/>
<circle cx="574.9" cy="135.2" r="1.55" fill="#2b748e"/>
<circle cx="587.2" cy="127.0" r="1.55" fill="#355f8d"/>
<circle cx="546.4" cy="145.4" r="1.55" fill="#f1e51d"/>
<circle cx="572.6" cy="135.4" r="1.55" fill="#2b748e"/>
<circle cx="573.3" cy="143.3" r="1.55" fill="#2b758e"/>
<circle cx="586.2" cy="169.9" r="1.55" fill="#433e85"/>
<circle cx="562.0" cy="135.7" r="1.55" fill="#20938c"/>
<circle cx="570.0" cy="149.8" r="1.55" fill="#26828e"/>
<circle cx="584.0" cy="162.2" r="1.55" fill="#38598c"/>
<circle cx="542.8" cy="145.8" r="1.55" fill="#e2e418"/>
<circle cx="581.3" cy="127.8" r="1.55" fill="#365c8d"/>
<circle cx="582.3" cy="136.6" r="1.55" fill="#33628d"/>
<circle cx="583.4" cy="113.2" r="1.55" fill="#39558c"/>
<circle cx="573.8" cy="133.2" r="1.55" fill="#287d8e"/>
<circle cx="572.2" cy="139.7" r="1.55" fill="#2a778e"/>
<circle cx="534.7" cy="146.9" r="1.55" fill="#f1e51d"/>
<circle cx="546.6" cy="143.0" r="1.55" fill="#f8e621"/>
<circle cx="562.9" cy="147.9" r="1.55" fill="#21908d"/>
<circle cx="580.4" cy="120.6" r="1.55" fill="#32658e"/>
<circle cx="577.4" cy="155.6" r="1.55" fill="#287d8e"/>
<circle cx="582.7" cy="150.4" r="1.55" fill="#34618d"/>
<circle cx="540.4" cy="143.8" r="1.55" fill="#cde11d"/>
<circle cx="559.9" cy="138.9" r="1.55" fill="#60ca60"/>
<circle cx="584.1" cy="155.9" r="1.55" fill="#355e8d"/>
<circle cx="587.2" cy="127.5" r="1.55" fill="#34608d"/>
<circle cx="563.0" cy="149.9" r="1.55" fill="#1f998a"/>
<circle cx="560.0" cy="140.4" r="1.55" fill="#93d741"/>
<circle cx="583.0" cy="155.4" r="1.55" fill="#38598c"/>
<circle cx="575.9" cy="120.7" r="1.55" fill="#2d718e"/>
<circle cx="549.7" cy="143.5" r="1.55" fill="#5ec962"/>
<circle cx="561.0" cy="146.2" r="1.55" fill="#1f9a8a"/>
<circle cx="576.9" cy="151.6" r="1.55" fill="#2c738e"/>
<circle cx="591.8" cy="178.4" r="1.55" fill="#482071"/>
<circle cx="559.8" cy="141.3" r="1.55" fill="#7fd34e"/>
<circle cx="562.3" cy="140.5" r="1.55" fill="#218f8d"/>
<circle cx="578.6" cy="123.8" r="1.55" fill="#31678e"/>
<circle cx="570.9" cy="144.5" r="1.55" fill="#2a788e"/>
<circle cx="579.5" cy="153.6" r="1.55" fill="#2f6c8e"/>
<circle cx="559.3" cy="144.5" r="1.55" fill="#8ed645"/>
<circle cx="583.7" cy="160.1" r="1.55" fill="#3b518b"/>
<circle cx="566.3" cy="132.2" r="1.55" fill="#25838e"/>
<circle cx="574.2" cy="156.1" r="1.55" fill="#25848e"/>
<circle cx="572.6" cy="130.3" r="1.55" fill="#2c738e"/>
<circle cx="560.3" cy="145.6" r="1.55" fill="#1f978b"/>
<circle cx="579.5" cy="161.8" r="1.55" fill="#3d4d8a"/>
<circle cx="581.2" cy="145.7" r="1.55" fill="#2c718e"/>
<circle cx="576.2" cy="132.1" r="1.55" fill="#2a768e"/>
<circle cx="577.8" cy="150.6" r="1.55" fill="#2c728e"/>
<circle cx="582.4" cy="159.4" r="1.55" fill="#39558c"/>
<circle cx="550.8" cy="141.7" r="1.55" fill="#65cb5e"/>
<circle cx="558.4" cy="141.8" r="1.55" fill="#86d549"/>
<circle cx="585.2" cy="171.5" r="1.55" fill="#443983"/>
<circle cx="567.6" cy="138.2" r="1.55" fill="#26828e"/>
<circle cx="587.1" cy="161.4" r="1.55" fill="#3c508b"/>
<circle cx="580.8" cy="147.7" r="1.55" fill="#30698e"/>
<circle cx="562.0" cy="149.7" r="1.55" fill="#1e9b8a"/>
<circle cx="578.7" cy="150.1" r="1.55" fill="#2d718e"/>
<circle cx="558.5" cy="145.0" r="1.55" fill="#20938c"/>
<circle cx="581.6" cy="130.2" r="1.55" fill="#33628d"/>
<circle cx="571.4" cy="131.7" r="1.55" fill="#2b748e"/>
<circle cx="584.7" cy="172.5" r="1.55" fill="#453882"/>
<circle cx="569.9" cy="153.6" r="1.55" fill="#25838e"/>
<circle cx="580.3" cy="156.3" r="1.55" fill="#375b8d"/>
<circle cx="562.6" cy="149.6" r="1.55" fill="#1e9c89"/>
<circle cx="560.3" cy="135.6" r="1.55" fill="#1f988b"/>
<circle cx="590.9" cy="174.6" r="1.55" fill="#482979"/>
<circle cx="551.0" cy="145.8" r="1.55" fill="#ece51b"/>
<circle cx="580.8" cy="113.3" r="1.55" fill="#375b8d"/>
<circle cx="544.2" cy="145.6" r="1.55" fill="#eae51a"/>
<circle cx="572.6" cy="128.1" r="1.55" fill="#2b748e"/>
<circle cx="582.6" cy="148.0" r="1.55" fill="#2f6c8e"/>
<circle cx="584.1" cy="162.2" r="1.55" fill="#3a548c"/>
<circle cx="571.4" cy="150.8" r="1.55" fill="#26828e"/>
<circle cx="562.0" cy="142.0" r="1.55" fill="#1f9a8a"/>
<circle cx="577.7" cy="135.1" r="1.55" fill="#30698e"/>
<circle cx="537.3" cy="145.1" r="1.55" fill="#f8e621"/>
<circle cx="534.4" cy="144.6" r="1.55" fill="#5ec962"/>
<circle cx="576.9" cy="125.8" r="1.55" fill="#31668e"/>
<circle cx="577.6" cy="159.3" r="1.55" fill="#38598c"/>
<circle cx="585.0" cy="130.0" r="1.55" fill="#39558c"/>
<circle cx="569.7" cy="153.6" r="1.55" fill="#26828e"/>
<circle cx="536.7" cy="146.9" r="1.55" fill="#d8e219"/>
<circle cx="583.4" cy="157.6" r="1.55" fill="#365d8d"/>
<circle cx="577.2" cy="155.0" r="1.55" fill="#306a8e"/>
<circle cx="585.0" cy="122.5" r="1.55" fill="#39568c"/>
<circle cx="576.3" cy="127.2" r="1.55" fill="#30698e"/>
<circle cx="524.0" cy="147.4" r="1.55" fill="#7ad151"/>
<circle cx="585.8" cy="124.5" r="1.55" fill="#38598c"/>
<circle cx="550.5" cy="142.3" r="1.55" fill="#60ca60"/>
<circle cx="554.0" cy="138.9" r="1.55" fill="#e2e418"/>
<circle cx="587.7" cy="166.2" r="1.55" fill="#3d4e8a"/>
<circle cx="540.9" cy="142.7" r="1.55" fill="#d0e11c"/>
<circle cx="583.4" cy="114.9" r="1.55" fill="#33628d"/>
<circle cx="542.2" cy="144.2" r="1.55" fill="#fde725"/>
<circle cx="559.7" cy="138.8" r="1.55" fill="#98d83e"/>
<circle cx="571.8" cy="128.2" r="1.55" fill="#287d8e"/>
<circle cx="575.5" cy="154.0" r="1.55" fill="#2c718e"/>
<circle cx="538.3" cy="148.3" r="1.55" fill="#e2e418"/>
<circle cx="574.8" cy="154.7" r="1.55" fill="#32648e"/>
<circle cx="526.5" cy="146.6" r="1.55" fill="#4ac16d"/>
<circle cx="577.6" cy="156.9" r="1.55" fill="#375a8c"/>
<circle cx="553.7" cy="142.4" r="1.55" fill="#d0e11c"/>
<circle cx="584.2" cy="115.4" r="1.55" fill="#3a538b"/>
<circle cx="572.4" cy="135.5" r="1.55" fill="#29798e"/>
<circle cx="567.4" cy="134.3" r="1.55" fill="#26818e"/>
<circle cx="583.9" cy="129.2" r="1.55" fill="#30698e"/>
<circle cx="587.3" cy="169.8" r="1.55" fill="#463480"/>
<circle cx="582.5" cy="120.7" r="1.55" fill="#33628d"/>
<circle cx="582.8" cy="127.1" r="1.55" fill="#33628d"/>
<circle cx="571.0" cy="154.3" r="1.55" fill="#27808e"/>
<circle cx="562.4" cy="137.3" r="1.55" fill="#1f968b"/>
<circle cx="562.3" cy="145.9" r="1.55" fill="#1e9c89"/>
<circle cx="573.4" cy="120.3" r="1.55" fill="#297b8e"/>
<circle cx="579.0" cy="158.8" r="1.55" fill="#3a538b"/>
<circle cx="585.4" cy="162.9" r="1.55" fill="#3e4a89"/>
<circle cx="578.8" cy="131.1" r="1.55" fill="#306a8e"/>
<circle cx="576.8" cy="152.8" r="1.55" fill="#2c728e"/>
<circle cx="576.1" cy="122.8" r="1.55" fill="#2c738e"/>
<circle cx="572.8" cy="156.8" r="1.55" fill="#287c8e"/>
<circle cx="574.0" cy="127.5" r="1.55" fill="#29798e"/>
<circle cx="580.4" cy="148.8" r="1.55" fill="#2b758e"/>
<circle cx="592.6" cy="175.6" r="1.55" fill="#481d6f"/>
<circle cx="564.1" cy="129.3" r="1.55" fill="#1f948c"/>
<circle cx="565.6" cy="130.0" r="1.55" fill="#26818e"/>
<circle cx="576.6" cy="133.7" r="1.55" fill="#31678e"/>
<circle cx="582.3" cy="132.8" r="1.55" fill="#375b8d"/>
<circle cx="590.2" cy="178.3" r="1.55" fill="#472d7b"/>
<circle cx="545.7" cy="145.9" r="1.55" fill="#f8e621"/>
<circle cx="589.0" cy="176.8" r="1.55" fill="#472c7a"/>
<circle cx="576.9" cy="130.4" r="1.55" fill="#31678e"/>
<circle cx="581.6" cy="150.1" r="1.55" fill="#2c728e"/>
<circle cx="563.1" cy="133.2" r="1.55" fill="#24878e"/>
<circle cx="533.9" cy="146.1" r="1.55" fill="#f8e621"/>
<circle cx="561.3" cy="143.6" r="1.55" fill="#1f958b"/>
<circle cx="590.1" cy="181.2" r="1.55" fill="#471063"/>
<circle cx="576.5" cy="127.5" r="1.55" fill="#31678e"/>
<circle cx="575.3" cy="134.8" r="1.55" fill="#2e6f8e"/>
<circle cx="583.7" cy="159.9" r="1.55" fill="#3c4f8a"/>
<circle cx="584.5" cy="133.2" r="1.55" fill="#32648e"/>
<circle cx="577.8" cy="157.7" r="1.55" fill="#375a8c"/>
<circle cx="581.0" cy="152.5" r="1.55" fill="#31668e"/>
<circle cx="587.0" cy="161.7" r="1.55" fill="#404688"/>
<circle cx="582.6" cy="136.9" r="1.55" fill="#2f6b8e"/>
<circle cx="586.9" cy="166.6" r="1.55" fill="#424086"/>
<circle cx="574.8" cy="114.9" r="1.55" fill="#31678e"/>
<circle cx="572.4" cy="145.7" r="1.55" fill="#26828e"/>
<circle cx="579.4" cy="121.1" r="1.55" fill="#2f6c8e"/>
<circle cx="565.8" cy="125.0" r="1.55" fill="#24868e"/>
<circle cx="583.1" cy="167.7" r="1.55" fill="#3e4c8a"/>
<circle cx="586.8" cy="170.3" r="1.55" fill="#453781"/>
<circle cx="587.8" cy="165.8" r="1.55" fill="#3e4c8a"/>
<circle cx="584.3" cy="158.6" r="1.55" fill="#355f8d"/>
<circle cx="567.2" cy="136.3" r="1.55" fill="#25858e"/>
<circle cx="568.5" cy="146.6" r="1.55" fill="#238a8d"/>
<circle cx="592.6" cy="175.4" r="1.55" fill="#482374"/>
<circle cx="582.1" cy="120.5" r="1.55" fill="#33628d"/>
<circle cx="580.2" cy="154.6" r="1.55" fill="#31678e"/>
<circle cx="538.0" cy="147.9" r="1.55" fill="#89d548"/>
<circle cx="577.6" cy="123.4" r="1.55" fill="#2c728e"/>
<circle cx="579.7" cy="130.1" r="1.55" fill="#2c728e"/>
<circle cx="567.9" cy="151.2" r="1.55" fill="#20928c"/>
<circle cx="578.1" cy="151.9" r="1.55" fill="#306a8e"/>
<circle cx="572.9" cy="133.9" r="1.55" fill="#297b8e"/>
<circle cx="563.8" cy="138.8" r="1.55" fill="#24868e"/>
<circle cx="573.9" cy="116.0" r="1.55" fill="#287c8e"/>
<circle cx="584.4" cy="161.0" r="1.55" fill="#3f4889"/>
<circle cx="584.6" cy="128.8" r="1.55" fill="#34618d"/>
<circle cx="584.0" cy="153.2" r="1.55" fill="#33638d"/>
<circle cx="578.6" cy="117.4" r="1.55" fill="#2e6f8e"/>
<circle cx="575.1" cy="115.1" r="1.55" fill="#2a788e"/>
<circle cx="559.4" cy="144.3" r="1.55" fill="#a2da37"/>
<circle cx="568.4" cy="121.8" r="1.55" fill="#23898e"/>
<circle cx="577.1" cy="131.5" r="1.55" fill="#2a778e"/>
<circle cx="579.6" cy="152.7" r="1.55" fill="#355f8d"/>
<circle cx="577.7" cy="149.1" r="1.55" fill="#31678e"/>
<circle cx="578.5" cy="157.1" r="1.55" fill="#34608d"/>
<circle cx="555.2" cy="145.1" r="1.55" fill="#f8e621"/>
<circle cx="569.9" cy="153.0" r="1.55" fill="#238a8d"/>
<circle cx="589.7" cy="180.9" r="1.55" fill="#482475"/>
<circle cx="565.1" cy="129.2" r="1.55" fill="#23888e"/>
<circle cx="562.4" cy="130.5" r="1.55" fill="#23898e"/>
<circle cx="579.8" cy="150.5" r="1.55" fill="#31688e"/>
<circle cx="583.4" cy="162.4" r="1.55" fill="#39568c"/>
<circle cx="586.9" cy="167.6" r="1.55" fill="#433e85"/>
<circle cx="584.2" cy="167.3" r="1.55" fill="#443a83"/>
<circle cx="557.3" cy="137.9" r="1.55" fill="#89d548"/>
<circle cx="581.6" cy="117.8" r="1.55" fill="#32648e"/>
<circle cx="579.3" cy="152.4" r="1.55" fill="#2e6d8e"/>
<circle cx="549.3" cy="145.6" r="1.55" fill="#d8e219"/>
<circle cx="528.3" cy="148.6" r="1.55" fill="#e5e419"/>
<circle cx="539.9" cy="142.4" r="1.55" fill="#ece51b"/>
<circle cx="533.7" cy="144.5" r="1.55" fill="#65cb5e"/>
<circle cx="534.9" cy="148.2" r="1.55" fill="#fbe723"/>
<circle cx="561.8" cy="140.4" r="1.55" fill="#238a8d"/>
<circle cx="572.1" cy="145.2" r="1.55" fill="#24868e"/>
<circle cx="528.0" cy="146.2" r="1.55" fill="#e2e418"/>
<circle cx="586.8" cy="174.0" r="1.55" fill="#453882"/>
<circle cx="578.8" cy="157.3" r="1.55" fill="#31688e"/>
<circle cx="574.1" cy="149.4" r="1.55" fill="#27808e"/>
<circle cx="566.4" cy="124.3" r="1.55" fill="#287c8e"/>
<circle cx="568.4" cy="129.4" r="1.55" fill="#23898e"/>
<circle cx="553.0" cy="145.3" r="1.55" fill="#f6e620"/>
<circle cx="534.7" cy="145.6" r="1.55" fill="#f8e621"/>
<circle cx="573.5" cy="127.4" r="1.55" fill="#2e6e8e"/>
<circle cx="565.5" cy="127.8" r="1.55" fill="#24878e"/>
<circle cx="579.8" cy="127.8" r="1.55" fill="#2e6f8e"/>
<circle cx="567.6" cy="137.9" r="1.55" fill="#26828e"/>
<circle cx="542.6" cy="144.8" r="1.55" fill="#d2e21b"/>
<circle cx="524.2" cy="149.4" r="1.55" fill="#63cb5f"/>
<circle cx="546.3" cy="144.6" r="1.55" fill="#98d83e"/>
<circle cx="581.1" cy="138.4" r="1.55" fill="#33638d"/>
<circle cx="546.3" cy="140.3" r="1.55" fill="#d0e11c"/>
<circle cx="580.3" cy="123.1" r="1.55" fill="#32658e"/>
<circle cx="569.1" cy="127.0" r="1.55" fill="#26818e"/>
<circle cx="562.3" cy="145.3" r="1.55" fill="#228c8d"/>
<circle cx="582.3" cy="166.9" r="1.55" fill="#414487"/>
<circle cx="548.7" cy="139.9" r="1.55" fill="#e7e419"/>
<circle cx="569.7" cy="145.8" r="1.55" fill="#25848e"/>
<circle cx="564.6" cy="129.5" r="1.55" fill="#26828e"/>
<circle cx="577.8" cy="150.1" r="1.55" fill="#2a778e"/>
<circle cx="580.3" cy="142.4" r="1.55" fill="#306a8e"/>
<circle cx="566.0" cy="132.9" r="1.55" fill="#238a8d"/>
<circle cx="582.2" cy="128.0" r="1.55" fill="#38598c"/>
<circle cx="545.7" cy="143.2" r="1.55" fill="#cde11d"/>
<circle cx="587.1" cy="169.4" r="1.55" fill="#433e85"/>
<circle cx="561.6" cy="131.0" r="1.55" fill="#218f8d"/>
<circle cx="576.4" cy="144.7" r="1.55" fill="#2d708e"/>
<circle cx="583.5" cy="127.1" r="1.55" fill="#38588c"/>
<circle cx="531.2" cy="145.1" r="1.55" fill="#9dd93b"/>
<circle cx="576.8" cy="129.0" r="1.55" fill="#30698e"/>
<circle cx="565.5" cy="150.8" r="1.55" fill="#228b8d"/>
<circle cx="582.1" cy="124.1" r="1.55" fill="#306a8e"/>
<circle cx="575.8" cy="119.8" r="1.55" fill="#2f6c8e"/>
<circle cx="581.2" cy="161.5" r="1.55" fill="#365d8d"/>
<circle cx="582.7" cy="164.8" r="1.55" fill="#414487"/>
<circle cx="529.7" cy="148.7" r="1.55" fill="#dfe318"/>
<circle cx="542.8" cy="141.7" r="1.55" fill="#65cb5e"/>
<circle cx="574.9" cy="143.6" r="1.55" fill="#2a788e"/>
<circle cx="536.3" cy="148.2" r="1.55" fill="#cae11f"/>
<circle cx="572.4" cy="116.5" r="1.55" fill="#2c718e"/>
<circle cx="554.3" cy="142.6" r="1.55" fill="#7ad151"/>
<circle cx="580.6" cy="148.9" r="1.55" fill="#2d708e"/>
<circle cx="561.0" cy="132.1" r="1.55" fill="#20928c"/>
<circle cx="580.8" cy="165.5" r="1.55" fill="#3a548c"/>
<circle cx="577.9" cy="155.3" r="1.55" fill="#2f6c8e"/>
<circle cx="566.5" cy="137.1" r="1.55" fill="#228c8d"/>
<circle cx="555.6" cy="139.0" r="1.55" fill="#fbe723"/>
<circle cx="579.3" cy="152.0" r="1.55" fill="#31668e"/>
<circle cx="559.7" cy="136.0" r="1.55" fill="#1f948c"/>
<circle cx="554.8" cy="143.8" r="1.55" fill="#7ad151"/>
<circle cx="580.9" cy="162.4" r="1.55" fill="#355e8d"/>
<circle cx="577.7" cy="153.9" r="1.55" fill="#2c718e"/>
<circle cx="565.9" cy="154.3" r="1.55" fill="#23898e"/>
<circle cx="526.8" cy="147.6" r="1.55" fill="#5ec962"/>
<circle cx="568.5" cy="156.0" r="1.55" fill="#26828e"/>
<circle cx="568.5" cy="138.2" r="1.55" fill="#25838e"/>
<circle cx="554.6" cy="138.9" r="1.55" fill="#dae319"/>
<circle cx="547.4" cy="142.7" r="1.55" fill="#fde725"/>
<circle cx="561.4" cy="141.9" r="1.55" fill="#1f988b"/>
<circle cx="573.5" cy="132.6" r="1.55" fill="#2d718e"/>
<circle cx="580.6" cy="145.1" r="1.55" fill="#33628d"/>
<circle cx="577.1" cy="152.6" r="1.55" fill="#2b748e"/>
<circle cx="573.2" cy="136.8" r="1.55" fill="#26828e"/>
<circle cx="534.4" cy="145.3" r="1.55" fill="#d8e219"/>
<circle cx="581.1" cy="147.8" r="1.55" fill="#32658e"/>
<circle cx="544.3" cy="141.3" r="1.55" fill="#d2e21b"/>
<circle cx="577.3" cy="135.8" r="1.55" fill="#2d708e"/>
<circle cx="532.1" cy="144.8" r="1.55" fill="#67cc5c"/>
<circle cx="547.7" cy="142.6" r="1.55" fill="#f8e621"/>
<circle cx="579.9" cy="136.7" r="1.55" fill="#2e6d8e"/>
<circle cx="566.3" cy="156.1" r="1.55" fill="#238a8d"/>
<circle cx="570.9" cy="122.9" r="1.55" fill="#2b758e"/>
<circle cx="590.1" cy="179.1" r="1.55" fill="#481769"/>
<circle cx="569.5" cy="120.0" r="1.55" fill="#2a768e"/>
<circle cx="563.5" cy="136.2" r="1.55" fill="#238a8d"/>
<circle cx="576.0" cy="120.5" r="1.55" fill="#31678e"/>
<circle cx="565.6" cy="143.1" r="1.55" fill="#24878e"/>
<circle cx="544.5" cy="146.7" r="1.55" fill="#90d743"/>
<circle cx="578.5" cy="149.6" r="1.55" fill="#2b748e"/>
<circle cx="579.5" cy="146.5" r="1.55" fill="#2a768e"/>
<circle cx="564.0" cy="128.1" r="1.55" fill="#25848e"/>
<circle cx="588.9" cy="174.0" r="1.55" fill="#453882"/>
<circle cx="571.2" cy="152.8" r="1.55" fill="#24878e"/>
<circle cx="575.5" cy="143.9" r="1.55" fill="#287d8e"/>
<circle cx="581.4" cy="134.3" r="1.55" fill="#306a8e"/>
<circle cx="588.5" cy="174.3" r="1.55" fill="#453882"/>
<circle cx="578.5" cy="154.4" r="1.55" fill="#2a788e"/>
<circle cx="575.2" cy="137.6" r="1.55" fill="#2f6c8e"/>
<circle cx="581.3" cy="151.5" r="1.55" fill="#2d708e"/>
<circle cx="582.1" cy="154.6" r="1.55" fill="#306a8e"/>
<circle cx="551.0" cy="146.0" r="1.55" fill="#ece51b"/>
<circle cx="577.6" cy="138.9" r="1.55" fill="#2e6f8e"/>
<circle cx="539.2" cy="147.0" r="1.55" fill="#e7e419"/>
<circle cx="586.9" cy="160.7" r="1.55" fill="#3c4f8a"/>
<circle cx="578.5" cy="144.9" r="1.55" fill="#2e6e8e"/>
<circle cx="585.0" cy="114.0" r="1.55" fill="#34608d"/>
<circle cx="560.4" cy="148.7" r="1.55" fill="#1e9c89"/>
<circle cx="525.5" cy="149.9" r="1.55" fill="#5cc863"/>
<circle cx="544.2" cy="144.2" r="1.55" fill="#cde11d"/>
<circle cx="586.6" cy="167.8" r="1.55" fill="#3f4788"/>
<circle cx="570.8" cy="135.8" r="1.55" fill="#277e8e"/>
<circle cx="544.1" cy="146.1" r="1.55" fill="#fde725"/>
<circle cx="583.6" cy="126.4" r="1.55" fill="#375a8c"/>
<circle cx="583.6" cy="161.9" r="1.55" fill="#3e4c8a"/>
<circle cx="558.7" cy="135.9" r="1.55" fill="#a5db36"/>
<circle cx="581.8" cy="147.3" r="1.55" fill="#2c738e"/>
<circle cx="585.3" cy="118.2" r="1.55" fill="#3a548c"/>
<circle cx="568.0" cy="126.9" r="1.55" fill="#24868e"/>
<circle cx="579.8" cy="115.3" r="1.55" fill="#2e6e8e"/>
<circle cx="569.4" cy="132.6" r="1.55" fill="#26828e"/>
<circle cx="575.5" cy="128.9" r="1.55" fill="#2e6e8e"/>
<circle cx="582.0" cy="116.2" r="1.55" fill="#365c8d"/>
<circle cx="575.1" cy="135.0" r="1.55" fill="#2b748e"/>
<circle cx="565.1" cy="135.7" r="1.55" fill="#23898e"/>
<circle cx="538.0" cy="146.0" r="1.55" fill="#dfe318"/>
<circle cx="580.1" cy="133.7" r="1.55" fill="#2e6e8e"/>
<circle cx="552.5" cy="142.8" r="1.55" fill="#cde11d"/>
<circle cx="586.2" cy="119.3" r="1.55" fill="#3d4e8a"/>
<circle cx="576.5" cy="134.0" r="1.55" fill="#297a8e"/>
<circle cx="545.7" cy="143.9" r="1.55" fill="#efe51c"/>
<circle cx="583.3" cy="153.4" r="1.55" fill="#34618d"/>
<circle cx="579.6" cy="133.4" r="1.55" fill="#32648e"/>
<circle cx="583.3" cy="118.3" r="1.55" fill="#375b8d"/>
<circle cx="529.8" cy="149.0" r="1.55" fill="#e7e419"/>
<circle cx="547.8" cy="143.4" r="1.55" fill="#e5e419"/>
<circle cx="580.9" cy="119.2" r="1.55" fill="#33638d"/>
<circle cx="582.8" cy="168.1" r="1.55" fill="#3d4d8a"/>
<circle cx="538.4" cy="142.7" r="1.55" fill="#70cf57"/>
<circle cx="573.4" cy="155.4" r="1.55" fill="#2b748e"/>
<circle cx="573.0" cy="119.8" r="1.55" fill="#287d8e"/>
<circle cx="572.1" cy="135.8" r="1.55" fill="#2a788e"/>
<circle cx="525.8" cy="148.3" r="1.55" fill="#6ece58"/>
<circle cx="537.2" cy="146.1" r="1.55" fill="#98d83e"/>
<circle cx="558.2" cy="124.8" r="1.55" fill="#4ec36b"/>
<circle cx="577.0" cy="124.5" r="1.55" fill="#31668e"/>
<circle cx="578.8" cy="124.3" r="1.55" fill="#31678e"/>
<circle cx="587.9" cy="175.8" r="1.55" fill="#482979"/>
<circle cx="591.2" cy="175.2" r="1.55" fill="#472c7a"/>
<circle cx="575.4" cy="146.7" r="1.55" fill="#287d8e"/>
<circle cx="531.1" cy="149.6" r="1.55" fill="#f1e51d"/>
<circle cx="567.9" cy="145.6" r="1.55" fill="#23898e"/>
<circle cx="578.1" cy="133.4" r="1.55" fill="#2b758e"/>
<circle cx="533.8" cy="145.4" r="1.55" fill="#dde318"/>
<circle cx="555.4" cy="144.6" r="1.55" fill="#81d34d"/>
<circle cx="554.1" cy="138.7" r="1.55" fill="#cde11d"/>
<circle cx="568.9" cy="156.1" r="1.55" fill="#24878e"/>
<circle cx="569.1" cy="144.1" r="1.55" fill="#24878e"/>
<circle cx="556.9" cy="137.7" r="1.55" fill="#73d056"/>
<circle cx="540.9" cy="146.8" r="1.55" fill="#a8db34"/>
<circle cx="547.2" cy="146.7" r="1.55" fill="#cde11d"/>
<circle cx="586.8" cy="171.3" r="1.55" fill="#46337f"/>
<circle cx="558.2" cy="141.3" r="1.55" fill="#1f9a8a"/>
<circle cx="567.2" cy="123.0" r="1.55" fill="#26818e"/>
<circle cx="527.6" cy="149.2" r="1.55" fill="#69cd5b"/>
<circle cx="584.3" cy="162.0" r="1.55" fill="#3d4d8a"/>
<circle cx="581.3" cy="119.6" r="1.55" fill="#355e8d"/>
<circle cx="583.7" cy="160.7" r="1.55" fill="#3d4e8a"/>
<circle cx="553.9" cy="142.2" r="1.55" fill="#f8e621"/>
<circle cx="569.5" cy="128.1" r="1.55" fill="#27808e"/>
<circle cx="566.9" cy="144.7" r="1.55" fill="#25838e"/>
<circle cx="568.5" cy="129.6" r="1.55" fill="#26818e"/>
<circle cx="576.9" cy="140.5" r="1.55" fill="#2f6b8e"/>
<circle cx="530.1" cy="149.1" r="1.55" fill="#86d549"/>
<circle cx="573.7" cy="115.8" r="1.55" fill="#297b8e"/>
<circle cx="545.6" cy="147.1" r="1.55" fill="#fbe723"/>
<circle cx="566.8" cy="124.8" r="1.55" fill="#228c8d"/>
<circle cx="567.3" cy="131.1" r="1.55" fill="#26818e"/>
<circle cx="556.0" cy="140.5" r="1.55" fill="#a5db36"/>
<circle cx="584.2" cy="154.1" r="1.55" fill="#306a8e"/>
<circle cx="583.9" cy="124.7" r="1.55" fill="#39558c"/>
<circle cx="564.9" cy="152.1" r="1.55" fill="#23898e"/>
<circle cx="587.0" cy="173.7" r="1.55" fill="#472d7b"/>
<circle cx="564.4" cy="153.5" r="1.55" fill="#1f958b"/>
<circle cx="572.5" cy="146.9" r="1.55" fill="#2a788e"/>
<circle cx="580.5" cy="135.3" r="1.55" fill="#34618d"/>
<circle cx="585.3" cy="114.5" r="1.55" fill="#33628d"/>
<circle cx="536.4" cy="145.5" r="1.55" fill="#9dd93b"/>
<circle cx="580.8" cy="164.9" r="1.55" fill="#38588c"/>
<circle cx="547.5" cy="146.3" r="1.55" fill="#dde318"/>
<circle cx="557.5" cy="140.2" r="1.55" fill="#56c667"/>
<circle cx="571.8" cy="143.0" r="1.55" fill="#297b8e"/>
<circle cx="537.5" cy="143.0" r="1.55" fill="#d8e219"/>
<circle cx="591.3" cy="180.9" r="1.55" fill="#471164"/>
<circle cx="575.3" cy="129.7" r="1.55" fill="#2a768e"/>
<circle cx="566.7" cy="131.9" r="1.55" fill="#228c8d"/>
<circle cx="585.6" cy="120.6" r="1.55" fill="#3b528b"/>
<circle cx="590.3" cy="177.7" r="1.55" fill="#472a7a"/>
<circle cx="547.9" cy="140.7" r="1.55" fill="#dfe318"/>
<circle cx="561.6" cy="141.3" r="1.55" fill="#21918c"/>
<circle cx="565.6" cy="125.0" r="1.55" fill="#26828e"/>
<circle cx="546.6" cy="145.7" r="1.55" fill="#ece51b"/>
<circle cx="576.6" cy="150.7" r="1.55" fill="#2a788e"/>
<circle cx="554.8" cy="139.2" r="1.55" fill="#efe51c"/>
<circle cx="529.2" cy="146.1" r="1.55" fill="#69cd5b"/>
<circle cx="571.7" cy="136.9" r="1.55" fill="#2b748e"/>
<circle cx="580.5" cy="161.9" r="1.55" fill="#3e4a89"/>
<circle cx="560.3" cy="143.8" r="1.55" fill="#56c667"/>
<circle cx="579.0" cy="113.6" r="1.55" fill="#2f6b8e"/>
<circle cx="575.6" cy="128.7" r="1.55" fill="#2b748e"/>
<circle cx="576.5" cy="113.5" r="1.55" fill="#306a8e"/>
<circle cx="587.1" cy="123.2" r="1.55" fill="#355f8d"/>
<circle cx="580.7" cy="143.7" r="1.55" fill="#34618d"/>
<circle cx="530.8" cy="147.1" r="1.55" fill="#fde725"/>
<circle cx="569.8" cy="131.8" r="1.55" fill="#24878e"/>
<circle cx="587.2" cy="167.7" r="1.55" fill="#3e4989"/>
<circle cx="543.9" cy="141.5" r="1.55" fill="#efe51c"/>
<circle cx="584.9" cy="170.2" r="1.55" fill="#404688"/>
<circle cx="583.5" cy="167.5" r="1.55" fill="#443b84"/>
<circle cx="576.3" cy="130.7" r="1.55" fill="#2d708e"/>
<circle cx="568.9" cy="139.0" r="1.55" fill="#26828e"/>
<circle cx="532.3" cy="147.9" r="1.55" fill="#fde725"/>
<circle cx="584.0" cy="130.4" r="1.55" fill="#31688e"/>
<circle cx="553.4" cy="140.0" r="1.55" fill="#d5e21a"/>
<circle cx="576.8" cy="153.8" r="1.55" fill="#33638d"/>
<circle cx="567.0" cy="143.2" r="1.55" fill="#23898e"/>
<circle cx="584.8" cy="132.9" r="1.55" fill="#3a548c"/>
<circle cx="524.8" cy="147.9" r="1.55" fill="#4ac16d"/>
<circle cx="579.4" cy="132.0" r="1.55" fill="#2c738e"/>
<circle cx="574.3" cy="143.7" r="1.55" fill="#2b748e"/>
<circle cx="580.0" cy="133.4" r="1.55" fill="#306a8e"/>
<circle cx="583.6" cy="161.0" r="1.55" fill="#355e8d"/>
<circle cx="576.6" cy="155.9" r="1.55" fill="#2d708e"/>
<circle cx="582.3" cy="157.1" r="1.55" fill="#33628d"/>
<circle cx="584.2" cy="164.9" r="1.55" fill="#3e4c8a"/>
<circle cx="572.1" cy="148.2" r="1.55" fill="#26828e"/>
<circle cx="576.6" cy="116.1" r="1.55" fill="#2c728e"/>
<circle cx="564.3" cy="137.6" r="1.55" fill="#20928c"/>
<circle cx="546.0" cy="144.1" r="1.55" fill="#d8e219"/>
<circle cx="554.9" cy="143.5" r="1.55" fill="#d2e21b"/>
<circle cx="584.5" cy="123.6" r="1.55" fill="#375b8d"/>
<circle cx="576.4" cy="155.1" r="1.55" fill="#277f8e"/>
<circle cx="532.7" cy="146.6" r="1.55" fill="#dde318"/>
<circle cx="556.4" cy="137.2" r="1.55" fill="#5cc863"/>
<circle cx="560.7" cy="142.1" r="1.55" fill="#5ac864"/>
<circle cx="548.0" cy="146.1" r="1.55" fill="#f8e621"/>
<circle cx="573.3" cy="134.8" r="1.55" fill="#26818e"/>
<circle cx="590.4" cy="173.4" r="1.55" fill="#472d7b"/>
<circle cx="580.6" cy="163.9" r="1.55" fill="#39568c"/>
<circle cx="529.9" cy="148.3" r="1.55" fill="#e7e419"/>
<circle cx="527.6" cy="149.8" r="1.55" fill="#4ec36b"/>
<circle cx="532.1" cy="148.2" r="1.55" fill="#d8e219"/>
<circle cx="582.3" cy="116.9" r="1.55" fill="#31688e"/>
<circle cx="554.8" cy="144.2" r="1.55" fill="#98d83e"/>
<circle cx="571.5" cy="153.8" r="1.55" fill="#2a778e"/>
<circle cx="567.2" cy="127.5" r="1.55" fill="#23898e"/>
<circle cx="560.4" cy="140.8" r="1.55" fill="#1f9e89"/>
<circle cx="552.4" cy="140.9" r="1.55" fill="#f8e621"/>
<circle cx="585.6" cy="163.0" r="1.55" fill="#3d4d8a"/>
<circle cx="582.4" cy="159.4" r="1.55" fill="#38588c"/>
<circle cx="555.0" cy="142.2" r="1.55" fill="#d5e21a"/>
<circle cx="581.4" cy="150.0" r="1.55" fill="#32648e"/>
<circle cx="562.2" cy="137.0" r="1.55" fill="#1f968b"/>
<circle cx="574.0" cy="122.1" r="1.55" fill="#2e6e8e"/>
<circle cx="581.1" cy="142.3" r="1.55" fill="#2d718e"/>
<circle cx="558.7" cy="135.5" r="1.55" fill="#1e9b8a"/>
<circle cx="528.9" cy="147.3" r="1.55" fill="#f4e61e"/>
<circle cx="543.4" cy="142.6" r="1.55" fill="#ece51b"/>
<circle cx="535.6" cy="145.7" r="1.55" fill="#efe51c"/>
<circle cx="589.5" cy="172.3" r="1.55" fill="#482979"/>
<circle cx="576.7" cy="116.2" r="1.55" fill="#31678e"/>
<circle cx="565.8" cy="134.2" r="1.55" fill="#24868e"/>
<circle cx="554.6" cy="139.2" r="1.55" fill="#dde318"/>
<circle cx="585.7" cy="130.8" r="1.55" fill="#38588c"/>
<circle cx="582.4" cy="155.6" r="1.55" fill="#34618d"/>
<circle cx="581.0" cy="127.5" r="1.55" fill="#34608d"/>
<circle cx="558.9" cy="142.5" r="1.55" fill="#21908d"/>
<circle cx="586.6" cy="160.5" r="1.55" fill="#3f4788"/>
</g>
<g stroke="#111" stroke-width="0.5">
<circle cx="658.8" cy="136.4" r="1.55" fill="#39568c"/>
<circle cx="624.3" cy="146.6" r="1.55" fill="#482071"/>
<circle cx="662.8" cy="115.5" r="1.55" fill="#3d4d8a"/>
<circle cx="652.5" cy="132.7" r="1.55" fill="#3e4c8a"/>
<circle cx="662.0" cy="148.5" r="1.55" fill="#33628d"/>
<circle cx="656.2" cy="154.6" r="1.55" fill="#2f6b8e"/>
<circle cx="634.7" cy="141.8" r="1.55" fill="#482979"/>
<circle cx="648.5" cy="142.7" r="1.55" fill="#39568c"/>
<circle cx="667.1" cy="154.7" r="1.55" fill="#1fa088"/>
<circle cx="667.8" cy="147.2" r="1.55" fill="#31678e"/>
<circle cx="654.9" cy="138.6" r="1.55" fill="#3c4f8a"/>
<circle cx="643.2" cy="143.1" r="1.55" fill="#482475"/>
<circle cx="659.8" cy="140.8" r="1.55" fill="#32658e"/>
<circle cx="651.9" cy="132.8" r="1.55" fill="#3b518b"/>
<circle cx="661.0" cy="154.3" r="1.55" fill="#2d708e"/>
<circle cx="641.3" cy="142.1" r="1.55" fill="#482071"/>
<circle cx="674.8" cy="173.5" r="1.55" fill="#dde318"/>
<circle cx="638.1" cy="142.8" r="1.55" fill="#482374"/>
<circle cx="667.4" cy="122.0" r="1.55" fill="#3a548c"/>
<circle cx="662.5" cy="115.3" r="1.55" fill="#424186"/>
<circle cx="614.9" cy="147.1" r="1.55" fill="#482173"/>
<circle cx="669.4" cy="151.4" r="1.55" fill="#287d8e"/>
<circle cx="663.7" cy="130.7" r="1.55" fill="#3b528b"/>
<circle cx="654.9" cy="147.9" r="1.55" fill="#30698e"/>
<circle cx="638.8" cy="138.9" r="1.55" fill="#472a7a"/>
<circle cx="670.2" cy="164.5" r="1.55" fill="#69cd5b"/>
<circle cx="638.2" cy="138.5" r="1.55" fill="#482677"/>
<circle cx="657.8" cy="156.9" r="1.55" fill="#31668e"/>
<circle cx="647.7" cy="146.1" r="1.55" fill="#355e8d"/>
<circle cx="656.0" cy="153.5" r="1.55" fill="#33638d"/>
<circle cx="675.0" cy="169.9" r="1.55" fill="#b8de29"/>
<circle cx="652.6" cy="150.8" r="1.55" fill="#375a8c"/>
<circle cx="668.8" cy="117.1" r="1.55" fill="#3c4f8a"/>
<circle cx="655.8" cy="142.0" r="1.55" fill="#3a548c"/>
<circle cx="667.5" cy="150.5" r="1.55" fill="#23898e"/>
<circle cx="666.3" cy="155.2" r="1.55" fill="#20928c"/>
<circle cx="660.2" cy="128.4" r="1.55" fill="#355e8d"/>
<circle cx="634.5" cy="143.5" r="1.55" fill="#472d7b"/>
<circle cx="658.3" cy="140.8" r="1.55" fill="#355e8d"/>
<circle cx="655.7" cy="146.6" r="1.55" fill="#375a8c"/>
<circle cx="654.7" cy="122.7" r="1.55" fill="#3e4c8a"/>
<circle cx="638.8" cy="144.9" r="1.55" fill="#472e7c"/>
<circle cx="672.0" cy="118.7" r="1.55" fill="#355e8d"/>
<circle cx="652.5" cy="146.8" r="1.55" fill="#375b8d"/>
<circle cx="666.8" cy="126.7" r="1.55" fill="#355f8d"/>
<circle cx="670.5" cy="149.1" r="1.55" fill="#24868e"/>
<circle cx="669.3" cy="129.4" r="1.55" fill="#2f6b8e"/>
<circle cx="629.3" cy="142.2" r="1.55" fill="#481b6d"/>
<circle cx="654.9" cy="130.6" r="1.55" fill="#375a8c"/>
<circle cx="673.5" cy="157.3" r="1.55" fill="#2ab07f"/>
<circle cx="656.3" cy="156.5" r="1.55" fill="#2c718e"/>
<circle cx="649.3" cy="144.2" r="1.55" fill="#482878"/>
<circle cx="661.8" cy="148.5" r="1.55" fill="#2e6e8e"/>
<circle cx="623.8" cy="143.7" r="1.55" fill="#481a6c"/>
<circle cx="620.0" cy="145.0" r="1.55" fill="#481c6e"/>
<circle cx="663.0" cy="121.4" r="1.55" fill="#3b518b"/>
<circle cx="654.3" cy="132.6" r="1.55" fill="#3c4f8a"/>
<circle cx="672.4" cy="133.8" r="1.55" fill="#31688e"/>
<circle cx="635.8" cy="141.1" r="1.55" fill="#481f70"/>
<circle cx="651.7" cy="130.0" r="1.55" fill="#3a548c"/>
<circle cx="612.6" cy="148.4" r="1.55" fill="#481d6f"/>
<circle cx="677.8" cy="169.9" r="1.55" fill="#dae319"/>
<circle cx="647.0" cy="135.2" r="1.55" fill="#3c508b"/>
<circle cx="665.3" cy="143.4" r="1.55" fill="#31688e"/>
<circle cx="624.3" cy="145.1" r="1.55" fill="#482173"/>
<circle cx="643.4" cy="138.6" r="1.55" fill="#46307e"/>
<circle cx="673.0" cy="115.1" r="1.55" fill="#375b8d"/>
<circle cx="669.0" cy="159.2" r="1.55" fill="#25ab82"/>
<circle cx="659.3" cy="121.6" r="1.55" fill="#404688"/>
<circle cx="618.8" cy="146.5" r="1.55" fill="#481769"/>
<circle cx="624.8" cy="145.1" r="1.55" fill="#482576"/>
<circle cx="632.1" cy="142.0" r="1.55" fill="#482173"/>
<circle cx="665.9" cy="149.8" r="1.55" fill="#25838e"/>
<circle cx="646.3" cy="136.6" r="1.55" fill="#482979"/>
<circle cx="657.7" cy="142.5" r="1.55" fill="#38588c"/>
<circle cx="626.3" cy="146.4" r="1.55" fill="#481d6f"/>
<circle cx="628.0" cy="142.2" r="1.55" fill="#482475"/>
<circle cx="656.2" cy="149.7" r="1.55" fill="#2e6d8e"/>
<circle cx="680.3" cy="174.9" r="1.55" fill="#fde725"/>
<circle cx="650.6" cy="146.2" r="1.55" fill="#33638d"/>
<circle cx="648.6" cy="141.4" r="1.55" fill="#472a7a"/>
<circle cx="669.3" cy="139.3" r="1.55" fill="#31668e"/>
<circle cx="627.7" cy="143.5" r="1.55" fill="#482979"/>
<circle cx="671.5" cy="158.7" r="1.55" fill="#2cb17e"/>
<circle cx="642.9" cy="141.9" r="1.55" fill="#472e7c"/>
<circle cx="623.1" cy="145.2" r="1.55" fill="#48186a"/>
<circle cx="659.3" cy="147.0" r="1.55" fill="#306a8e"/>
<circle cx="650.5" cy="138.2" r="1.55" fill="#3b528b"/>
<circle cx="622.9" cy="143.9" r="1.55" fill="#482576"/>
<circle cx="667.7" cy="146.1" r="1.55" fill="#31668e"/>
<circle cx="666.2" cy="127.4" r="1.55" fill="#3b528b"/>
<circle cx="637.9" cy="141.9" r="1.55" fill="#482878"/>
<circle cx="661.9" cy="116.0" r="1.55" fill="#424186"/>
<circle cx="674.2" cy="166.4" r="1.55" fill="#7cd250"/>
<circle cx="668.9" cy="118.6" r="1.55" fill="#3c508b"/>
<circle cx="664.5" cy="124.3" r="1.55" fill="#355e8d"/>
<circle cx="631.1" cy="144.6" r="1.55" fill="#481c6e"/>
<circle cx="679.0" cy="181.0" r="1.55" fill="#fde725"/>
<circle cx="661.8" cy="123.1" r="1.55" fill="#39568c"/>
<circle cx="674.0" cy="164.4" r="1.55" fill="#81d34d"/>
<circle cx="666.5" cy="124.1" r="1.55" fill="#375a8c"/>
<circle cx="624.7" cy="148.1" r="1.55" fill="#481c6e"/>
<circle cx="639.1" cy="143.6" r="1.55" fill="#482979"/>
<circle cx="663.3" cy="122.4" r="1.55" fill="#3c4f8a"/>
<circle cx="654.4" cy="128.8" r="1.55" fill="#38598c"/>
<circle cx="627.2" cy="142.5" r="1.55" fill="#481a6c"/>
<circle cx="612.9" cy="148.4" r="1.55" fill="#482071"/>
<circle cx="672.3" cy="165.2" r="1.55" fill="#70cf57"/>
<circle cx="651.0" cy="147.8" r="1.55" fill="#33638d"/>
<circle cx="631.8" cy="141.8" r="1.55" fill="#482979"/>
<circle cx="660.3" cy="148.6" r="1.55" fill="#2c728e"/>
<circle cx="624.5" cy="148.5" r="1.55" fill="#481769"/>
<circle cx="647.6" cy="144.2" r="1.55" fill="#482576"/>
<circle cx="671.5" cy="151.6" r="1.55" fill="#1f9a8a"/>
<circle cx="664.2" cy="144.8" r="1.55" fill="#31678e"/>
<circle cx="616.7" cy="146.0" r="1.55" fill="#482071"/>
<circle cx="653.6" cy="147.4" r="1.55" fill="#32648e"/>
<circle cx="649.8" cy="152.5" r="1.55" fill="#32658e"/>
<circle cx="673.6" cy="172.1" r="1.55" fill="#f1e51d"/>
<circle cx="643.2" cy="139.0" r="1.55" fill="#482173"/>
<circle cx="670.8" cy="161.8" r="1.55" fill="#3bbb75"/>
<circle cx="668.8" cy="149.3" r="1.55" fill="#287c8e"/>
<circle cx="650.7" cy="152.1" r="1.55" fill="#32658e"/>
<circle cx="650.0" cy="131.5" r="1.55" fill="#3c508b"/>
<circle cx="671.8" cy="128.5" r="1.55" fill="#375b8d"/>
<circle cx="673.1" cy="167.9" r="1.55" fill="#b0dd2f"/>
<circle cx="673.9" cy="118.4" r="1.55" fill="#33628d"/>
<circle cx="662.5" cy="115.7" r="1.55" fill="#3e4c8a"/>
<circle cx="669.1" cy="157.2" r="1.55" fill="#2eb37c"/>
<circle cx="673.8" cy="158.9" r="1.55" fill="#2eb37c"/>
<circle cx="669.5" cy="117.8" r="1.55" fill="#3a548c"/>
<circle cx="659.6" cy="137.2" r="1.55" fill="#33638d"/>
<circle cx="652.1" cy="128.7" r="1.55" fill="#3e4989"/>
<circle cx="619.1" cy="149.6" r="1.55" fill="#482475"/>
<circle cx="652.2" cy="131.6" r="1.55" fill="#3f4889"/>
<circle cx="650.1" cy="137.8" r="1.55" fill="#375b8d"/>
<circle cx="672.4" cy="166.1" r="1.55" fill="#8bd646"/>
<circle cx="643.0" cy="142.0" r="1.55" fill="#472c7a"/>
<circle cx="639.8" cy="144.1" r="1.55" fill="#472f7d"/>
<circle cx="669.6" cy="150.5" r="1.55" fill="#287d8e"/>
<circle cx="621.3" cy="147.0" r="1.55" fill="#48186a"/>
<circle cx="660.7" cy="150.1" r="1.55" fill="#2c728e"/>
<circle cx="647.0" cy="135.6" r="1.55" fill="#482576"/>
<circle cx="649.9" cy="120.8" r="1.55" fill="#482475"/>
<circle cx="655.7" cy="143.8" r="1.55" fill="#34618d"/>
<circle cx="669.2" cy="167.0" r="1.55" fill="#69cd5b"/>
<circle cx="654.0" cy="135.3" r="1.55" fill="#3b518b"/>
<circle cx="666.7" cy="147.4" r="1.55" fill="#2a778e"/>
<circle cx="619.4" cy="146.9" r="1.55" fill="#482071"/>
<circle cx="668.9" cy="114.1" r="1.55" fill="#38598c"/>
<circle cx="633.4" cy="145.9" r="1.55" fill="#481f70"/>
<circle cx="660.9" cy="137.1" r="1.55" fill="#31688e"/>
<circle cx="641.7" cy="144.3" r="1.55" fill="#472c7a"/>
<circle cx="679.2" cy="179.3" r="1.55" fill="#fde725"/>
<circle cx="664.9" cy="114.6" r="1.55" fill="#3d4e8a"/>
<circle cx="673.5" cy="157.1" r="1.55" fill="#28ae80"/>
<circle cx="643.2" cy="140.3" r="1.55" fill="#472c7a"/>
<circle cx="666.1" cy="132.3" r="1.55" fill="#33628d"/>
<circle cx="617.9" cy="149.3" r="1.55" fill="#481b6d"/>
<circle cx="662.7" cy="133.2" r="1.55" fill="#32648e"/>
<circle cx="614.2" cy="148.4" r="1.55" fill="#48186a"/>
<circle cx="668.2" cy="133.1" r="1.55" fill="#31668e"/>
<circle cx="667.2" cy="162.4" r="1.55" fill="#56c667"/>
<circle cx="669.1" cy="166.9" r="1.55" fill="#6ccd5a"/>
<circle cx="642.3" cy="143.3" r="1.55" fill="#482677"/>
<circle cx="656.7" cy="145.7" r="1.55" fill="#38588c"/>
<circle cx="664.8" cy="146.7" r="1.55" fill="#2b748e"/>
<circle cx="651.5" cy="138.4" r="1.55" fill="#3e4a89"/>
<circle cx="662.2" cy="138.5" r="1.55" fill="#31688e"/>
<circle cx="634.8" cy="146.9" r="1.55" fill="#481d6f"/>
<circle cx="631.9" cy="141.9" r="1.55" fill="#481c6e"/>
<circle cx="673.6" cy="119.1" r="1.55" fill="#33638d"/>
<circle cx="641.5" cy="143.1" r="1.55" fill="#472c7a"/>
<circle cx="657.5" cy="131.2" r="1.55" fill="#39558c"/>
<circle cx="670.3" cy="120.5" r="1.55" fill="#375b8d"/>
<circle cx="627.7" cy="146.2" r="1.55" fill="#481c6e"/>
<circle cx="636.5" cy="140.1" r="1.55" fill="#481f70"/>
<circle cx="648.6" cy="141.1" r="1.55" fill="#472d7b"/>
<circle cx="662.0" cy="139.0" r="1.55" fill="#31668e"/>
<circle cx="655.0" cy="134.5" r="1.55" fill="#3b528b"/>
<circle cx="659.4" cy="141.5" r="1.55" fill="#355f8d"/>
<circle cx="628.6" cy="147.1" r="1.55" fill="#481f70"/>
<circle cx="653.0" cy="136.8" r="1.55" fill="#3d4d8a"/>
<circle cx="672.2" cy="154.4" r="1.55" fill="#21a685"/>
<circle cx="677.3" cy="178.7" r="1.55" fill="#fde725"/>
<circle cx="634.5" cy="142.8" r="1.55" fill="#472c7a"/>
<circle cx="669.9" cy="129.9" r="1.55" fill="#31668e"/>
<circle cx="667.8" cy="140.4" r="1.55" fill="#2e6d8e"/>
<circle cx="630.4" cy="145.8" r="1.55" fill="#481d6f"/>
<circle cx="633.6" cy="146.6" r="1.55" fill="#481f70"/>
<circle cx="668.8" cy="138.8" r="1.55" fill="#30698e"/>
<circle cx="670.1" cy="114.7" r="1.55" fill="#3d4d8a"/>
<circle cx="656.2" cy="125.4" r="1.55" fill="#414287"/>
<circle cx="633.3" cy="143.9" r="1.55" fill="#482374"/>
<circle cx="666.9" cy="120.0" r="1.55" fill="#3e4c8a"/>
<circle cx="649.3" cy="135.4" r="1.55" fill="#39558c"/>
<circle cx="660.6" cy="126.6" r="1.55" fill="#375b8d"/>
<circle cx="648.3" cy="148.8" r="1.55" fill="#365d8d"/>
<circle cx="664.3" cy="146.4" r="1.55" fill="#32658e"/>
<circle cx="679.0" cy="178.7" r="1.55" fill="#fde725"/>
<circle cx="637.2" cy="143.7" r="1.55" fill="#482677"/>
<circle cx="641.1" cy="142.2" r="1.55" fill="#482677"/>
<circle cx="671.4" cy="136.3" r="1.55" fill="#306a8e"/>
<circle cx="656.8" cy="126.7" r="1.55" fill="#3a538b"/>
<circle cx="629.5" cy="142.6" r="1.55" fill="#482576"/>
<circle cx="656.9" cy="145.5" r="1.55" fill="#375a8c"/>
<circle cx="634.3" cy="142.2" r="1.55" fill="#482173"/>
<circle cx="673.6" cy="160.7" r="1.55" fill="#5ec962"/>
<circle cx="616.5" cy="149.4" r="1.55" fill="#481d6f"/>
<circle cx="672.9" cy="115.8" r="1.55" fill="#39568c"/>
<circle cx="639.9" cy="140.8" r="1.55" fill="#472e7c"/>
<circle cx="657.2" cy="129.9" r="1.55" fill="#365d8d"/>
<circle cx="668.6" cy="127.4" r="1.55" fill="#38588c"/>
<circle cx="644.2" cy="141.0" r="1.55" fill="#472a7a"/>
<circle cx="612.5" cy="150.1" r="1.55" fill="#482071"/>
<circle cx="660.7" cy="143.8" r="1.55" fill="#30698e"/>
<circle cx="641.8" cy="143.3" r="1.55" fill="#482374"/>
<circle cx="654.5" cy="136.4" r="1.55" fill="#355f8d"/>
<circle cx="674.3" cy="169.0" r="1.55" fill="#a8db34"/>
<circle cx="675.0" cy="175.8" r="1.55" fill="#fde725"/>
<circle cx="670.0" cy="150.9" r="1.55" fill="#2c738e"/>
<circle cx="675.4" cy="119.3" r="1.55" fill="#32648e"/>
<circle cx="652.8" cy="144.5" r="1.55" fill="#39568c"/>
<circle cx="635.4" cy="146.4" r="1.55" fill="#482173"/>
<circle cx="665.4" cy="150.3" r="1.55" fill="#2c728e"/>
<circle cx="662.8" cy="135.2" r="1.55" fill="#355e8d"/>
<circle cx="675.1" cy="127.0" r="1.55" fill="#30698e"/>
<circle cx="634.3" cy="145.4" r="1.55" fill="#472a7a"/>
<circle cx="660.5" cy="135.4" r="1.55" fill="#39558c"/>
<circle cx="661.2" cy="143.3" r="1.55" fill="#33638d"/>
<circle cx="674.1" cy="169.9" r="1.55" fill="#b2dd2d"/>
<circle cx="649.9" cy="135.7" r="1.55" fill="#3c508b"/>
<circle cx="657.9" cy="149.8" r="1.55" fill="#33628d"/>
<circle cx="671.9" cy="162.2" r="1.55" fill="#63cb5f"/>
<circle cx="630.7" cy="145.8" r="1.55" fill="#481c6e"/>
<circle cx="669.2" cy="127.8" r="1.55" fill="#34618d"/>
<circle cx="670.2" cy="136.6" r="1.55" fill="#2e6f8e"/>
<circle cx="671.3" cy="113.2" r="1.55" fill="#375a8c"/>
<circle cx="661.7" cy="133.2" r="1.55" fill="#375a8c"/>
<circle cx="660.1" cy="139.7" r="1.55" fill="#32658e"/>
<circle cx="622.6" cy="146.9" r="1.55" fill="#482677"/>
<circle cx="634.5" cy="143.0" r="1.55" fill="#482374"/>
<circle cx="650.8" cy="147.9" r="1.55" fill="#375b8d"/>
<circle cx="668.3" cy="120.6" r="1.55" fill="#375a8c"/>
<circle cx="665.3" cy="155.6" r="1.55" fill="#297a8e"/>
<circle cx="670.6" cy="150.4" r="1.55" fill="#2a788e"/>
<circle cx="628.3" cy="143.8" r="1.55" fill="#482878"/>
<circle cx="647.8" cy="138.9" r="1.55" fill="#46307e"/>
<circle cx="672.0" cy="155.9" r="1.55" fill="#25ab82"/>
<circle cx="675.1" cy="127.5" r="1.55" fill="#31678e"/>
<circle cx="650.9" cy="149.9" r="1.55" fill="#38598c"/>
<circle cx="647.9" cy="140.4" r="1.55" fill="#46327e"/>
<circle cx="670.9" cy="155.4" r="1.55" fill="#20a386"/>
<circle cx="663.8" cy="120.7" r="1.55" fill="#3f4889"/>
<circle cx="637.6" cy="143.5" r="1.55" fill="#482475"/>
<circle cx="648.9" cy="146.2" r="1.55" fill="#39558c"/>
<circle cx="664.8" cy="151.6" r="1.55" fill="#21908d"/>
<circle cx="679.7" cy="178.4" r="1.55" fill="#fde725"/>
<circle cx="647.7" cy="141.3" r="1.55" fill="#482979"/>
<circle cx="650.2" cy="140.5" r="1.55" fill="#355e8d"/>
<circle cx="666.5" cy="123.8" r="1.55" fill="#375b8d"/>
<circle cx="658.8" cy="144.5" r="1.55" fill="#33628d"/>
<circle cx="667.4" cy="153.6" r="1.55" fill="#1f9e89"/>
<circle cx="647.2" cy="144.5" r="1.55" fill="#472d7b"/>
<circle cx="671.6" cy="160.1" r="1.55" fill="#34b679"/>
<circle cx="654.2" cy="132.2" r="1.55" fill="#3f4788"/>
<circle cx="662.1" cy="156.1" r="1.55" fill="#306a8e"/>
<circle cx="660.5" cy="130.3" r="1.55" fill="#3a538b"/>
<circle cx="648.2" cy="145.6" r="1.55" fill="#355f8d"/>
<circle cx="667.4" cy="161.8" r="1.55" fill="#4ec36b"/>
<circle cx="669.1" cy="145.7" r="1.55" fill="#29798e"/>
<circle cx="664.1" cy="132.1" r="1.55" fill="#355f8d"/>
<circle cx="665.7" cy="150.6" r="1.55" fill="#2a788e"/>
<circle cx="670.3" cy="159.4" r="1.55" fill="#42be71"/>
<circle cx="638.7" cy="141.7" r="1.55" fill="#472e7c"/>
<circle cx="646.3" cy="141.8" r="1.55" fill="#482576"/>
<circle cx="673.1" cy="171.5" r="1.55" fill="#cae11f"/>
<circle cx="655.5" cy="138.2" r="1.55" fill="#3a538b"/>
<circle cx="675.0" cy="161.4" r="1.55" fill="#65cb5e"/>
<circle cx="668.7" cy="147.7" r="1.55" fill="#297b8e"/>
<circle cx="649.9" cy="149.7" r="1.55" fill="#33638d"/>
<circle cx="666.6" cy="150.1" r="1.55" fill="#297b8e"/>
<circle cx="646.4" cy="145.0" r="1.55" fill="#3a548c"/>
<circle cx="669.5" cy="130.2" r="1.55" fill="#375b8d"/>
<circle cx="659.3" cy="131.7" r="1.55" fill="#365c8d"/>
<circle cx="672.6" cy="172.5" r="1.55" fill="#d8e219"/>
<circle cx="657.8" cy="153.6" r="1.55" fill="#2f6b8e"/>
<circle cx="668.2" cy="156.3" r="1.55" fill="#1e9c89"/>
<circle cx="650.5" cy="149.6" r="1.55" fill="#3a548c"/>
<circle cx="648.2" cy="135.6" r="1.55" fill="#404588"/>
<circle cx="678.8" cy="174.6" r="1.55" fill="#fde725"/>
<circle cx="638.9" cy="145.8" r="1.55" fill="#482374"/>
<circle cx="668.7" cy="113.3" r="1.55" fill="#3c4f8a"/>
<circle cx="632.1" cy="145.6" r="1.55" fill="#482475"/>
<circle cx="660.5" cy="128.1" r="1.55" fill="#34608d"/>
<circle cx="670.5" cy="148.0" r="1.55" fill="#25858e"/>
<circle cx="672.0" cy="162.2" r="1.55" fill="#56c667"/>
<circle cx="659.3" cy="150.8" r="1.55" fill="#30698e"/>
<circle cx="649.9" cy="142.0" r="1.55" fill="#365c8d"/>
<circle cx="665.6" cy="135.1" r="1.55" fill="#31678e"/>
<circle cx="625.2" cy="145.1" r="1.55" fill="#482576"/>
<circle cx="622.3" cy="144.6" r="1.55" fill="#481c6e"/>
<circle cx="664.8" cy="125.8" r="1.55" fill="#34608d"/>
<circle cx="665.5" cy="159.3" r="1.55" fill="#20a486"/>
<circle cx="672.9" cy="130.0" r="1.55" fill="#33628d"/>
<circle cx="657.6" cy="153.6" r="1.55" fill="#2e6d8e"/>
<circle cx="624.6" cy="146.9" r="1.55" fill="#481d6f"/>
<circle cx="671.3" cy="157.6" r="1.55" fill="#23a983"/>
<circle cx="665.1" cy="155.0" r="1.55" fill="#1e9d89"/>
<circle cx="672.9" cy="122.5" r="1.55" fill="#31688e"/>
<circle cx="664.2" cy="127.2" r="1.55" fill="#38598c"/>
<circle cx="611.9" cy="147.4" r="1.55" fill="#481d6f"/>
<circle cx="673.7" cy="124.5" r="1.55" fill="#31668e"/>
<circle cx="638.4" cy="142.3" r="1.55" fill="#482576"/>
<circle cx="641.9" cy="138.9" r="1.55" fill="#472f7d"/>
<circle cx="675.6" cy="166.2" r="1.55" fill="#8ed645"/>
<circle cx="628.8" cy="142.7" r="1.55" fill="#482576"/>
<circle cx="671.3" cy="114.9" r="1.55" fill="#34618d"/>
<circle cx="630.1" cy="144.2" r="1.55" fill="#482979"/>
<circle cx="647.6" cy="138.8" r="1.55" fill="#46307e"/>
<circle cx="659.7" cy="128.2" r="1.55" fill="#3c508b"/>
<circle cx="663.4" cy="154.0" r="1.55" fill="#228d8d"/>
<circle cx="626.2" cy="148.3" r="1.55" fill="#482576"/>
<circle cx="662.7" cy="154.7" r="1.55" fill="#21918c"/>
<circle cx="614.4" cy="146.6" r="1.55" fill="#481467"/>
<circle cx="665.5" cy="156.9" r="1.55" fill="#1fa088"/>
<circle cx="641.6" cy="142.4" r="1.55" fill="#472a7a"/>
<circle cx="672.1" cy="115.4" r="1.55" fill="#3b518b"/>
<circle cx="660.3" cy="135.5" r="1.55" fill="#38588c"/>
<circle cx="655.3" cy="134.3" r="1.55" fill="#38588c"/>
<circle cx="671.8" cy="129.2" r="1.55" fill="#31678e"/>
<circle cx="675.2" cy="169.8" r="1.55" fill="#d2e21b"/>
<circle cx="670.4" cy="120.7" r="1.55" fill="#3a538b"/>
<circle cx="670.7" cy="127.1" r="1.55" fill="#33628d"/>
<circle cx="658.9" cy="154.3" r="1.55" fill="#31668e"/>
<circle cx="650.3" cy="137.3" r="1.55" fill="#3f4889"/>
<circle cx="650.2" cy="145.9" r="1.55" fill="#33638d"/>
<circle cx="661.3" cy="120.3" r="1.55" fill="#375a8c"/>
<circle cx="666.9" cy="158.8" r="1.55" fill="#2eb37c"/>
<circle cx="673.3" cy="162.9" r="1.55" fill="#60ca60"/>
<circle cx="666.7" cy="131.1" r="1.55" fill="#39568c"/>
<circle cx="664.7" cy="152.8" r="1.55" fill="#25838e"/>
<circle cx="664.0" cy="122.8" r="1.55" fill="#365d8d"/>
<circle cx="660.7" cy="156.8" r="1.55" fill="#2c728e"/>
<circle cx="661.9" cy="127.5" r="1.55" fill="#375b8d"/>
<circle cx="668.3" cy="148.8" r="1.55" fill="#2b758e"/>
<circle cx="680.5" cy="175.6" r="1.55" fill="#fde725"/>
<circle cx="652.0" cy="129.3" r="1.55" fill="#3c508b"/>
<circle cx="653.5" cy="130.0" r="1.55" fill="#3b518b"/>
<circle cx="664.5" cy="133.7" r="1.55" fill="#375b8d"/>
<circle cx="670.2" cy="132.8" r="1.55" fill="#355e8d"/>
<circle cx="678.1" cy="178.3" r="1.55" fill="#fde725"/>
<circle cx="633.6" cy="145.9" r="1.55" fill="#482475"/>
<circle cx="676.9" cy="176.8" r="1.55" fill="#fde725"/>
<circle cx="664.8" cy="130.4" r="1.55" fill="#32658e"/>
<circle cx="669.5" cy="150.1" r="1.55" fill="#287c8e"/>
<circle cx="651.0" cy="133.2" r="1.55" fill="#3e4989"/>
<circle cx="621.8" cy="146.1" r="1.55" fill="#481769"/>
<circle cx="649.2" cy="143.6" r="1.55" fill="#38588c"/>
<circle cx="678.0" cy="181.2" r="1.55" fill="#fde725"/>
<circle cx="664.4" cy="127.5" r="1.55" fill="#355f8d"/>
<circle cx="663.2" cy="134.8" r="1.55" fill="#34608d"/>
<circle cx="671.6" cy="159.9" r="1.55" fill="#3dbc74"/>
<circle cx="672.4" cy="133.2" r="1.55" fill="#34608d"/>
<circle cx="665.7" cy="157.7" r="1.55" fill="#1fa287"/>
<circle cx="668.9" cy="152.5" r="1.55" fill="#21908d"/>
<circle cx="674.9" cy="161.7" r="1.55" fill="#67cc5c"/>
<circle cx="670.5" cy="136.9" r="1.55" fill="#33638d"/>
<circle cx="674.8" cy="166.6" r="1.55" fill="#81d34d"/>
<circle cx="662.7" cy="114.9" r="1.55" fill="#3c508b"/>
<circle cx="660.3" cy="145.7" r="1.55" fill="#2f6b8e"/>
<circle cx="667.3" cy="121.1" r="1.55" fill="#3d4e8a"/>
<circle cx="653.7" cy="125.0" r="1.55" fill="#3c508b"/>
<circle cx="671.0" cy="167.7" r="1.55" fill="#aadc32"/>
<circle cx="674.7" cy="170.3" r="1.55" fill="#c0df25"/>
<circle cx="675.7" cy="165.8" r="1.55" fill="#8ed645"/>
<circle cx="672.2" cy="158.6" r="1.55" fill="#3aba76"/>
<circle cx="655.1" cy="136.3" r="1.55" fill="#3d4e8a"/>
<circle cx="656.4" cy="146.6" r="1.55" fill="#355f8d"/>
<circle cx="680.5" cy="175.4" r="1.55" fill="#fde725"/>
<circle cx="670.0" cy="120.5" r="1.55" fill="#375b8d"/>
<circle cx="668.1" cy="154.6" r="1.55" fill="#1fa088"/>
<circle cx="625.9" cy="147.9" r="1.55" fill="#482677"/>
<circle cx="665.5" cy="123.4" r="1.55" fill="#355e8d"/>
<circle cx="667.6" cy="130.1" r="1.55" fill="#33628d"/>
<circle cx="655.8" cy="151.2" r="1.55" fill="#355e8d"/>
<circle cx="666.0" cy="151.9" r="1.55" fill="#23898e"/>
<circle cx="660.8" cy="133.9" r="1.55" fill="#375b8d"/>
<circle cx="651.7" cy="138.8" r="1.55" fill="#3e4c8a"/>
<circle cx="661.8" cy="116.0" r="1.55" fill="#414287"/>
<circle cx="672.3" cy="161.0" r="1.55" fill="#48c16e"/>
<circle cx="672.5" cy="128.8" r="1.55" fill="#30698e"/>
<circle cx="671.9" cy="153.2" r="1.55" fill="#1f988b"/>
<circle cx="666.5" cy="117.4" r="1.55" fill="#355e8d"/>
<circle cx="663.0" cy="115.1" r="1.55" fill="#3e4a89"/>
<circle cx="647.3" cy="144.3" r="1.55" fill="#46337f"/>
<circle cx="656.3" cy="121.8" r="1.55" fill="#3b518b"/>
<circle cx="665.0" cy="131.5" r="1.55" fill="#39558c"/>
<circle cx="667.5" cy="152.7" r="1.55" fill="#1f978b"/>
<circle cx="665.6" cy="149.1" r="1.55" fill="#25838e"/>
<circle cx="666.4" cy="157.1" r="1.55" fill="#1e9d89"/>
<circle cx="643.1" cy="145.1" r="1.55" fill="#482878"/>
<circle cx="657.8" cy="153.0" r="1.55" fill="#2e6e8e"/>
<circle cx="677.6" cy="180.9" r="1.55" fill="#fde725"/>
<circle cx="653.0" cy="129.2" r="1.55" fill="#39558c"/>
<circle cx="650.3" cy="130.5" r="1.55" fill="#3c508b"/>
<circle cx="667.7" cy="150.5" r="1.55" fill="#2e6f8e"/>
<circle cx="671.3" cy="162.4" r="1.55" fill="#50c46a"/>
<circle cx="674.8" cy="167.6" r="1.55" fill="#bddf26"/>
<circle cx="672.1" cy="167.3" r="1.55" fill="#98d83e"/>
<circle cx="645.2" cy="137.9" r="1.55" fill="#482576"/>
<circle cx="669.5" cy="117.8" r="1.55" fill="#39558c"/>
<circle cx="667.2" cy="152.4" r="1.55" fill="#238a8d"/>
<circle cx="637.2" cy="145.6" r="1.55" fill="#482173"/>
<circle cx="616.2" cy="148.6" r="1.55" fill="#481c6e"/>
<circle cx="627.8" cy="142.4" r="1.55" fill="#481d6f"/>
<circle cx="621.6" cy="144.5" r="1.55" fill="#482677"/>
<circle cx="622.8" cy="148.2" r="1.55" fill="#481f70"/>
<circle cx="649.7" cy="140.4" r="1.55" fill="#3a548c"/>
<circle cx="660.0" cy="145.2" r="1.55" fill="#31688e"/>
<circle cx="615.9" cy="146.2" r="1.55" fill="#481668"/>
<circle cx="674.7" cy="174.0" r="1.55" fill="#fde725"/>
<circle cx="666.7" cy="157.3" r="1.55" fill="#22a785"/>
<circle cx="662.0" cy="149.4" r="1.55" fill="#2e6e8e"/>
<circle cx="654.3" cy="124.3" r="1.55" fill="#424086"/>
<circle cx="656.3" cy="129.4" r="1.55" fill="#3b528b"/>
<circle cx="640.9" cy="145.3" r="1.55" fill="#472c7a"/>
<circle cx="622.6" cy="145.6" r="1.55" fill="#481c6e"/>
<circle cx="661.4" cy="127.4" r="1.55" fill="#3a548c"/>
<circle cx="653.4" cy="127.8" r="1.55" fill="#39558c"/>
<circle cx="667.7" cy="127.8" r="1.55" fill="#39558c"/>
<circle cx="655.5" cy="137.9" r="1.55" fill="#38588c"/>
<circle cx="630.5" cy="144.8" r="1.55" fill="#482576"/>
<circle cx="612.1" cy="149.4" r="1.55" fill="#471365"/>
<circle cx="634.2" cy="144.6" r="1.55" fill="#482475"/>
<circle cx="669.0" cy="138.4" r="1.55" fill="#2c728e"/>
<circle cx="634.2" cy="140.3" r="1.55" fill="#482576"/>
<circle cx="668.2" cy="123.1" r="1.55" fill="#38588c"/>
<circle cx="657.0" cy="127.0" r="1.55" fill="#3e4a89"/>
<circle cx="650.2" cy="145.3" r="1.55" fill="#39558c"/>
<circle cx="670.2" cy="166.9" r="1.55" fill="#7fd34e"/>
<circle cx="636.6" cy="139.9" r="1.55" fill="#482475"/>
<circle cx="657.6" cy="145.8" r="1.55" fill="#33638d"/>
<circle cx="652.5" cy="129.5" r="1.55" fill="#3c4f8a"/>
<circle cx="665.7" cy="150.1" r="1.55" fill="#2b748e"/>
<circle cx="668.2" cy="142.4" r="1.55" fill="#2c728e"/>
<circle cx="653.9" cy="132.9" r="1.55" fill="#3e4c8a"/>
<circle cx="670.1" cy="128.0" r="1.55" fill="#38588c"/>
<circle cx="633.6" cy="143.2" r="1.55" fill="#482475"/>
<circle cx="675.0" cy="169.4" r="1.55" fill="#bade28"/>
<circle cx="649.5" cy="131.0" r="1.55" fill="#414287"/>
<circle cx="664.3" cy="144.7" r="1.55" fill="#306a8e"/>
<circle cx="671.4" cy="127.1" r="1.55" fill="#34618d"/>
<circle cx="619.1" cy="145.1" r="1.55" fill="#481f70"/>
<circle cx="664.7" cy="129.0" r="1.55" fill="#38598c"/>
<circle cx="653.4" cy="150.8" r="1.55" fill="#34608d"/>
<circle cx="670.0" cy="124.1" r="1.55" fill="#3a548c"/>
<circle cx="663.7" cy="119.8" r="1.55" fill="#3e4989"/>
<circle cx="669.1" cy="161.5" r="1.55" fill="#42be71"/>
<circle cx="670.6" cy="164.8" r="1.55" fill="#5ac864"/>
<circle cx="617.6" cy="148.7" r="1.55" fill="#482475"/>
<circle cx="630.7" cy="141.7" r="1.55" fill="#481d6f"/>
<circle cx="662.8" cy="143.6" r="1.55" fill="#2d718e"/>
<circle cx="624.2" cy="148.2" r="1.55" fill="#482475"/>
<circle cx="660.3" cy="116.5" r="1.55" fill="#3e4989"/>
<circle cx="642.2" cy="142.6" r="1.55" fill="#482878"/>
<circle cx="668.5" cy="148.9" r="1.55" fill="#25838e"/>
<circle cx="648.9" cy="132.1" r="1.55" fill="#3f4788"/>
<circle cx="668.7" cy="165.5" r="1.55" fill="#5ec962"/>
<circle cx="665.8" cy="155.3" r="1.55" fill="#1f988b"/>
<circle cx="654.4" cy="137.1" r="1.55" fill="#3a538b"/>
<circle cx="643.5" cy="139.0" r="1.55" fill="#472e7c"/>
<circle cx="667.2" cy="152.0" r="1.55" fill="#20928c"/>
<circle cx="647.6" cy="136.0" r="1.55" fill="#39558c"/>
<circle cx="642.7" cy="143.8" r="1.55" fill="#46307e"/>
<circle cx="668.8" cy="162.4" r="1.55" fill="#40bd72"/>
<circle cx="665.6" cy="153.9" r="1.55" fill="#1f948c"/>
<circle cx="653.8" cy="154.3" r="1.55" fill="#32648e"/>
<circle cx="614.7" cy="147.6" r="1.55" fill="#481467"/>
<circle cx="656.4" cy="156.0" r="1.55" fill="#2d718e"/>
<circle cx="656.4" cy="138.2" r="1.55" fill="#3b518b"/>
<circle cx="642.5" cy="138.9" r="1.55" fill="#482576"/>
<circle cx="635.3" cy="142.7" r="1.55" fill="#472c7a"/>
<circle cx="649.3" cy="141.9" r="1.55" fill="#355f8d"/>
<circle cx="661.4" cy="132.6" r="1.55" fill="#375a8c"/>
<circle cx="668.5" cy="145.1" r="1.55" fill="#2a778e"/>
<circle cx="665.0" cy="152.6" r="1.55" fill="#21908d"/>
<circle cx="661.1" cy="136.8" r="1.55" fill="#31678e"/>
<circle cx="622.3" cy="145.3" r="1.55" fill="#481f70"/>
<circle cx="669.0" cy="147.8" r="1.55" fill="#2a778e"/>
<circle cx="632.2" cy="141.3" r="1.55" fill="#482878"/>
<circle cx="665.2" cy="135.8" r="1.55" fill="#32658e"/>
<circle cx="620.0" cy="144.8" r="1.55" fill="#482576"/>
<circle cx="635.6" cy="142.6" r="1.55" fill="#482173"/>
<circle cx="667.8" cy="136.7" r="1.55" fill="#31668e"/>
<circle cx="654.2" cy="156.1" r="1.55" fill="#34618d"/>
<circle cx="658.8" cy="122.9" r="1.55" fill="#414487"/>
<circle cx="678.0" cy="179.1" r="1.55" fill="#fde725"/>
<circle cx="657.4" cy="120.0" r="1.55" fill="#3c4f8a"/>
<circle cx="651.4" cy="136.2" r="1.55" fill="#375b8d"/>
<circle cx="663.9" cy="120.5" r="1.55" fill="#3a548c"/>
<circle cx="653.5" cy="143.1" r="1.55" fill="#355e8d"/>
<circle cx="632.4" cy="146.7" r="1.55" fill="#482878"/>
<circle cx="666.4" cy="149.6" r="1.55" fill="#2a768e"/>
<circle cx="667.4" cy="146.5" r="1.55" fill="#31678e"/>
<circle cx="651.9" cy="128.1" r="1.55" fill="#424086"/>
<circle cx="676.8" cy="174.0" r="1.55" fill="#fde725"/>
<circle cx="659.1" cy="152.8" r="1.55" fill="#32648e"/>
<circle cx="663.4" cy="143.9" r="1.55" fill="#32658e"/>
<circle cx="669.3" cy="134.3" r="1.55" fill="#2f6b8e"/>
<circle cx="676.4" cy="174.3" r="1.55" fill="#fde725"/>
<circle cx="666.4" cy="154.4" r="1.55" fill="#2a788e"/>
<circle cx="663.1" cy="137.6" r="1.55" fill="#375a8c"/>
<circle cx="669.2" cy="151.5" r="1.55" fill="#2b748e"/>
<circle cx="670.0" cy="154.6" r="1.55" fill="#1f9a8a"/>
<circle cx="638.9" cy="146.0" r="1.55" fill="#472a7a"/>
<circle cx="665.5" cy="138.9" r="1.55" fill="#34608d"/>
<circle cx="627.1" cy="147.0" r="1.55" fill="#482979"/>
<circle cx="674.8" cy="160.7" r="1.55" fill="#56c667"/>
<circle cx="666.4" cy="144.9" r="1.55" fill="#2c738e"/>
<circle cx="672.9" cy="114.0" r="1.55" fill="#3a548c"/>
<circle cx="648.3" cy="148.7" r="1.55" fill="#32648e"/>
<circle cx="613.4" cy="149.9" r="1.55" fill="#482071"/>
<circle cx="632.1" cy="144.2" r="1.55" fill="#472a7a"/>
<circle cx="674.5" cy="167.8" r="1.55" fill="#b0dd2f"/>
<circle cx="658.7" cy="135.8" r="1.55" fill="#33628d"/>
<circle cx="632.0" cy="146.1" r="1.55" fill="#482173"/>
<circle cx="671.5" cy="126.4" r="1.55" fill="#32658e"/>
<circle cx="671.5" cy="161.9" r="1.55" fill="#44bf70"/>
<circle cx="646.6" cy="135.9" r="1.55" fill="#482677"/>
<circle cx="669.7" cy="147.3" r="1.55" fill="#277f8e"/>
<circle cx="673.2" cy="118.2" r="1.55" fill="#32658e"/>
<circle cx="655.9" cy="126.9" r="1.55" fill="#39568c"/>
<circle cx="667.7" cy="115.3" r="1.55" fill="#3e4a89"/>
<circle cx="657.3" cy="132.6" r="1.55" fill="#355e8d"/>
<circle cx="663.4" cy="128.9" r="1.55" fill="#375b8d"/>
<circle cx="669.9" cy="116.2" r="1.55" fill="#3a538b"/>
<circle cx="663.0" cy="135.0" r="1.55" fill="#365d8d"/>
<circle cx="653.0" cy="135.7" r="1.55" fill="#3e4a89"/>
<circle cx="625.9" cy="146.0" r="1.55" fill="#482475"/>
<circle cx="668.0" cy="133.7" r="1.55" fill="#2f6c8e"/>
<circle cx="640.4" cy="142.8" r="1.55" fill="#482173"/>
<circle cx="674.1" cy="119.3" r="1.55" fill="#31688e"/>
<circle cx="664.4" cy="134.0" r="1.55" fill="#355f8d"/>
<circle cx="633.6" cy="143.9" r="1.55" fill="#482071"/>
<circle cx="671.2" cy="153.4" r="1.55" fill="#1f978b"/>
<circle cx="667.5" cy="133.4" r="1.55" fill="#375b8d"/>
<circle cx="671.2" cy="118.3" r="1.55" fill="#34608d"/>
<circle cx="617.7" cy="149.0" r="1.55" fill="#482071"/>
<circle cx="635.7" cy="143.4" r="1.55" fill="#482878"/>
<circle cx="668.8" cy="119.2" r="1.55" fill="#3d4e8a"/>
<circle cx="670.7" cy="168.1" r="1.55" fill="#a5db36"/>
<circle cx="626.3" cy="142.7" r="1.55" fill="#482374"/>
<circle cx="661.3" cy="155.4" r="1.55" fill="#2a768e"/>
<circle cx="660.9" cy="119.8" r="1.55" fill="#3a548c"/>
<circle cx="660.0" cy="135.8" r="1.55" fill="#39568c"/>
<circle cx="613.7" cy="148.3" r="1.55" fill="#481b6d"/>
<circle cx="625.1" cy="146.1" r="1.55" fill="#482071"/>
<circle cx="646.1" cy="124.8" r="1.55" fill="#482475"/>
<circle cx="664.9" cy="124.5" r="1.55" fill="#355e8d"/>
<circle cx="666.7" cy="124.3" r="1.55" fill="#365d8d"/>
<circle cx="675.8" cy="175.8" r="1.55" fill="#fde725"/>
<circle cx="679.1" cy="175.2" r="1.55" fill="#fde725"/>
<circle cx="663.3" cy="146.7" r="1.55" fill="#32648e"/>
<circle cx="619.0" cy="149.6" r="1.55" fill="#482576"/>
<circle cx="655.8" cy="145.6" r="1.55" fill="#32648e"/>
<circle cx="666.0" cy="133.4" r="1.55" fill="#375a8c"/>
<circle cx="621.7" cy="145.4" r="1.55" fill="#48186a"/>
<circle cx="643.3" cy="144.6" r="1.55" fill="#472d7b"/>
<circle cx="642.0" cy="138.7" r="1.55" fill="#482475"/>
<circle cx="656.8" cy="156.1" r="1.55" fill="#31678e"/>
<circle cx="657.0" cy="144.1" r="1.55" fill="#375b8d"/>
<circle cx="644.8" cy="137.7" r="1.55" fill="#46307e"/>
<circle cx="628.8" cy="146.8" r="1.55" fill="#482576"/>
<circle cx="635.1" cy="146.7" r="1.55" fill="#482173"/>
<circle cx="674.7" cy="171.3" r="1.55" fill="#c8e020"/>
<circle cx="646.1" cy="141.3" r="1.55" fill="#375a8c"/>
<circle cx="655.1" cy="123.0" r="1.55" fill="#3c508b"/>
<circle cx="615.5" cy="149.2" r="1.55" fill="#481467"/>
<circle cx="672.2" cy="162.0" r="1.55" fill="#40bd72"/>
<circle cx="669.2" cy="119.6" r="1.55" fill="#365d8d"/>
<circle cx="671.6" cy="160.7" r="1.55" fill="#37b878"/>
<circle cx="641.8" cy="142.2" r="1.55" fill="#472c7a"/>
<circle cx="657.4" cy="128.1" r="1.55" fill="#3b528b"/>
<circle cx="654.8" cy="144.7" r="1.55" fill="#31688e"/>
<circle cx="656.4" cy="129.6" r="1.55" fill="#3b518b"/>
<circle cx="664.8" cy="140.5" r="1.55" fill="#2e6e8e"/>
<circle cx="618.0" cy="149.1" r="1.55" fill="#482374"/>
<circle cx="661.6" cy="115.8" r="1.55" fill="#414287"/>
<circle cx="633.5" cy="147.1" r="1.55" fill="#481f70"/>
<circle cx="654.7" cy="124.8" r="1.55" fill="#3d4d8a"/>
<circle cx="655.2" cy="131.1" r="1.55" fill="#365c8d"/>
<circle cx="643.9" cy="140.5" r="1.55" fill="#46307e"/>
<circle cx="672.1" cy="154.1" r="1.55" fill="#20a386"/>
<circle cx="671.8" cy="124.7" r="1.55" fill="#33638d"/>
<circle cx="652.8" cy="152.1" r="1.55" fill="#365c8d"/>
<circle cx="674.9" cy="173.7" r="1.55" fill="#e7e419"/>
<circle cx="652.3" cy="153.5" r="1.55" fill="#34618d"/>
<circle cx="660.4" cy="146.9" r="1.55" fill="#2f6c8e"/>
<circle cx="668.4" cy="135.3" r="1.55" fill="#355e8d"/>
<circle cx="673.2" cy="114.5" r="1.55" fill="#375b8d"/>
<circle cx="624.3" cy="145.5" r="1.55" fill="#482173"/>
<circle cx="668.7" cy="164.9" r="1.55" fill="#58c765"/>
<circle cx="635.4" cy="146.3" r="1.55" fill="#482374"/>
<circle cx="645.4" cy="140.2" r="1.55" fill="#482374"/>
<circle cx="659.7" cy="143.0" r="1.55" fill="#2e6d8e"/>
<circle cx="625.4" cy="143.0" r="1.55" fill="#482878"/>
<circle cx="679.2" cy="180.9" r="1.55" fill="#fde725"/>
<circle cx="663.2" cy="129.7" r="1.55" fill="#3a548c"/>
<circle cx="654.6" cy="131.9" r="1.55" fill="#3c4f8a"/>
<circle cx="673.5" cy="120.6" r="1.55" fill="#355e8d"/>
<circle cx="678.2" cy="177.7" r="1.55" fill="#fde725"/>
<circle cx="635.8" cy="140.7" r="1.55" fill="#472c7a"/>
<circle cx="649.5" cy="141.3" r="1.55" fill="#3d4d8a"/>
<circle cx="653.5" cy="125.0" r="1.55" fill="#3d4e8a"/>
<circle cx="634.5" cy="145.7" r="1.55" fill="#482374"/>
<circle cx="664.5" cy="150.7" r="1.55" fill="#306a8e"/>
<circle cx="642.7" cy="139.2" r="1.55" fill="#472c7a"/>
<circle cx="617.1" cy="146.1" r="1.55" fill="#481467"/>
<circle cx="659.6" cy="136.9" r="1.55" fill="#39558c"/>
<circle cx="668.4" cy="161.9" r="1.55" fill="#37b878"/>
<circle cx="648.2" cy="143.8" r="1.55" fill="#472c7a"/>
<circle cx="666.9" cy="113.6" r="1.55" fill="#375b8d"/>
<circle cx="663.5" cy="128.7" r="1.55" fill="#38598c"/>
<circle cx="664.4" cy="113.5" r="1.55" fill="#3e4989"/>
<circle cx="675.0" cy="123.2" r="1.55" fill="#365d8d"/>
<circle cx="668.6" cy="143.7" r="1.55" fill="#2a778e"/>
<circle cx="618.7" cy="147.1" r="1.55" fill="#48186a"/>
<circle cx="657.7" cy="131.8" r="1.55" fill="#38588c"/>
<circle cx="675.1" cy="167.7" r="1.55" fill="#a5db36"/>
<circle cx="631.8" cy="141.5" r="1.55" fill="#482374"/>
<circle cx="672.8" cy="170.2" r="1.55" fill="#c5e021"/>
<circle cx="671.4" cy="167.5" r="1.55" fill="#9dd93b"/>
<circle cx="664.2" cy="130.7" r="1.55" fill="#39568c"/>
<circle cx="656.8" cy="139.0" r="1.55" fill="#375a8c"/>
<circle cx="620.2" cy="147.9" r="1.55" fill="#482475"/>
<circle cx="671.9" cy="130.4" r="1.55" fill="#2e6f8e"/>
<circle cx="641.3" cy="140.0" r="1.55" fill="#472e7c"/>
<circle cx="664.7" cy="153.8" r="1.55" fill="#20928c"/>
<circle cx="654.9" cy="143.2" r="1.55" fill="#375a8c"/>
<circle cx="672.7" cy="132.9" r="1.55" fill="#33628d"/>
<circle cx="612.7" cy="147.9" r="1.55" fill="#481b6d"/>
<circle cx="667.3" cy="132.0" r="1.55" fill="#31678e"/>
<circle cx="662.2" cy="143.7" r="1.55" fill="#2e6f8e"/>
<circle cx="667.9" cy="133.4" r="1.55" fill="#355e8d"/>
<circle cx="671.5" cy="161.0" r="1.55" fill="#4ac16d"/>
<circle cx="664.5" cy="155.9" r="1.55" fill="#2e6e8e"/>
<circle cx="670.2" cy="157.1" r="1.55" fill="#24aa83"/>
<circle cx="672.1" cy="164.9" r="1.55" fill="#69cd5b"/>
<circle cx="660.0" cy="148.2" r="1.55" fill="#2f6c8e"/>
<circle cx="664.5" cy="116.1" r="1.55" fill="#3f4788"/>
<circle cx="652.2" cy="137.6" r="1.55" fill="#355e8d"/>
<circle cx="633.9" cy="144.1" r="1.55" fill="#482475"/>
<circle cx="642.8" cy="143.5" r="1.55" fill="#482677"/>
<circle cx="672.4" cy="123.6" r="1.55" fill="#34608d"/>
<circle cx="664.3" cy="155.1" r="1.55" fill="#2c738e"/>
<circle cx="620.6" cy="146.6" r="1.55" fill="#481a6c"/>
<circle cx="644.3" cy="137.2" r="1.55" fill="#482475"/>
<circle cx="648.6" cy="142.1" r="1.55" fill="#472d7b"/>
<circle cx="635.9" cy="146.1" r="1.55" fill="#472a7a"/>
<circle cx="661.2" cy="134.8" r="1.55" fill="#3a538b"/>
<circle cx="678.3" cy="173.4" r="1.55" fill="#fde725"/>
<circle cx="668.5" cy="163.9" r="1.55" fill="#65cb5e"/>
<circle cx="617.8" cy="148.3" r="1.55" fill="#481a6c"/>
<circle cx="615.5" cy="149.8" r="1.55" fill="#48186a"/>
<circle cx="620.0" cy="148.2" r="1.55" fill="#481d6f"/>
<circle cx="670.2" cy="116.9" r="1.55" fill="#3b528b"/>
<circle cx="642.7" cy="144.2" r="1.55" fill="#482677"/>
<circle cx="659.4" cy="153.8" r="1.55" fill="#33638d"/>
<circle cx="655.1" cy="127.5" r="1.55" fill="#3e4989"/>
<circle cx="648.3" cy="140.8" r="1.55" fill="#3d4e8a"/>
<circle cx="640.3" cy="140.9" r="1.55" fill="#472d7b"/>
<circle cx="673.5" cy="163.0" r="1.55" fill="#58c765"/>
<circle cx="670.3" cy="159.4" r="1.55" fill="#3dbc74"/>
<circle cx="642.9" cy="142.2" r="1.55" fill="#482677"/>
<circle cx="669.3" cy="150.0" r="1.55" fill="#26828e"/>
<circle cx="650.1" cy="137.0" r="1.55" fill="#3d4d8a"/>
<circle cx="661.9" cy="122.1" r="1.55" fill="#3e4c8a"/>
<circle cx="669.0" cy="142.3" r="1.55" fill="#2b748e"/>
<circle cx="646.6" cy="135.5" r="1.55" fill="#3e4a89"/>
<circle cx="616.8" cy="147.3" r="1.55" fill="#481668"/>
<circle cx="631.3" cy="142.6" r="1.55" fill="#481f70"/>
<circle cx="623.5" cy="145.7" r="1.55" fill="#482576"/>
<circle cx="677.4" cy="172.3" r="1.55" fill="#dfe318"/>
<circle cx="664.6" cy="116.2" r="1.55" fill="#38588c"/>
<circle cx="653.7" cy="134.2" r="1.55" fill="#3c508b"/>
<circle cx="642.5" cy="139.2" r="1.55" fill="#46307e"/>
<circle cx="673.6" cy="130.8" r="1.55" fill="#355e8d"/>
<circle cx="670.3" cy="155.6" r="1.55" fill="#22a785"/>
<circle cx="668.9" cy="127.5" r="1.55" fill="#38598c"/>
<circle cx="646.8" cy="142.5" r="1.55" fill="#365d8d"/>
<circle cx="674.5" cy="160.5" r="1.55" fill="#42be71"/>
</g>
<line x1="520.50" y1="162.50" x2="520.50" y2="185.20" stroke="#111" stroke-width="1.20"/>
<line x1="519.90" y1="184.60" x2="542.80" y2="184.60" stroke="#111" stroke-width="1.20"/>
<line x1="608.50" y1="163.30" x2="608.50" y2="185.20" stroke="#111" stroke-width="1.20"/>
<line x1="607.90" y1="184.60" x2="630.40" y2="184.60" stroke="#111" stroke-width="1.20"/>
<text transform="translate(509.2,156) rotate(-90)" font-size="9.8" text-anchor="middle" fill="#151515">PC 2</text>
<text x="589.6" y="208.6" font-size="9.50" text-anchor="middle" fill="#151515">PC 1</text>
<rect x="620.4" y="207" width="58" height="11.4" fill="url(#vgh)"/>
<line x1="632.00" y1="207.00" x2="632.00" y2="209.00" stroke="#fff" stroke-width="0.60"/>
<line x1="632.00" y1="216.40" x2="632.00" y2="218.40" stroke="#fff" stroke-width="0.60"/>
<line x1="643.60" y1="207.00" x2="643.60" y2="209.00" stroke="#fff" stroke-width="0.60"/>
<line x1="643.60" y1="216.40" x2="643.60" y2="218.40" stroke="#fff" stroke-width="0.60"/>
<line x1="655.20" y1="207.00" x2="655.20" y2="209.00" stroke="#fff" stroke-width="0.60"/>
<line x1="655.20" y1="216.40" x2="655.20" y2="218.40" stroke="#fff" stroke-width="0.60"/>
<line x1="666.80" y1="207.00" x2="666.80" y2="209.00" stroke="#fff" stroke-width="0.60"/>
<line x1="666.80" y1="216.40" x2="666.80" y2="218.40" stroke="#fff" stroke-width="0.60"/>
<text x="620.3" y="229.8" font-size="9.00" text-anchor="middle" fill="#151515">Low</text>
<text x="664.4" y="229.8" font-size="9.00" text-anchor="start" fill="#151515">High</text>
<text x="5.2" y="256.4" font-size="8.50" text-anchor="start" fill="#111" style="font-weight:bold">c</text>
<line x1="55.30" y1="249.00" x2="55.30" y2="455.50" stroke="#111" stroke-width="1.50"/>
<line x1="54.60" y1="454.90" x2="603.60" y2="454.90" stroke="#111" stroke-width="1.50"/>
<line x1="52.20" y1="257.50" x2="55.30" y2="257.50" stroke="#111" stroke-width="1.00"/>
<text x="45.8" y="261.0" font-size="9.50" text-anchor="end" fill="#151515">135F<tspan font-size="5.50" dy="3.6">2</tspan></text>
<line x1="52.20" y1="271.01" x2="55.30" y2="271.01" stroke="#111" stroke-width="1.00"/>
<text x="45.8" y="274.5" font-size="9.50" text-anchor="end" fill="#151515">13F<tspan font-size="5.50" dy="3.6">2</tspan></text>
<line x1="52.20" y1="284.52" x2="55.30" y2="284.52" stroke="#111" stroke-width="1.00"/>
<text x="45.8" y="288.0" font-size="9.50" text-anchor="end" fill="#151515">10F<tspan font-size="5.50" dy="3.6">2</tspan></text>
<line x1="52.20" y1="298.03" x2="55.30" y2="298.03" stroke="#111" stroke-width="1.00"/>
<text x="45.8" y="301.5" font-size="9.50" text-anchor="end" fill="#151515">96F<tspan font-size="5.50" dy="3.6">1</tspan></text>
<line x1="52.20" y1="311.54" x2="55.30" y2="311.54" stroke="#111" stroke-width="1.00"/>
<text x="45.8" y="315.0" font-size="9.50" text-anchor="end" fill="#151515">28F<tspan font-size="5.50" dy="3.6">1</tspan></text>
<line x1="52.20" y1="325.05" x2="55.30" y2="325.05" stroke="#111" stroke-width="1.00"/>
<text x="45.8" y="328.6" font-size="9.50" text-anchor="end" fill="#151515">27F<tspan font-size="5.50" dy="3.6">1</tspan></text>
<line x1="52.20" y1="338.56" x2="55.30" y2="338.56" stroke="#111" stroke-width="1.00"/>
<text x="45.8" y="342.1" font-size="9.50" text-anchor="end" fill="#151515">17F<tspan font-size="5.50" dy="3.6">1</tspan></text>
<line x1="52.20" y1="352.07" x2="55.30" y2="352.07" stroke="#111" stroke-width="1.00"/>
<text x="45.8" y="355.6" font-size="9.50" text-anchor="end" fill="#151515">8F<tspan font-size="5.50" dy="3.6">1</tspan></text>
<line x1="52.20" y1="365.58" x2="55.30" y2="365.58" stroke="#111" stroke-width="1.00"/>
<text x="47.8" y="369.1" font-size="9.50" text-anchor="end" fill="#151515">135E</text>
<line x1="52.20" y1="379.09" x2="55.30" y2="379.09" stroke="#111" stroke-width="1.00"/>
<text x="47.8" y="382.6" font-size="9.50" text-anchor="end" fill="#151515">121E</text>
<line x1="52.20" y1="392.60" x2="55.30" y2="392.60" stroke="#111" stroke-width="1.00"/>
<text x="47.8" y="396.1" font-size="9.50" text-anchor="end" fill="#151515">31E</text>
<line x1="52.20" y1="406.11" x2="55.30" y2="406.11" stroke="#111" stroke-width="1.00"/>
<text x="47.8" y="409.6" font-size="9.50" text-anchor="end" fill="#151515">22E</text>
<line x1="52.20" y1="419.62" x2="55.30" y2="419.62" stroke="#111" stroke-width="1.00"/>
<text x="47.8" y="423.1" font-size="9.50" text-anchor="end" fill="#151515">17E</text>
<line x1="52.20" y1="433.13" x2="55.30" y2="433.13" stroke="#111" stroke-width="1.00"/>
<text x="47.8" y="436.6" font-size="9.50" text-anchor="end" fill="#151515">13E</text>
<line x1="52.20" y1="446.64" x2="55.30" y2="446.64" stroke="#111" stroke-width="1.00"/>
<text x="47.8" y="450.1" font-size="9.50" text-anchor="end" fill="#151515">3E</text>
<g stroke="#000" stroke-width="0.85">
<circle cx="65.5" cy="257.5" r="5.70" fill="#22a884"/>
<circle cx="82.5" cy="257.5" r="5.70" fill="#21918c"/>
<circle cx="99.5" cy="257.5" r="5.70" fill="#1f958b"/>
<circle cx="116.5" cy="257.5" r="1.95" fill="#2c738e"/>
<circle cx="133.5" cy="257.5" r="5.45" fill="#fde725"/>
<circle cx="150.5" cy="257.5" r="4.20" fill="#22a884"/>
<circle cx="167.5" cy="257.5" r="1.95" fill="#2c738e"/>
<circle cx="184.5" cy="257.5" r="4.70" fill="#306a8e"/>
<circle cx="201.5" cy="257.5" r="4.45" fill="#1f958b"/>
<circle cx="218.5" cy="257.5" r="3.20" fill="#21918c"/>
<circle cx="235.5" cy="257.5" r="2.95" fill="#8ed645"/>
<circle cx="252.5" cy="257.5" r="3.20" fill="#2a788e"/>
<circle cx="269.5" cy="257.5" r="1.95" fill="#f1e51d"/>
<circle cx="286.5" cy="257.5" r="4.45" fill="#21918c"/>
<circle cx="303.5" cy="257.5" r="3.20" fill="#2c738e"/>
<circle cx="320.5" cy="257.5" r="5.20" fill="#d2e21b"/>
<circle cx="337.5" cy="257.5" r="4.20" fill="#21918c"/>
<circle cx="354.5" cy="257.5" r="3.95" fill="#1f958b"/>
<circle cx="371.5" cy="257.5" r="2.70" fill="#31678e"/>
<circle cx="388.5" cy="257.5" r="1.95" fill="#31678e"/>
<circle cx="405.5" cy="257.5" r="0.75" fill="#111" stroke="none"/>
<circle cx="422.5" cy="257.5" r="0.75" fill="#111" stroke="none"/>
<circle cx="439.5" cy="257.5" r="1.70" fill="#471365"/>
<circle cx="456.5" cy="257.5" r="2.45" fill="#460b5e"/>
<circle cx="473.5" cy="257.5" r="0.90" fill="#111" stroke="none"/>
<circle cx="490.5" cy="257.5" r="2.95" fill="#31678e"/>
<circle cx="507.5" cy="257.5" r="4.95" fill="#3a548c"/>
<circle cx="524.5" cy="257.5" r="5.20" fill="#32648e"/>
<circle cx="541.5" cy="257.5" r="1.15" fill="#111" stroke="none"/>
<circle cx="558.5" cy="257.5" r="1.40" fill="#111" stroke="none"/>
<circle cx="575.5" cy="257.5" r="0.90" fill="#111" stroke="none"/>
<circle cx="592.5" cy="257.5" r="3.70" fill="#3b528b"/>
<circle cx="65.5" cy="271.0" r="5.70" fill="#e5e419"/>
<circle cx="82.5" cy="271.0" r="5.70" fill="#63cb5f"/>
<circle cx="99.5" cy="271.0" r="5.70" fill="#f8e621"/>
<circle cx="116.5" cy="271.0" r="4.95" fill="#32b67a"/>
<circle cx="133.5" cy="271.0" r="5.70" fill="#1f978b"/>
<circle cx="150.5" cy="271.0" r="5.45" fill="#6ece58"/>
<circle cx="167.5" cy="271.0" r="2.95" fill="#2d718e"/>
<circle cx="184.5" cy="271.0" r="4.95" fill="#21918c"/>
<circle cx="201.5" cy="271.0" r="5.70" fill="#95d840"/>
<circle cx="218.5" cy="271.0" r="5.45" fill="#fde725"/>
<circle cx="235.5" cy="271.0" r="4.45" fill="#86d549"/>
<circle cx="252.5" cy="271.0" r="5.20" fill="#21918c"/>
<circle cx="269.5" cy="271.0" r="1.20" fill="#2a788e"/>
<circle cx="286.5" cy="271.0" r="4.70" fill="#24868e"/>
<circle cx="303.5" cy="271.0" r="4.70" fill="#26ad81"/>
<circle cx="320.5" cy="271.0" r="4.95" fill="#25ab82"/>
<circle cx="337.5" cy="271.0" r="4.95" fill="#37b878"/>
<circle cx="354.5" cy="271.0" r="4.95" fill="#1e9c89"/>
<circle cx="371.5" cy="271.0" r="4.70" fill="#32648e"/>
<circle cx="388.5" cy="271.0" r="4.70" fill="#2d718e"/>
<circle cx="405.5" cy="271.0" r="0.90" fill="#111" stroke="none"/>
<circle cx="422.5" cy="271.0" r="0.90" fill="#111" stroke="none"/>
<circle cx="439.5" cy="271.0" r="3.45" fill="#472a7a"/>
<circle cx="456.5" cy="271.0" r="4.95" fill="#21918c"/>
<circle cx="473.5" cy="271.0" r="2.70" fill="#31678e"/>
<circle cx="490.5" cy="271.0" r="4.45" fill="#2d718e"/>
<circle cx="507.5" cy="271.0" r="5.70" fill="#22a884"/>
<circle cx="524.5" cy="271.0" r="5.20" fill="#414487"/>
<circle cx="541.5" cy="271.0" r="2.70" fill="#306a8e"/>
<circle cx="558.5" cy="271.0" r="4.45" fill="#20928c"/>
<circle cx="575.5" cy="271.0" r="1.40" fill="#111" stroke="none"/>
<circle cx="592.5" cy="271.0" r="5.20" fill="#2d718e"/>
<circle cx="65.5" cy="284.5" r="5.95" fill="#dfe318"/>
<circle cx="82.5" cy="284.5" r="5.70" fill="#fde725"/>
<circle cx="99.5" cy="284.5" r="5.70" fill="#bddf26"/>
<circle cx="116.5" cy="284.5" r="5.45" fill="#fde725"/>
<circle cx="133.5" cy="284.5" r="5.70" fill="#e5e419"/>
<circle cx="150.5" cy="284.5" r="5.70" fill="#f8e621"/>
<circle cx="167.5" cy="284.5" r="5.45" fill="#fde725"/>
<circle cx="184.5" cy="284.5" r="5.45" fill="#fde725"/>
<circle cx="201.5" cy="284.5" r="5.70" fill="#fde725"/>
<circle cx="218.5" cy="284.5" r="4.70" fill="#31678e"/>
<circle cx="235.5" cy="284.5" r="4.95" fill="#86d549"/>
<circle cx="252.5" cy="284.5" r="5.45" fill="#fde725"/>
<circle cx="269.5" cy="284.5" r="3.70" fill="#f8e621"/>
<circle cx="286.5" cy="284.5" r="5.70" fill="#fde725"/>
<circle cx="303.5" cy="284.5" r="5.70" fill="#fde725"/>
<circle cx="320.5" cy="284.5" r="5.45" fill="#d2e21b"/>
<circle cx="337.5" cy="284.5" r="5.20" fill="#3e4989"/>
<circle cx="354.5" cy="284.5" r="4.45" fill="#2d718e"/>
<circle cx="371.5" cy="284.5" r="3.95" fill="#31678e"/>
<circle cx="388.5" cy="284.5" r="3.20" fill="#306a8e"/>
<circle cx="405.5" cy="284.5" r="1.15" fill="#111" stroke="none"/>
<circle cx="422.5" cy="284.5" r="0.75" fill="#111" stroke="none"/>
<circle cx="439.5" cy="284.5" r="2.95" fill="#481a6c"/>
<circle cx="456.5" cy="284.5" r="4.95" fill="#414487"/>
<circle cx="473.5" cy="284.5" r="2.70" fill="#38588c"/>
<circle cx="490.5" cy="284.5" r="1.95" fill="#32648e"/>
<circle cx="507.5" cy="284.5" r="5.20" fill="#38588c"/>
<circle cx="524.5" cy="284.5" r="5.45" fill="#482475"/>
<circle cx="541.5" cy="284.5" r="1.40" fill="#111" stroke="none"/>
<circle cx="558.5" cy="284.5" r="2.95" fill="#424086"/>
<circle cx="575.5" cy="284.5" r="1.40" fill="#111" stroke="none"/>
<circle cx="592.5" cy="284.5" r="4.20" fill="#443a83"/>
<circle cx="65.5" cy="298.0" r="2.45" fill="#306a8e"/>
<circle cx="82.5" cy="298.0" r="4.70" fill="#2e6f8e"/>
<circle cx="99.5" cy="298.0" r="4.45" fill="#31678e"/>
<circle cx="116.5" cy="298.0" r="0.90" fill="#111" stroke="none"/>
<circle cx="133.5" cy="298.0" r="2.20" fill="#306a8e"/>
<circle cx="150.5" cy="298.0" r="1.20" fill="#306a8e"/>
<circle cx="167.5" cy="298.0" r="1.20" fill="#2e6f8e"/>
<circle cx="184.5" cy="298.0" r="4.70" fill="#20a386"/>
<circle cx="201.5" cy="298.0" r="1.95" fill="#2f6c8e"/>
<circle cx="218.5" cy="298.0" r="1.95" fill="#2a788e"/>
<circle cx="235.5" cy="298.0" r="1.15" fill="#111" stroke="none"/>
<circle cx="252.5" cy="298.0" r="0.90" fill="#111" stroke="none"/>
<circle cx="269.5" cy="298.0" r="0.90" fill="#111" stroke="none"/>
<circle cx="286.5" cy="298.0" r="3.95" fill="#23898e"/>
<circle cx="303.5" cy="298.0" r="0.90" fill="#111" stroke="none"/>
<circle cx="320.5" cy="298.0" r="0.90" fill="#111" stroke="none"/>
<circle cx="337.5" cy="298.0" r="1.70" fill="#3b528b"/>
<circle cx="354.5" cy="298.0" r="2.70" fill="#1fa188"/>
<circle cx="371.5" cy="298.0" r="5.20" fill="#52c569"/>
<circle cx="388.5" cy="298.0" r="5.45" fill="#6ece58"/>
<circle cx="405.5" cy="298.0" r="4.45" fill="#22a884"/>
<circle cx="422.5" cy="298.0" r="4.95" fill="#b0dd2f"/>
<circle cx="439.5" cy="298.0" r="3.20" fill="#1f958b"/>
<circle cx="456.5" cy="298.0" r="3.45" fill="#75d054"/>
<circle cx="473.5" cy="298.0" r="1.40" fill="#111" stroke="none"/>
<circle cx="490.5" cy="298.0" r="1.15" fill="#111" stroke="none"/>
<circle cx="507.5" cy="298.0" r="2.70" fill="#414487"/>
<circle cx="524.5" cy="298.0" r="4.70" fill="#2d718e"/>
<circle cx="541.5" cy="298.0" r="1.40" fill="#111" stroke="none"/>
<circle cx="558.5" cy="298.0" r="1.95" fill="#2f6c8e"/>
<circle cx="575.5" cy="298.0" r="0.90" fill="#111" stroke="none"/>
<circle cx="592.5" cy="298.0" r="4.20" fill="#2c738e"/>
<circle cx="65.5" cy="311.5" r="1.40" fill="#111" stroke="none"/>
<circle cx="82.5" cy="311.5" r="5.45" fill="#2c738e"/>
<circle cx="99.5" cy="311.5" r="5.20" fill="#21918c"/>
<circle cx="116.5" cy="311.5" r="0.90" fill="#111" stroke="none"/>
<circle cx="133.5" cy="311.5" r="2.45" fill="#2e6f8e"/>
<circle cx="150.5" cy="311.5" r="1.95" fill="#2f6c8e"/>
<circle cx="167.5" cy="311.5" r="1.45" fill="#2e6f8e"/>
<circle cx="184.5" cy="311.5" r="2.95" fill="#31678e"/>
<circle cx="201.5" cy="311.5" r="2.70" fill="#2d718e"/>
<circle cx="218.5" cy="311.5" r="2.70" fill="#2a788e"/>
<circle cx="235.5" cy="311.5" r="1.70" fill="#2d718e"/>
<circle cx="252.5" cy="311.5" r="0.75" fill="#111" stroke="none"/>
<circle cx="269.5" cy="311.5" r="0.75" fill="#111" stroke="none"/>
<circle cx="286.5" cy="311.5" r="3.45" fill="#297a8e"/>
<circle cx="303.5" cy="311.5" r="0.75" fill="#111" stroke="none"/>
<circle cx="320.5" cy="311.5" r="1.20" fill="#2f6c8e"/>
<circle cx="337.5" cy="311.5" r="2.70" fill="#31678e"/>
<circle cx="354.5" cy="311.5" r="2.70" fill="#228b8d"/>
<circle cx="371.5" cy="311.5" r="5.20" fill="#21918c"/>
<circle cx="388.5" cy="311.5" r="5.20" fill="#fde725"/>
<circle cx="405.5" cy="311.5" r="5.20" fill="#fde725"/>
<circle cx="422.5" cy="311.5" r="4.95" fill="#37b878"/>
<circle cx="439.5" cy="311.5" r="4.45" fill="#1f9f88"/>
<circle cx="456.5" cy="311.5" r="4.20" fill="#22a884"/>
<circle cx="473.5" cy="311.5" r="1.70" fill="#31678e"/>
<circle cx="490.5" cy="311.5" r="0.90" fill="#111" stroke="none"/>
<circle cx="507.5" cy="311.5" r="4.95" fill="#21918c"/>
<circle cx="524.5" cy="311.5" r="4.70" fill="#31678e"/>
<circle cx="541.5" cy="311.5" r="1.20" fill="#2f6c8e"/>
<circle cx="558.5" cy="311.5" r="2.20" fill="#2c738e"/>
<circle cx="575.5" cy="311.5" r="0.90" fill="#111" stroke="none"/>
<circle cx="592.5" cy="311.5" r="4.45" fill="#31678e"/>
<circle cx="65.5" cy="325.1" r="1.40" fill="#111" stroke="none"/>
<circle cx="82.5" cy="325.1" r="5.45" fill="#306a8e"/>
<circle cx="99.5" cy="325.1" r="5.20" fill="#20928c"/>
<circle cx="116.5" cy="325.1" r="0.90" fill="#111" stroke="none"/>
<circle cx="133.5" cy="325.1" r="2.70" fill="#2f6c8e"/>
<circle cx="150.5" cy="325.1" r="2.20" fill="#2f6c8e"/>
<circle cx="167.5" cy="325.1" r="3.70" fill="#37b878"/>
<circle cx="184.5" cy="325.1" r="4.70" fill="#1fa188"/>
<circle cx="201.5" cy="325.1" r="3.95" fill="#2c738e"/>
<circle cx="218.5" cy="325.1" r="2.95" fill="#2d718e"/>
<circle cx="235.5" cy="325.1" r="2.70" fill="#24868e"/>
<circle cx="252.5" cy="325.1" r="1.15" fill="#111" stroke="none"/>
<circle cx="269.5" cy="325.1" r="0.90" fill="#111" stroke="none"/>
<circle cx="286.5" cy="325.1" r="3.70" fill="#2a788e"/>
<circle cx="303.5" cy="325.1" r="0.90" fill="#111" stroke="none"/>
<circle cx="320.5" cy="325.1" r="1.20" fill="#2f6c8e"/>
<circle cx="337.5" cy="325.1" r="3.20" fill="#306a8e"/>
<circle cx="354.5" cy="325.1" r="2.70" fill="#2b758e"/>
<circle cx="371.5" cy="325.1" r="5.20" fill="#7ad151"/>
<circle cx="388.5" cy="325.1" r="5.20" fill="#7ad151"/>
<circle cx="405.5" cy="325.1" r="4.95" fill="#22a884"/>
<circle cx="422.5" cy="325.1" r="4.70" fill="#1fa188"/>
<circle cx="439.5" cy="325.1" r="4.20" fill="#23898e"/>
<circle cx="456.5" cy="325.1" r="4.20" fill="#21a685"/>
<circle cx="473.5" cy="325.1" r="1.95" fill="#31678e"/>
<circle cx="490.5" cy="325.1" r="1.40" fill="#111" stroke="none"/>
<circle cx="507.5" cy="325.1" r="4.20" fill="#306a8e"/>
<circle cx="524.5" cy="325.1" r="4.70" fill="#414487"/>
<circle cx="541.5" cy="325.1" r="1.40" fill="#111" stroke="none"/>
<circle cx="558.5" cy="325.1" r="2.45" fill="#306a8e"/>
<circle cx="575.5" cy="325.1" r="0.90" fill="#111" stroke="none"/>
<circle cx="592.5" cy="325.1" r="5.20" fill="#2c738e"/>
<circle cx="65.5" cy="338.6" r="2.70" fill="#306a8e"/>
<circle cx="82.5" cy="338.6" r="5.20" fill="#297a8e"/>
<circle cx="99.5" cy="338.6" r="4.95" fill="#2b758e"/>
<circle cx="116.5" cy="338.6" r="0.90" fill="#111" stroke="none"/>
<circle cx="133.5" cy="338.6" r="2.70" fill="#2f6c8e"/>
<circle cx="150.5" cy="338.6" r="1.70" fill="#2f6c8e"/>
<circle cx="167.5" cy="338.6" r="2.20" fill="#228b8d"/>
<circle cx="184.5" cy="338.6" r="4.70" fill="#20a386"/>
<circle cx="201.5" cy="338.6" r="3.45" fill="#21918c"/>
<circle cx="218.5" cy="338.6" r="1.70" fill="#2f6c8e"/>
<circle cx="235.5" cy="338.6" r="1.20" fill="#2f6c8e"/>
<circle cx="252.5" cy="338.6" r="0.90" fill="#111" stroke="none"/>
<circle cx="269.5" cy="338.6" r="0.90" fill="#111" stroke="none"/>
<circle cx="286.5" cy="338.6" r="3.70" fill="#21918c"/>
<circle cx="303.5" cy="338.6" r="0.90" fill="#111" stroke="none"/>
<circle cx="320.5" cy="338.6" r="1.70" fill="#2d718e"/>
<circle cx="337.5" cy="338.6" r="2.70" fill="#2c738e"/>
<circle cx="354.5" cy="338.6" r="2.70" fill="#22a884"/>
<circle cx="371.5" cy="338.6" r="4.95" fill="#25ab82"/>
<circle cx="388.5" cy="338.6" r="4.20" fill="#25848e"/>
<circle cx="405.5" cy="338.6" r="3.70" fill="#21a685"/>
<circle cx="422.5" cy="338.6" r="3.70" fill="#44bf70"/>
<circle cx="439.5" cy="338.6" r="2.95" fill="#23898e"/>
<circle cx="456.5" cy="338.6" r="3.20" fill="#69cd5b"/>
<circle cx="473.5" cy="338.6" r="0.90" fill="#111" stroke="none"/>
<circle cx="490.5" cy="338.6" r="1.40" fill="#111" stroke="none"/>
<circle cx="507.5" cy="338.6" r="4.45" fill="#31678e"/>
<circle cx="524.5" cy="338.6" r="4.45" fill="#32648e"/>
<circle cx="541.5" cy="338.6" r="1.40" fill="#111" stroke="none"/>
<circle cx="558.5" cy="338.6" r="1.95" fill="#2c738e"/>
<circle cx="575.5" cy="338.6" r="1.15" fill="#111" stroke="none"/>
<circle cx="592.5" cy="338.6" r="3.20" fill="#3a548c"/>
<circle cx="65.5" cy="352.1" r="0.75" fill="#111" stroke="none"/>
<circle cx="82.5" cy="352.1" r="5.20" fill="#1f9a8a"/>
<circle cx="99.5" cy="352.1" r="4.95" fill="#2d718e"/>
<circle cx="116.5" cy="352.1" r="0.90" fill="#111" stroke="none"/>
<circle cx="133.5" cy="352.1" r="3.70" fill="#31678e"/>
<circle cx="150.5" cy="352.1" r="4.45" fill="#27808e"/>
<circle cx="167.5" cy="352.1" r="1.95" fill="#2f6c8e"/>
<circle cx="184.5" cy="352.1" r="4.95" fill="#218e8d"/>
<circle cx="201.5" cy="352.1" r="4.95" fill="#1f9a8a"/>
<circle cx="218.5" cy="352.1" r="5.20" fill="#23898e"/>
<circle cx="235.5" cy="352.1" r="3.20" fill="#414487"/>
<circle cx="252.5" cy="352.1" r="2.70" fill="#2e6f8e"/>
<circle cx="269.5" cy="352.1" r="0.90" fill="#111" stroke="none"/>
<circle cx="286.5" cy="352.1" r="3.95" fill="#2c738e"/>
<circle cx="303.5" cy="352.1" r="1.20" fill="#2d718e"/>
<circle cx="320.5" cy="352.1" r="2.20" fill="#2e6f8e"/>
<circle cx="337.5" cy="352.1" r="5.45" fill="#4ec36b"/>
<circle cx="354.5" cy="352.1" r="5.45" fill="#fde725"/>
<circle cx="371.5" cy="352.1" r="5.45" fill="#e5e419"/>
<circle cx="388.5" cy="352.1" r="5.45" fill="#23898e"/>
<circle cx="405.5" cy="352.1" r="5.20" fill="#21918c"/>
<circle cx="422.5" cy="352.1" r="5.20" fill="#a8db34"/>
<circle cx="439.5" cy="352.1" r="4.95" fill="#3a548c"/>
<circle cx="456.5" cy="352.1" r="5.20" fill="#3bbb75"/>
<circle cx="473.5" cy="352.1" r="2.95" fill="#32648e"/>
<circle cx="490.5" cy="352.1" r="1.20" fill="#2f6c8e"/>
<circle cx="507.5" cy="352.1" r="5.45" fill="#2c738e"/>
<circle cx="524.5" cy="352.1" r="5.45" fill="#2d718e"/>
<circle cx="541.5" cy="352.1" r="2.45" fill="#31678e"/>
<circle cx="558.5" cy="352.1" r="4.95" fill="#20928c"/>
<circle cx="575.5" cy="352.1" r="2.70" fill="#2c738e"/>
<circle cx="592.5" cy="352.1" r="4.70" fill="#424086"/>
<circle cx="65.5" cy="365.6" r="3.20" fill="#2f6c8e"/>
<circle cx="82.5" cy="365.6" r="2.45" fill="#306a8e"/>
<circle cx="99.5" cy="365.6" r="3.95" fill="#31678e"/>
<circle cx="116.5" cy="365.6" r="0.90" fill="#111" stroke="none"/>
<circle cx="133.5" cy="365.6" r="2.45" fill="#287d8e"/>
<circle cx="150.5" cy="365.6" r="1.40" fill="#111" stroke="none"/>
<circle cx="167.5" cy="365.6" r="0.90" fill="#111" stroke="none"/>
<circle cx="184.5" cy="365.6" r="1.20" fill="#2f6c8e"/>
<circle cx="201.5" cy="365.6" r="1.45" fill="#2f6c8e"/>
<circle cx="218.5" cy="365.6" r="2.95" fill="#1f958b"/>
<circle cx="235.5" cy="365.6" r="1.40" fill="#111" stroke="none"/>
<circle cx="252.5" cy="365.6" r="1.40" fill="#111" stroke="none"/>
<circle cx="269.5" cy="365.6" r="0.90" fill="#111" stroke="none"/>
<circle cx="286.5" cy="365.6" r="0.90" fill="#111" stroke="none"/>
<circle cx="303.5" cy="365.6" r="2.45" fill="#21918c"/>
<circle cx="320.5" cy="365.6" r="3.45" fill="#20a386"/>
<circle cx="337.5" cy="365.6" r="4.20" fill="#8ed645"/>
<circle cx="354.5" cy="365.6" r="2.45" fill="#1f958b"/>
<circle cx="371.5" cy="365.6" r="3.95" fill="#306a8e"/>
<circle cx="388.5" cy="365.6" r="1.40" fill="#111" stroke="none"/>
<circle cx="405.5" cy="365.6" r="0.90" fill="#111" stroke="none"/>
<circle cx="422.5" cy="365.6" r="1.15" fill="#111" stroke="none"/>
<circle cx="439.5" cy="365.6" r="2.45" fill="#3a548c"/>
<circle cx="456.5" cy="365.6" r="2.70" fill="#32648e"/>
<circle cx="473.5" cy="365.6" r="2.20" fill="#31678e"/>
<circle cx="490.5" cy="365.6" r="2.20" fill="#306a8e"/>
<circle cx="507.5" cy="365.6" r="3.45" fill="#32648e"/>
<circle cx="524.5" cy="365.6" r="4.20" fill="#2c738e"/>
<circle cx="541.5" cy="365.6" r="1.95" fill="#31678e"/>
<circle cx="558.5" cy="365.6" r="1.20" fill="#31678e"/>
<circle cx="575.5" cy="365.6" r="2.45" fill="#2d718e"/>
<circle cx="592.5" cy="365.6" r="4.70" fill="#1fa188"/>
<circle cx="65.5" cy="379.1" r="2.95" fill="#2e6f8e"/>
<circle cx="82.5" cy="379.1" r="2.20" fill="#2f6c8e"/>
<circle cx="99.5" cy="379.1" r="2.45" fill="#355f8d"/>
<circle cx="116.5" cy="379.1" r="0.90" fill="#111" stroke="none"/>
<circle cx="133.5" cy="379.1" r="1.45" fill="#2f6c8e"/>
<circle cx="150.5" cy="379.1" r="1.15" fill="#111" stroke="none"/>
<circle cx="167.5" cy="379.1" r="0.90" fill="#111" stroke="none"/>
<circle cx="184.5" cy="379.1" r="1.20" fill="#2f6c8e"/>
<circle cx="201.5" cy="379.1" r="1.15" fill="#111" stroke="none"/>
<circle cx="218.5" cy="379.1" r="2.70" fill="#2a788e"/>
<circle cx="235.5" cy="379.1" r="2.20" fill="#24868e"/>
<circle cx="252.5" cy="379.1" r="1.40" fill="#111" stroke="none"/>
<circle cx="269.5" cy="379.1" r="0.90" fill="#111" stroke="none"/>
<circle cx="286.5" cy="379.1" r="0.90" fill="#111" stroke="none"/>
<circle cx="303.5" cy="379.1" r="0.90" fill="#111" stroke="none"/>
<circle cx="320.5" cy="379.1" r="1.40" fill="#111" stroke="none"/>
<circle cx="337.5" cy="379.1" r="3.45" fill="#26ad81"/>
<circle cx="354.5" cy="379.1" r="0.90" fill="#111" stroke="none"/>
<circle cx="371.5" cy="379.1" r="4.20" fill="#306a8e"/>
<circle cx="388.5" cy="379.1" r="1.70" fill="#2f6c8e"/>
<circle cx="405.5" cy="379.1" r="0.90" fill="#111" stroke="none"/>
<circle cx="422.5" cy="379.1" r="0.90" fill="#111" stroke="none"/>
<circle cx="439.5" cy="379.1" r="4.45" fill="#bddf26"/>
<circle cx="456.5" cy="379.1" r="2.95" fill="#31678e"/>
<circle cx="473.5" cy="379.1" r="2.95" fill="#2b758e"/>
<circle cx="490.5" cy="379.1" r="4.95" fill="#20928c"/>
<circle cx="507.5" cy="379.1" r="5.45" fill="#1f978b"/>
<circle cx="524.5" cy="379.1" r="5.20" fill="#32b67a"/>
<circle cx="541.5" cy="379.1" r="4.20" fill="#20928c"/>
<circle cx="558.5" cy="379.1" r="3.70" fill="#d8e219"/>
<circle cx="575.5" cy="379.1" r="4.70" fill="#24868e"/>
<circle cx="592.5" cy="379.1" r="4.95" fill="#23898e"/>
<circle cx="65.5" cy="392.6" r="1.15" fill="#111" stroke="none"/>
<circle cx="82.5" cy="392.6" r="2.45" fill="#2f6c8e"/>
<circle cx="99.5" cy="392.6" r="1.45" fill="#355f8d"/>
<circle cx="116.5" cy="392.6" r="0.90" fill="#111" stroke="none"/>
<circle cx="133.5" cy="392.6" r="0.90" fill="#111" stroke="none"/>
<circle cx="150.5" cy="392.6" r="1.45" fill="#2f6c8e"/>
<circle cx="167.5" cy="392.6" r="0.90" fill="#111" stroke="none"/>
<circle cx="184.5" cy="392.6" r="1.20" fill="#2f6c8e"/>
<circle cx="201.5" cy="392.6" r="0.90" fill="#111" stroke="none"/>
<circle cx="218.5" cy="392.6" r="2.70" fill="#3b528b"/>
<circle cx="235.5" cy="392.6" r="2.20" fill="#287d8e"/>
<circle cx="252.5" cy="392.6" r="3.95" fill="#24868e"/>
<circle cx="269.5" cy="392.6" r="0.90" fill="#111" stroke="none"/>
<circle cx="286.5" cy="392.6" r="0.90" fill="#111" stroke="none"/>
<circle cx="303.5" cy="392.6" r="0.90" fill="#111" stroke="none"/>
<circle cx="320.5" cy="392.6" r="1.40" fill="#111" stroke="none"/>
<circle cx="337.5" cy="392.6" r="3.95" fill="#23898e"/>
<circle cx="354.5" cy="392.6" r="0.90" fill="#111" stroke="none"/>
<circle cx="371.5" cy="392.6" r="4.95" fill="#31678e"/>
<circle cx="388.5" cy="392.6" r="1.20" fill="#2f6c8e"/>
<circle cx="405.5" cy="392.6" r="0.90" fill="#111" stroke="none"/>
<circle cx="422.5" cy="392.6" r="0.90" fill="#111" stroke="none"/>
<circle cx="439.5" cy="392.6" r="4.70" fill="#20928c"/>
<circle cx="456.5" cy="392.6" r="3.20" fill="#433e85"/>
<circle cx="473.5" cy="392.6" r="5.45" fill="#8ed645"/>
<circle cx="490.5" cy="392.6" r="5.45" fill="#cae11f"/>
<circle cx="507.5" cy="392.6" r="5.45" fill="#86d549"/>
<circle cx="524.5" cy="392.6" r="5.45" fill="#7ad151"/>
<circle cx="541.5" cy="392.6" r="4.95" fill="#6ece58"/>
<circle cx="558.5" cy="392.6" r="2.45" fill="#2d718e"/>
<circle cx="575.5" cy="392.6" r="4.95" fill="#fde725"/>
<circle cx="592.5" cy="392.6" r="5.20" fill="#c2df23"/>
<circle cx="65.5" cy="406.1" r="2.70" fill="#2d718e"/>
<circle cx="82.5" cy="406.1" r="2.20" fill="#2f6c8e"/>
<circle cx="99.5" cy="406.1" r="2.70" fill="#32648e"/>
<circle cx="116.5" cy="406.1" r="0.90" fill="#111" stroke="none"/>
<circle cx="133.5" cy="406.1" r="1.45" fill="#2c738e"/>
<circle cx="150.5" cy="406.1" r="0.90" fill="#111" stroke="none"/>
<circle cx="167.5" cy="406.1" r="0.90" fill="#111" stroke="none"/>
<circle cx="184.5" cy="406.1" r="1.40" fill="#111" stroke="none"/>
<circle cx="201.5" cy="406.1" r="0.90" fill="#111" stroke="none"/>
<circle cx="218.5" cy="406.1" r="1.45" fill="#355f8d"/>
<circle cx="235.5" cy="406.1" r="1.20" fill="#2f6c8e"/>
<circle cx="252.5" cy="406.1" r="1.45" fill="#2a788e"/>
<circle cx="269.5" cy="406.1" r="0.90" fill="#111" stroke="none"/>
<circle cx="286.5" cy="406.1" r="0.90" fill="#111" stroke="none"/>
<circle cx="303.5" cy="406.1" r="0.90" fill="#111" stroke="none"/>
<circle cx="320.5" cy="406.1" r="1.40" fill="#111" stroke="none"/>
<circle cx="337.5" cy="406.1" r="3.20" fill="#21a685"/>
<circle cx="354.5" cy="406.1" r="0.90" fill="#111" stroke="none"/>
<circle cx="371.5" cy="406.1" r="3.95" fill="#31678e"/>
<circle cx="388.5" cy="406.1" r="0.90" fill="#111" stroke="none"/>
<circle cx="405.5" cy="406.1" r="0.90" fill="#111" stroke="none"/>
<circle cx="422.5" cy="406.1" r="0.90" fill="#111" stroke="none"/>
<circle cx="439.5" cy="406.1" r="3.20" fill="#23898e"/>
<circle cx="456.5" cy="406.1" r="2.70" fill="#2d718e"/>
<circle cx="473.5" cy="406.1" r="4.70" fill="#21a685"/>
<circle cx="490.5" cy="406.1" r="5.45" fill="#32b67a"/>
<circle cx="507.5" cy="406.1" r="4.20" fill="#414487"/>
<circle cx="524.5" cy="406.1" r="5.45" fill="#2fb47c"/>
<circle cx="541.5" cy="406.1" r="4.70" fill="#58c765"/>
<circle cx="558.5" cy="406.1" r="2.45" fill="#26ad81"/>
<circle cx="575.5" cy="406.1" r="4.70" fill="#1f978b"/>
<circle cx="592.5" cy="406.1" r="5.20" fill="#4ec36b"/>
<circle cx="65.5" cy="419.6" r="2.95" fill="#2d718e"/>
<circle cx="82.5" cy="419.6" r="2.20" fill="#2f6c8e"/>
<circle cx="99.5" cy="419.6" r="2.20" fill="#32648e"/>
<circle cx="116.5" cy="419.6" r="0.90" fill="#111" stroke="none"/>
<circle cx="133.5" cy="419.6" r="1.70" fill="#2c738e"/>
<circle cx="150.5" cy="419.6" r="1.15" fill="#111" stroke="none"/>
<circle cx="167.5" cy="419.6" r="0.90" fill="#111" stroke="none"/>
<circle cx="184.5" cy="419.6" r="1.40" fill="#111" stroke="none"/>
<circle cx="201.5" cy="419.6" r="0.90" fill="#111" stroke="none"/>
<circle cx="218.5" cy="419.6" r="1.45" fill="#355f8d"/>
<circle cx="235.5" cy="419.6" r="1.20" fill="#2f6c8e"/>
<circle cx="252.5" cy="419.6" r="1.70" fill="#287d8e"/>
<circle cx="269.5" cy="419.6" r="0.90" fill="#111" stroke="none"/>
<circle cx="286.5" cy="419.6" r="0.90" fill="#111" stroke="none"/>
<circle cx="303.5" cy="419.6" r="1.45" fill="#287d8e"/>
<circle cx="320.5" cy="419.6" r="1.95" fill="#287d8e"/>
<circle cx="337.5" cy="419.6" r="3.45" fill="#21a685"/>
<circle cx="354.5" cy="419.6" r="0.90" fill="#111" stroke="none"/>
<circle cx="371.5" cy="419.6" r="3.45" fill="#31678e"/>
<circle cx="388.5" cy="419.6" r="1.40" fill="#111" stroke="none"/>
<circle cx="405.5" cy="419.6" r="0.90" fill="#111" stroke="none"/>
<circle cx="422.5" cy="419.6" r="0.90" fill="#111" stroke="none"/>
<circle cx="439.5" cy="419.6" r="3.95" fill="#37b878"/>
<circle cx="456.5" cy="419.6" r="3.20" fill="#32b67a"/>
<circle cx="473.5" cy="419.6" r="4.95" fill="#44bf70"/>
<circle cx="490.5" cy="419.6" r="5.45" fill="#37b878"/>
<circle cx="507.5" cy="419.6" r="5.20" fill="#20928c"/>
<circle cx="524.5" cy="419.6" r="5.20" fill="#69cd5b"/>
<circle cx="541.5" cy="419.6" r="4.20" fill="#1f9f88"/>
<circle cx="558.5" cy="419.6" r="1.70" fill="#2c738e"/>
<circle cx="575.5" cy="419.6" r="4.95" fill="#2fb47c"/>
<circle cx="592.5" cy="419.6" r="5.20" fill="#32b67a"/>
<circle cx="65.5" cy="433.1" r="3.20" fill="#2e6f8e"/>
<circle cx="82.5" cy="433.1" r="4.45" fill="#2f6c8e"/>
<circle cx="99.5" cy="433.1" r="3.20" fill="#355f8d"/>
<circle cx="116.5" cy="433.1" r="1.40" fill="#111" stroke="none"/>
<circle cx="133.5" cy="433.1" r="2.70" fill="#2a788e"/>
<circle cx="150.5" cy="433.1" r="1.40" fill="#111" stroke="none"/>
<circle cx="167.5" cy="433.1" r="1.40" fill="#111" stroke="none"/>
<circle cx="184.5" cy="433.1" r="2.45" fill="#31678e"/>
<circle cx="201.5" cy="433.1" r="1.40" fill="#111" stroke="none"/>
<circle cx="218.5" cy="433.1" r="3.20" fill="#2c738e"/>
<circle cx="235.5" cy="433.1" r="2.70" fill="#24868e"/>
<circle cx="252.5" cy="433.1" r="3.20" fill="#2a788e"/>
<circle cx="269.5" cy="433.1" r="0.90" fill="#111" stroke="none"/>
<circle cx="286.5" cy="433.1" r="1.40" fill="#111" stroke="none"/>
<circle cx="303.5" cy="433.1" r="1.45" fill="#2c738e"/>
<circle cx="320.5" cy="433.1" r="2.70" fill="#2d718e"/>
<circle cx="337.5" cy="433.1" r="1.70" fill="#482475"/>
<circle cx="354.5" cy="433.1" r="0.90" fill="#111" stroke="none"/>
<circle cx="371.5" cy="433.1" r="3.70" fill="#31678e"/>
<circle cx="388.5" cy="433.1" r="0.90" fill="#111" stroke="none"/>
<circle cx="405.5" cy="433.1" r="0.90" fill="#111" stroke="none"/>
<circle cx="422.5" cy="433.1" r="0.90" fill="#111" stroke="none"/>
<circle cx="439.5" cy="433.1" r="4.95" fill="#5ec962"/>
<circle cx="456.5" cy="433.1" r="3.95" fill="#306a8e"/>
<circle cx="473.5" cy="433.1" r="5.45" fill="#bddf26"/>
<circle cx="490.5" cy="433.1" r="5.45" fill="#58c765"/>
<circle cx="507.5" cy="433.1" r="5.45" fill="#fde725"/>
<circle cx="524.5" cy="433.1" r="5.45" fill="#2cb17e"/>
<circle cx="541.5" cy="433.1" r="5.45" fill="#81d34d"/>
<circle cx="558.5" cy="433.1" r="4.70" fill="#b5de2b"/>
<circle cx="575.5" cy="433.1" r="5.20" fill="#21918c"/>
<circle cx="592.5" cy="433.1" r="5.45" fill="#32b67a"/>
<circle cx="65.5" cy="446.6" r="0.90" fill="#111" stroke="none"/>
<circle cx="82.5" cy="446.6" r="0.90" fill="#111" stroke="none"/>
<circle cx="99.5" cy="446.6" r="0.90" fill="#111" stroke="none"/>
<circle cx="116.5" cy="446.6" r="0.90" fill="#111" stroke="none"/>
<circle cx="133.5" cy="446.6" r="0.90" fill="#111" stroke="none"/>
<circle cx="150.5" cy="446.6" r="1.40" fill="#111" stroke="none"/>
<circle cx="167.5" cy="446.6" r="0.75" fill="#111" stroke="none"/>
<circle cx="184.5" cy="446.6" r="0.75" fill="#111" stroke="none"/>
<circle cx="201.5" cy="446.6" r="0.90" fill="#111" stroke="none"/>
<circle cx="218.5" cy="446.6" r="5.20" fill="#22a884"/>
<circle cx="235.5" cy="446.6" r="4.20" fill="#2d718e"/>
<circle cx="252.5" cy="446.6" r="3.95" fill="#2b758e"/>
<circle cx="269.5" cy="446.6" r="0.90" fill="#111" stroke="none"/>
<circle cx="286.5" cy="446.6" r="0.75" fill="#111" stroke="none"/>
<circle cx="303.5" cy="446.6" r="1.95" fill="#2a788e"/>
<circle cx="320.5" cy="446.6" r="1.95" fill="#2c738e"/>
<circle cx="337.5" cy="446.6" r="3.20" fill="#443a83"/>
<circle cx="354.5" cy="446.6" r="1.40" fill="#111" stroke="none"/>
<circle cx="371.5" cy="446.6" r="5.45" fill="#31678e"/>
<circle cx="388.5" cy="446.6" r="0.90" fill="#111" stroke="none"/>
<circle cx="405.5" cy="446.6" r="0.75" fill="#111" stroke="none"/>
<circle cx="422.5" cy="446.6" r="0.90" fill="#111" stroke="none"/>
<circle cx="439.5" cy="446.6" r="4.70" fill="#2c738e"/>
<circle cx="456.5" cy="446.6" r="5.20" fill="#1f9a8a"/>
<circle cx="473.5" cy="446.6" r="5.45" fill="#4ec36b"/>
<circle cx="490.5" cy="446.6" r="5.45" fill="#22a884"/>
<circle cx="507.5" cy="446.6" r="5.45" fill="#2a788e"/>
<circle cx="524.5" cy="446.6" r="5.45" fill="#22a884"/>
<circle cx="541.5" cy="446.6" r="5.45" fill="#58c765"/>
<circle cx="558.5" cy="446.6" r="4.70" fill="#1f978b"/>
<circle cx="575.5" cy="446.6" r="5.20" fill="#22a884"/>
<circle cx="592.5" cy="446.6" r="5.45" fill="#2c738e"/>
</g>
<line x1="65.50" y1="454.90" x2="65.50" y2="457.60" stroke="#111" stroke-width="1.00"/>
<text transform="translate(67.5,459.4) rotate(-90)" font-size="10" text-anchor="end" fill="#151515" style="font-style:italic">ALB</text>
<line x1="82.50" y1="454.90" x2="82.50" y2="457.60" stroke="#111" stroke-width="1.00"/>
<text transform="translate(84.5,459.4) rotate(-90)" font-size="10" text-anchor="end" fill="#151515" style="font-style:italic">SERPINA1</text>
<line x1="99.50" y1="454.90" x2="99.50" y2="457.60" stroke="#111" stroke-width="1.00"/>
<text transform="translate(101.5,459.4) rotate(-90)" font-size="10" text-anchor="end" fill="#151515" style="font-style:italic">APOA1</text>
<line x1="116.50" y1="454.90" x2="116.50" y2="457.60" stroke="#111" stroke-width="1.00"/>
<text transform="translate(118.5,459.4) rotate(-90)" font-size="10" text-anchor="end" fill="#151515" style="font-style:italic">APOH</text>
<line x1="133.50" y1="454.90" x2="133.50" y2="457.60" stroke="#111" stroke-width="1.00"/>
<text transform="translate(135.5,459.4) rotate(-90)" font-size="10" text-anchor="end" fill="#151515" style="font-style:italic">APOB</text>
<line x1="150.50" y1="454.90" x2="150.50" y2="457.60" stroke="#111" stroke-width="1.00"/>
<text transform="translate(152.5,459.4) rotate(-90)" font-size="10" text-anchor="end" fill="#151515" style="font-style:italic">ASGR1</text>
<line x1="167.50" y1="454.90" x2="167.50" y2="457.60" stroke="#111" stroke-width="1.00"/>
<text transform="translate(169.5,459.4) rotate(-90)" font-size="10" text-anchor="end" fill="#151515" style="font-style:italic">TTR</text>
<line x1="184.50" y1="454.90" x2="184.50" y2="457.60" stroke="#111" stroke-width="1.00"/>
<text transform="translate(186.5,459.4) rotate(-90)" font-size="10" text-anchor="end" fill="#151515" style="font-style:italic">FABP1</text>
<line x1="201.50" y1="454.90" x2="201.50" y2="457.60" stroke="#111" stroke-width="1.00"/>
<text transform="translate(203.5,459.4) rotate(-90)" font-size="10" text-anchor="end" fill="#151515" style="font-style:italic">TF</text>
<line x1="218.50" y1="454.90" x2="218.50" y2="457.60" stroke="#111" stroke-width="1.00"/>
<text transform="translate(220.5,459.4) rotate(-90)" font-size="10" text-anchor="end" fill="#151515" style="font-style:italic">GLUL</text>
<line x1="235.50" y1="454.90" x2="235.50" y2="457.60" stroke="#111" stroke-width="1.00"/>
<text transform="translate(237.5,459.4) rotate(-90)" font-size="10" text-anchor="end" fill="#151515" style="font-style:italic">OAT</text>
<line x1="252.50" y1="454.90" x2="252.50" y2="457.60" stroke="#111" stroke-width="1.00"/>
<text transform="translate(254.5,459.4) rotate(-90)" font-size="10" text-anchor="end" fill="#151515" style="font-style:italic">GPC3</text>
<line x1="269.50" y1="454.90" x2="269.50" y2="457.60" stroke="#111" stroke-width="1.00"/>
<text transform="translate(271.5,459.4) rotate(-90)" font-size="10" text-anchor="end" fill="#151515" style="font-style:italic">AFP</text>
<line x1="286.50" y1="454.90" x2="286.50" y2="457.60" stroke="#111" stroke-width="1.00"/>
<text transform="translate(288.5,459.4) rotate(-90)" font-size="10" text-anchor="end" fill="#151515" style="font-style:italic">SPINK1</text>
<line x1="303.50" y1="454.90" x2="303.50" y2="457.60" stroke="#111" stroke-width="1.00"/>
<text transform="translate(305.5,459.4) rotate(-90)" font-size="10" text-anchor="end" fill="#151515" style="font-style:italic">DLK1</text>
<line x1="320.50" y1="454.90" x2="320.50" y2="457.60" stroke="#111" stroke-width="1.00"/>
<text transform="translate(322.5,459.4) rotate(-90)" font-size="10" text-anchor="end" fill="#151515" style="font-style:italic">MEG3</text>
<line x1="337.50" y1="454.90" x2="337.50" y2="457.60" stroke="#111" stroke-width="1.00"/>
<text transform="translate(339.5,459.4) rotate(-90)" font-size="10" text-anchor="end" fill="#151515" style="font-style:italic">PEG10</text>
<line x1="354.50" y1="454.90" x2="354.50" y2="457.60" stroke="#111" stroke-width="1.00"/>
<text transform="translate(356.5,459.4) rotate(-90)" font-size="10" text-anchor="end" fill="#151515" style="font-style:italic">HES1</text>
<line x1="371.50" y1="454.90" x2="371.50" y2="457.60" stroke="#111" stroke-width="1.00"/>
<text transform="translate(373.5,459.4) rotate(-90)" font-size="10" text-anchor="end" fill="#151515" style="font-style:italic">CKB</text>
<line x1="388.50" y1="454.90" x2="388.50" y2="457.60" stroke="#111" stroke-width="1.00"/>
<text transform="translate(390.5,459.4) rotate(-90)" font-size="10" text-anchor="end" fill="#151515" style="font-style:italic">TSPAN8</text>
<line x1="405.50" y1="454.90" x2="405.50" y2="457.60" stroke="#111" stroke-width="1.00"/>
<text transform="translate(407.5,459.4) rotate(-90)" font-size="10" text-anchor="end" fill="#151515" style="font-style:italic">UCA1</text>
<line x1="422.50" y1="454.90" x2="422.50" y2="457.60" stroke="#111" stroke-width="1.00"/>
<text transform="translate(424.5,459.4) rotate(-90)" font-size="10" text-anchor="end" fill="#151515" style="font-style:italic">FXYD3</text>
<line x1="439.50" y1="454.90" x2="439.50" y2="457.60" stroke="#111" stroke-width="1.00"/>
<text transform="translate(441.5,459.4) rotate(-90)" font-size="10" text-anchor="end" fill="#151515" style="font-style:italic">AXIN2</text>
<line x1="456.50" y1="454.90" x2="456.50" y2="457.60" stroke="#111" stroke-width="1.00"/>
<text transform="translate(458.5,459.4) rotate(-90)" font-size="10" text-anchor="end" fill="#151515" style="font-style:italic">TBX3</text>
<line x1="473.50" y1="454.90" x2="473.50" y2="457.60" stroke="#111" stroke-width="1.00"/>
<text transform="translate(475.5,459.4) rotate(-90)" font-size="10" text-anchor="end" fill="#151515" style="font-style:italic">LEF1</text>
<line x1="490.50" y1="454.90" x2="490.50" y2="457.60" stroke="#111" stroke-width="1.00"/>
<text transform="translate(492.5,459.4) rotate(-90)" font-size="10" text-anchor="end" fill="#151515" style="font-style:italic">DKK1</text>
<line x1="507.50" y1="454.90" x2="507.50" y2="457.60" stroke="#111" stroke-width="1.00"/>
<text transform="translate(509.5,459.4) rotate(-90)" font-size="10" text-anchor="end" fill="#151515" style="font-style:italic">NOTUM</text>
<line x1="524.50" y1="454.90" x2="524.50" y2="457.60" stroke="#111" stroke-width="1.00"/>
<text transform="translate(526.5,459.4) rotate(-90)" font-size="10" text-anchor="end" fill="#151515" style="font-style:italic">NKD1</text>
<line x1="541.50" y1="454.90" x2="541.50" y2="457.60" stroke="#111" stroke-width="1.00"/>
<text transform="translate(543.5,459.4) rotate(-90)" font-size="10" text-anchor="end" fill="#151515" style="font-style:italic">MSX1</text>
<line x1="558.50" y1="454.90" x2="558.50" y2="457.60" stroke="#111" stroke-width="1.00"/>
<text transform="translate(560.5,459.4) rotate(-90)" font-size="10" text-anchor="end" fill="#151515" style="font-style:italic">BMP4</text>
<line x1="575.50" y1="454.90" x2="575.50" y2="457.60" stroke="#111" stroke-width="1.00"/>
<text transform="translate(577.5,459.4) rotate(-90)" font-size="10" text-anchor="end" fill="#151515" style="font-style:italic">VIM</text>
<line x1="592.50" y1="454.90" x2="592.50" y2="457.60" stroke="#111" stroke-width="1.00"/>
<text transform="translate(594.5,459.4) rotate(-90)" font-size="10" text-anchor="end" fill="#151515" style="font-style:italic">STMN1</text>
<line x1="56.60" y1="510.90" x2="208.20" y2="510.90" stroke="#3a3a3a" stroke-width="1.40"/>
<text x="132.4" y="523.3" font-size="9.50" text-anchor="middle" fill="#151515" style="font-style:italic">Hepatocyte</text>
<text x="132.4" y="533.9" font-size="9.50" text-anchor="middle" fill="#151515" style="font-style:italic">function</text>
<line x1="211.90" y1="510.90" x2="244.30" y2="510.90" stroke="#3a3a3a" stroke-width="1.40"/>
<text x="228.1" y="523.3" font-size="9.50" text-anchor="middle" fill="#151515" style="font-style:italic">Peri-</text>
<text x="228.1" y="533.9" font-size="9.50" text-anchor="middle" fill="#151515" style="font-style:italic">central</text>
<line x1="247.70" y1="510.90" x2="343.70" y2="510.90" stroke="#3a3a3a" stroke-width="1.40"/>
<text x="295.7" y="523.3" font-size="9.50" text-anchor="middle" fill="#151515" style="font-style:italic">Liver</text>
<text x="295.7" y="533.9" font-size="9.50" text-anchor="middle" fill="#151515" style="font-style:italic">development</text>
<line x1="347.50" y1="510.90" x2="430.20" y2="510.90" stroke="#3a3a3a" stroke-width="1.40"/>
<text x="388.9" y="523.3" font-size="9.50" text-anchor="middle" fill="#151515" style="font-style:italic">Hepatic</text>
<text x="388.9" y="533.9" font-size="9.50" text-anchor="middle" fill="#151515" style="font-style:italic">intermediate</text>
<line x1="434.20" y1="510.90" x2="563.90" y2="510.90" stroke="#3a3a3a" stroke-width="1.40"/>
<text x="499.0" y="523.3" font-size="9.50" text-anchor="middle" fill="#151515" style="font-style:italic">WNT</text>
<line x1="565.90" y1="510.90" x2="595.10" y2="510.90" stroke="#3a3a3a" stroke-width="1.40"/>
<text x="580.5" y="523.3" font-size="9.50" text-anchor="middle" fill="#151515" style="font-style:italic">EMT</text>
<line x1="605.70" y1="251.90" x2="605.70" y2="291.30" stroke="#222" stroke-width="1.30"/>
<line x1="605.70" y1="297.30" x2="605.70" y2="354.90" stroke="#222" stroke-width="1.30"/>
<line x1="605.70" y1="362.90" x2="605.70" y2="450.40" stroke="#222" stroke-width="1.30"/>
<text x="639.5" y="267.3" font-size="9.50" text-anchor="middle" fill="#151515" style="font-style:italic">Hepatic high</text>
<text x="639.5" y="279.8" font-size="9.5" text-anchor="middle" fill="#222" style="font-style:italic">(F<tspan font-size="5.5" dy="2.6">2</tspan><tspan dy="-2.6">)</tspan></text>
<text x="639.3" y="317.0" font-size="9.50" text-anchor="middle" fill="#151515" style="font-style:italic">Hepatic</text>
<text x="639.3" y="327.8" font-size="9.50" text-anchor="middle" fill="#151515" style="font-style:italic">intermediate</text>
<text x="639.3" y="339.3" font-size="9.5" text-anchor="middle" fill="#222" style="font-style:italic">(F<tspan font-size="5.5" dy="2.6">1</tspan><tspan dy="-2.6">)</tspan></text>
<text x="638.5" y="376.4" font-size="9.50" text-anchor="middle" fill="#151515" style="font-style:italic">Hepatic low,</text>
<text x="638.5" y="386.6" font-size="9.50" text-anchor="middle" fill="#151515" style="font-style:italic">WNT high</text>
<text x="638.7" y="397.8" font-size="9.50" text-anchor="middle" fill="#151515" style="font-style:italic">(E)</text>
<text x="612.2" y="413.5" font-size="8.10" text-anchor="start" fill="#151515">Average Expression</text>
<rect x="617.3" y="418" width="7.6" height="41.8" fill="url(#vg)"/>
<line x1="617.30" y1="423.30" x2="618.80" y2="423.30" stroke="#fff" stroke-width="0.60"/>
<line x1="623.40" y1="423.30" x2="624.90" y2="423.30" stroke="#fff" stroke-width="0.60"/>
<text x="628.5" y="425.7" font-size="6.80" text-anchor="start" fill="#151515">2</text>
<line x1="617.30" y1="432.25" x2="618.80" y2="432.25" stroke="#fff" stroke-width="0.60"/>
<line x1="623.40" y1="432.25" x2="624.90" y2="432.25" stroke="#fff" stroke-width="0.60"/>
<text x="628.5" y="434.6" font-size="6.80" text-anchor="start" fill="#151515">1</text>
<line x1="617.30" y1="441.20" x2="618.80" y2="441.20" stroke="#fff" stroke-width="0.60"/>
<line x1="623.40" y1="441.20" x2="624.90" y2="441.20" stroke="#fff" stroke-width="0.60"/>
<text x="628.5" y="443.6" font-size="6.80" text-anchor="start" fill="#151515">0</text>
<line x1="617.30" y1="450.15" x2="618.80" y2="450.15" stroke="#fff" stroke-width="0.60"/>
<line x1="623.40" y1="450.15" x2="624.90" y2="450.15" stroke="#fff" stroke-width="0.60"/>
<text x="628.5" y="452.6" font-size="6.80" text-anchor="start" fill="#151515">−1</text>
<line x1="617.30" y1="459.10" x2="618.80" y2="459.10" stroke="#fff" stroke-width="0.60"/>
<line x1="623.40" y1="459.10" x2="624.90" y2="459.10" stroke="#fff" stroke-width="0.60"/>
<text x="628.5" y="461.5" font-size="6.80" text-anchor="start" fill="#151515">−2</text>
<text x="612.2" y="472.2" font-size="8.10" text-anchor="start" fill="#151515">Percent Expressed</text>
<circle cx="621.5" cy="478.6" r="0.70" fill="#000"/>
<text x="630.1" y="481.0" font-size="6.80" text-anchor="start" fill="#151515">0</text>
<circle cx="621.5" cy="490.8" r="2.30" fill="#000"/>
<text x="630.1" y="493.2" font-size="6.80" text-anchor="start" fill="#151515">25</text>
<circle cx="621.5" cy="502.6" r="3.70" fill="#000"/>
<text x="630.1" y="505.0" font-size="6.80" text-anchor="start" fill="#151515">50</text>
<circle cx="621.5" cy="514.5" r="4.75" fill="#000"/>
<text x="630.1" y="516.9" font-size="6.80" text-anchor="start" fill="#151515">75</text>
<circle cx="621.5" cy="526.4" r="6.20" fill="#000"/>
<text x="630.1" y="528.8" font-size="6.80" text-anchor="start" fill="#151515">100</text>
</svg></body></html>
